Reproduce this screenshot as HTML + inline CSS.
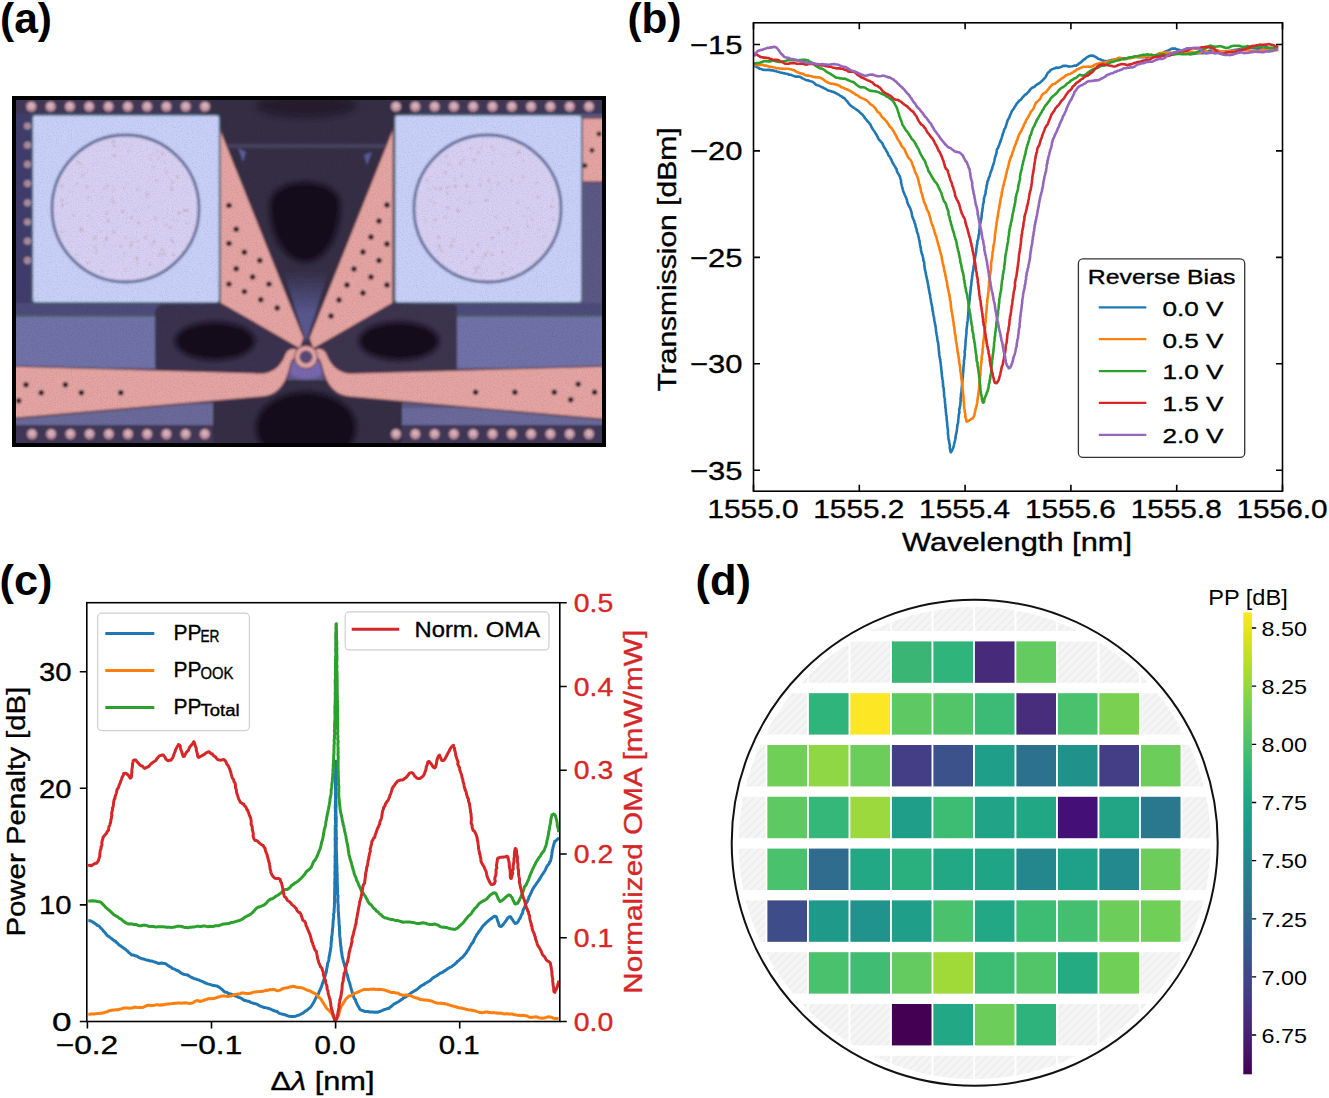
<!DOCTYPE html>
<html><head><meta charset="utf-8"><style>
html,body{margin:0;padding:0;background:#fff;width:1329px;height:1098px;overflow:hidden}
svg{display:block}
</style></head><body>
<svg width="1329" height="1098" viewBox="0 0 1329 1098">
<rect width="1329" height="1098" fill="#fff"/>
<text x="0.0" y="32.5" font-size="43" text-anchor="start" fill="#000" font-weight="bold" font-family='"Liberation Sans", sans-serif' textLength="52.0" lengthAdjust="spacingAndGlyphs">(a)</text>
<defs><clipPath id="aclip"><rect x="16" y="100" width="586" height="343"/></clipPath><filter id="blur2" x="-20%" y="-20%" width="140%" height="140%"><feGaussianBlur stdDeviation="2.5"/></filter><filter id="blur1" x="-20%" y="-20%" width="140%" height="140%"><feGaussianBlur stdDeviation="1"/></filter><filter id="gblur" x="0" y="0" width="100%" height="100%"><feGaussianBlur stdDeviation="0.9"/></filter></defs>
<g clip-path="url(#aclip)"><g filter="url(#gblur)">
<rect x="10" y="94" width="600" height="355" fill="#5b5884"/>
<rect x="10" y="94" width="600" height="20" fill="#3f3756"/>
<rect x="10" y="425" width="600" height="24" fill="#3f3756"/>
<rect x="10" y="114" width="22" height="190" fill="#403d6c"/>
<rect x="10" y="303" width="600" height="13" fill="#4e4c7a"/>
<rect x="10" y="316" width="600" height="52" fill="#7072a8"/>
<rect x="10" y="315.5" width="600" height="1.5" fill="#4a6a60"/>
<rect x="10" y="404" width="206" height="21" fill="#6b6999"/>
<rect x="400" y="408" width="210" height="17" fill="#6b6999"/>
<path d="M205,94 H410 V310 H205 Z" fill="#342e44"/>
<rect x="205" y="144" width="205" height="4" fill="#48435e"/>
<ellipse cx="306" cy="106" rx="50" ry="12" fill="#1c1424" opacity="0.6" filter="url(#blur2)"/>
<path d="M270,205 C270,175 340,175 340,205 C340,240 322,262 305,262 C288,262 270,240 270,205 Z" fill="#150d1a" filter="url(#blur2)"/>
<path d="M238,148 l8,4 -3,10z M372,152 l-8,3 3,10z" fill="#5a5c98"/>
<path d="M213,380 H402 V449 H213 Z" fill="#352f45"/>
<ellipse cx="306" cy="428" rx="50" ry="36" fill="#150d1a" filter="url(#blur2)"/>
<rect x="155" y="304" width="160" height="70" rx="9" fill="#3a3350"/>
<path d="M300,304 H452 Q457,304 457,310 V368 Q457,374 452,374 H300 Z" fill="#3c3450"/>
<ellipse cx="215" cy="341" rx="40" ry="19" fill="#150d1a" filter="url(#blur2)"/>
<ellipse cx="399" cy="341" rx="40" ry="19" fill="#150d1a" filter="url(#blur2)"/>
<ellipse cx="306" cy="368" rx="20" ry="11" fill="#7868ae" filter="url(#blur1)"/>
<defs><linearGradient id="vgrad" x1="0" y1="0" x2="0" y2="1"><stop offset="0" stop-color="#342e44"/><stop offset="0.6" stop-color="#58588e"/></linearGradient></defs>
<path d="M283,270 L329,270 L306,342 Z" fill="url(#vgrad)"/>
<path d="M219.5,127 L304,338 L300,349 L220,303 Z" fill="#e3a4a2" stroke="#5a3848" stroke-width="1.4"/>
<path d="M393.5,127 L309,338 L313,349 L393,303 Z" fill="#e3a4a2" stroke="#5a3848" stroke-width="1.4"/>
<path d="M8,366 L262,373 C276,372 282,362 285,354 C287,349 292,347 297,349 L300,356 C294,356 291,362 290,368 C286,385 278,396 262,397 L8,419 Z" fill="#e3a4a2" stroke="#5a3848" stroke-width="1.4"/>
<path d="M610,366 L350,373 C336,372 330,362 327,354 C325,349 320,347 315,349 L312,356 C318,356 321,362 322,368 C326,385 334,396 350,397 L610,420 Z" fill="#e3a4a2" stroke="#5a3848" stroke-width="1.4"/>
<circle cx="306" cy="357" r="9" fill="#5a4878" stroke="#e3a4a2" stroke-width="5"/>
<circle cx="306" cy="357" r="11.5" fill="none" stroke="#5a3848" stroke-width="1"/>
<rect x="582" y="118" width="28" height="64" fill="#e3a4a2" stroke="#5a3848" stroke-width="1.2"/>
<rect x="32.3" y="115" width="187.3" height="187.7" rx="3" fill="#c9d0f8" stroke="#4a6a78" stroke-width="1.6"/>
<circle cx="125.5" cy="208.5" r="73.5" fill="#d8d0f2" stroke="#5e6c9a" stroke-width="2.8"/>
<rect x="394.6" y="115" width="187.3" height="187.7" rx="3" fill="#c9d0f8" stroke="#4a6a78" stroke-width="1.6"/>
<circle cx="487.5" cy="208.5" r="73.5" fill="#d8d0f2" stroke="#5e6c9a" stroke-width="2.8"/>
<circle cx="80.0" cy="162.9" r="1.1" fill="#a89098" opacity="0.7"/>
<circle cx="131.3" cy="245.3" r="1.2" fill="#a89098" opacity="0.7"/>
<circle cx="187.1" cy="210.5" r="1.2" fill="#a89098" opacity="0.7"/>
<circle cx="88.8" cy="216.0" r="0.8" fill="#a89098" opacity="0.7"/>
<circle cx="124.1" cy="253.8" r="1.0" fill="#a89098" opacity="0.7"/>
<circle cx="61.5" cy="186.1" r="1.2" fill="#a89098" opacity="0.7"/>
<circle cx="76.8" cy="161.5" r="0.8" fill="#a89098" opacity="0.7"/>
<circle cx="154.0" cy="253.5" r="0.6" fill="#a89098" opacity="0.7"/>
<circle cx="173.1" cy="219.3" r="0.9" fill="#a89098" opacity="0.7"/>
<circle cx="172.3" cy="181.7" r="1.0" fill="#a89098" opacity="0.7"/>
<circle cx="91.7" cy="209.2" r="0.6" fill="#a89098" opacity="0.7"/>
<circle cx="145.5" cy="261.4" r="0.7" fill="#a89098" opacity="0.7"/>
<circle cx="122.7" cy="211.5" r="1.2" fill="#a89098" opacity="0.7"/>
<circle cx="145.4" cy="237.5" r="1.2" fill="#a89098" opacity="0.7"/>
<circle cx="63.0" cy="204.7" r="1.0" fill="#a89098" opacity="0.7"/>
<circle cx="124.4" cy="188.0" r="1.0" fill="#a89098" opacity="0.7"/>
<circle cx="62.1" cy="205.4" r="0.9" fill="#a89098" opacity="0.7"/>
<circle cx="112.0" cy="198.9" r="0.9" fill="#a89098" opacity="0.7"/>
<circle cx="113.8" cy="232.1" r="1.2" fill="#a89098" opacity="0.7"/>
<circle cx="76.6" cy="254.7" r="1.0" fill="#a89098" opacity="0.7"/>
<circle cx="82.6" cy="175.2" r="1.1" fill="#a89098" opacity="0.7"/>
<circle cx="151.8" cy="245.1" r="0.8" fill="#a89098" opacity="0.7"/>
<circle cx="108.2" cy="220.7" r="1.3" fill="#a89098" opacity="0.7"/>
<circle cx="137.7" cy="262.9" r="0.8" fill="#a89098" opacity="0.7"/>
<circle cx="164.4" cy="169.1" r="0.7" fill="#a89098" opacity="0.7"/>
<circle cx="162.7" cy="153.8" r="1.2" fill="#a89098" opacity="0.7"/>
<circle cx="102.0" cy="197.5" r="0.7" fill="#a89098" opacity="0.7"/>
<circle cx="170.9" cy="186.4" r="0.7" fill="#a89098" opacity="0.7"/>
<circle cx="166.1" cy="172.2" r="1.0" fill="#a89098" opacity="0.7"/>
<circle cx="94.4" cy="239.1" r="0.8" fill="#a89098" opacity="0.7"/>
<circle cx="187.3" cy="223.6" r="0.9" fill="#a89098" opacity="0.7"/>
<circle cx="88.6" cy="197.1" r="1.1" fill="#a89098" opacity="0.7"/>
<circle cx="166.5" cy="215.0" r="0.6" fill="#a89098" opacity="0.7"/>
<circle cx="173.4" cy="255.2" r="1.1" fill="#a89098" opacity="0.7"/>
<circle cx="81.2" cy="229.9" r="1.2" fill="#a89098" opacity="0.7"/>
<circle cx="96.3" cy="251.9" r="1.1" fill="#a89098" opacity="0.7"/>
<circle cx="95.4" cy="247.1" r="1.1" fill="#a89098" opacity="0.7"/>
<circle cx="147.7" cy="194.2" r="1.3" fill="#a89098" opacity="0.7"/>
<circle cx="184.5" cy="210.4" r="1.2" fill="#a89098" opacity="0.7"/>
<circle cx="154.2" cy="241.8" r="1.2" fill="#a89098" opacity="0.7"/>
<circle cx="179.2" cy="213.3" r="1.2" fill="#a89098" opacity="0.7"/>
<circle cx="67.8" cy="203.8" r="0.8" fill="#a89098" opacity="0.7"/>
<circle cx="138.5" cy="247.4" r="0.7" fill="#a89098" opacity="0.7"/>
<circle cx="87.9" cy="263.0" r="1.0" fill="#a89098" opacity="0.7"/>
<circle cx="106.5" cy="238.4" r="1.3" fill="#a89098" opacity="0.7"/>
<circle cx="62.2" cy="231.5" r="1.0" fill="#a89098" opacity="0.7"/>
<circle cx="61.7" cy="200.0" r="1.1" fill="#a89098" opacity="0.7"/>
<circle cx="86.7" cy="186.9" r="1.2" fill="#a89098" opacity="0.7"/>
<circle cx="70.0" cy="242.9" r="0.6" fill="#a89098" opacity="0.7"/>
<circle cx="81.2" cy="229.4" r="1.3" fill="#a89098" opacity="0.7"/>
<circle cx="125.1" cy="269.5" r="1.1" fill="#a89098" opacity="0.7"/>
<circle cx="114.4" cy="155.7" r="1.3" fill="#a89098" opacity="0.7"/>
<circle cx="104.2" cy="245.8" r="0.7" fill="#a89098" opacity="0.7"/>
<circle cx="155.3" cy="218.3" r="1.2" fill="#a89098" opacity="0.7"/>
<circle cx="137.7" cy="189.3" r="1.0" fill="#a89098" opacity="0.7"/>
<circle cx="73.5" cy="215.3" r="1.1" fill="#a89098" opacity="0.7"/>
<circle cx="102.3" cy="271.0" r="0.9" fill="#a89098" opacity="0.7"/>
<circle cx="87.9" cy="169.4" r="0.7" fill="#a89098" opacity="0.7"/>
<circle cx="165.9" cy="225.0" r="1.1" fill="#a89098" opacity="0.7"/>
<circle cx="148.6" cy="155.2" r="0.7" fill="#a89098" opacity="0.7"/>
<circle cx="177.6" cy="177.0" r="1.2" fill="#a89098" opacity="0.7"/>
<circle cx="61.1" cy="199.0" r="0.6" fill="#a89098" opacity="0.7"/>
<circle cx="135.0" cy="210.3" r="0.8" fill="#a89098" opacity="0.7"/>
<circle cx="125.8" cy="237.9" r="1.0" fill="#a89098" opacity="0.7"/>
<circle cx="176.2" cy="221.2" r="0.7" fill="#a89098" opacity="0.7"/>
<circle cx="121.2" cy="199.6" r="0.8" fill="#a89098" opacity="0.7"/>
<circle cx="171.7" cy="189.6" r="1.2" fill="#a89098" opacity="0.7"/>
<circle cx="96.5" cy="164.0" r="0.7" fill="#a89098" opacity="0.7"/>
<circle cx="113.4" cy="202.4" r="1.2" fill="#a89098" opacity="0.7"/>
<circle cx="186.4" cy="192.9" r="0.6" fill="#a89098" opacity="0.7"/>
<circle cx="105.2" cy="241.0" r="0.7" fill="#a89098" opacity="0.7"/>
<circle cx="83.0" cy="165.1" r="0.8" fill="#a89098" opacity="0.7"/>
<circle cx="165.0" cy="162.4" r="0.7" fill="#a89098" opacity="0.7"/>
<circle cx="132.3" cy="145.0" r="0.7" fill="#a89098" opacity="0.7"/>
<circle cx="76.9" cy="184.2" r="1.0" fill="#a89098" opacity="0.7"/>
<circle cx="171.0" cy="239.9" r="1.0" fill="#a89098" opacity="0.7"/>
<circle cx="152.8" cy="154.0" r="0.8" fill="#a89098" opacity="0.7"/>
<circle cx="114.4" cy="146.1" r="1.2" fill="#a89098" opacity="0.7"/>
<circle cx="131.4" cy="217.9" r="1.1" fill="#a89098" opacity="0.7"/>
<circle cx="136.7" cy="258.3" r="1.3" fill="#a89098" opacity="0.7"/>
<circle cx="100.7" cy="232.0" r="0.9" fill="#a89098" opacity="0.7"/>
<circle cx="113.6" cy="190.4" r="0.9" fill="#a89098" opacity="0.7"/>
<circle cx="162.4" cy="249.7" r="1.2" fill="#a89098" opacity="0.7"/>
<circle cx="95.8" cy="237.5" r="1.0" fill="#a89098" opacity="0.7"/>
<circle cx="132.9" cy="241.5" r="0.8" fill="#a89098" opacity="0.7"/>
<circle cx="106.8" cy="213.6" r="1.1" fill="#a89098" opacity="0.7"/>
<circle cx="92.8" cy="190.8" r="0.7" fill="#a89098" opacity="0.7"/>
<circle cx="127.5" cy="184.0" r="0.7" fill="#a89098" opacity="0.7"/>
<circle cx="138.7" cy="222.7" r="1.2" fill="#a89098" opacity="0.7"/>
<circle cx="121.0" cy="245.9" r="1.2" fill="#a89098" opacity="0.7"/>
<circle cx="104.0" cy="188.4" r="0.9" fill="#a89098" opacity="0.7"/>
<circle cx="156.6" cy="180.7" r="1.1" fill="#a89098" opacity="0.7"/>
<circle cx="173.1" cy="241.6" r="1.1" fill="#a89098" opacity="0.7"/>
<circle cx="151.1" cy="158.9" r="0.9" fill="#a89098" opacity="0.7"/>
<circle cx="170.5" cy="227.7" r="1.1" fill="#a89098" opacity="0.7"/>
<circle cx="138.2" cy="241.2" r="1.0" fill="#a89098" opacity="0.7"/>
<circle cx="124.8" cy="144.1" r="0.7" fill="#a89098" opacity="0.7"/>
<circle cx="149.9" cy="264.2" r="1.1" fill="#a89098" opacity="0.7"/>
<circle cx="113.2" cy="141.7" r="1.3" fill="#a89098" opacity="0.7"/>
<circle cx="158.6" cy="158.5" r="0.9" fill="#a89098" opacity="0.7"/>
<circle cx="107.1" cy="185.9" r="1.1" fill="#a89098" opacity="0.7"/>
<circle cx="128.3" cy="150.8" r="0.9" fill="#a89098" opacity="0.7"/>
<circle cx="93.7" cy="239.0" r="0.6" fill="#a89098" opacity="0.7"/>
<circle cx="153.5" cy="167.0" r="0.9" fill="#a89098" opacity="0.7"/>
<circle cx="70.3" cy="191.3" r="0.9" fill="#a89098" opacity="0.7"/>
<circle cx="157.1" cy="151.5" r="0.9" fill="#a89098" opacity="0.7"/>
<circle cx="163.9" cy="253.7" r="1.3" fill="#a89098" opacity="0.7"/>
<circle cx="159.8" cy="254.5" r="1.2" fill="#a89098" opacity="0.7"/>
<circle cx="146.5" cy="197.1" r="0.7" fill="#a89098" opacity="0.7"/>
<circle cx="148.7" cy="206.7" r="0.7" fill="#a89098" opacity="0.7"/>
<circle cx="447.0" cy="187.9" r="1.1" fill="#a89098" opacity="0.7"/>
<circle cx="511.2" cy="269.0" r="0.8" fill="#a89098" opacity="0.7"/>
<circle cx="489.6" cy="190.9" r="0.9" fill="#a89098" opacity="0.7"/>
<circle cx="524.8" cy="216.2" r="0.8" fill="#a89098" opacity="0.7"/>
<circle cx="478.8" cy="163.5" r="0.6" fill="#a89098" opacity="0.7"/>
<circle cx="551.6" cy="206.6" r="1.2" fill="#a89098" opacity="0.7"/>
<circle cx="488.4" cy="251.2" r="0.8" fill="#a89098" opacity="0.7"/>
<circle cx="496.2" cy="217.2" r="1.0" fill="#a89098" opacity="0.7"/>
<circle cx="507.9" cy="228.5" r="1.2" fill="#a89098" opacity="0.7"/>
<circle cx="458.5" cy="211.4" r="1.1" fill="#a89098" opacity="0.7"/>
<circle cx="482.6" cy="257.6" r="0.8" fill="#a89098" opacity="0.7"/>
<circle cx="433.9" cy="203.0" r="1.0" fill="#a89098" opacity="0.7"/>
<circle cx="439.6" cy="245.4" r="1.2" fill="#a89098" opacity="0.7"/>
<circle cx="498.3" cy="231.2" r="0.7" fill="#a89098" opacity="0.7"/>
<circle cx="552.9" cy="200.1" r="0.8" fill="#a89098" opacity="0.7"/>
<circle cx="517.9" cy="202.7" r="1.0" fill="#a89098" opacity="0.7"/>
<circle cx="422.5" cy="209.6" r="0.6" fill="#a89098" opacity="0.7"/>
<circle cx="466.5" cy="256.8" r="0.6" fill="#a89098" opacity="0.7"/>
<circle cx="491.4" cy="254.7" r="1.2" fill="#a89098" opacity="0.7"/>
<circle cx="491.8" cy="146.7" r="1.1" fill="#a89098" opacity="0.7"/>
<circle cx="471.0" cy="148.0" r="1.1" fill="#a89098" opacity="0.7"/>
<circle cx="484.1" cy="171.3" r="0.7" fill="#a89098" opacity="0.7"/>
<circle cx="488.6" cy="180.8" r="1.2" fill="#a89098" opacity="0.7"/>
<circle cx="455.4" cy="186.2" r="1.3" fill="#a89098" opacity="0.7"/>
<circle cx="514.9" cy="248.9" r="0.7" fill="#a89098" opacity="0.7"/>
<circle cx="537.9" cy="197.4" r="1.2" fill="#a89098" opacity="0.7"/>
<circle cx="475.4" cy="268.2" r="1.1" fill="#a89098" opacity="0.7"/>
<circle cx="446.4" cy="156.5" r="0.9" fill="#a89098" opacity="0.7"/>
<circle cx="438.8" cy="237.3" r="1.2" fill="#a89098" opacity="0.7"/>
<circle cx="459.2" cy="256.4" r="0.7" fill="#a89098" opacity="0.7"/>
<circle cx="431.0" cy="189.5" r="0.6" fill="#a89098" opacity="0.7"/>
<circle cx="486.3" cy="200.1" r="1.3" fill="#a89098" opacity="0.7"/>
<circle cx="444.8" cy="217.0" r="1.1" fill="#a89098" opacity="0.7"/>
<circle cx="430.0" cy="200.0" r="0.7" fill="#a89098" opacity="0.7"/>
<circle cx="440.6" cy="189.0" r="1.3" fill="#a89098" opacity="0.7"/>
<circle cx="531.8" cy="219.8" r="1.0" fill="#a89098" opacity="0.7"/>
<circle cx="469.9" cy="202.7" r="1.0" fill="#a89098" opacity="0.7"/>
<circle cx="492.7" cy="238.1" r="1.2" fill="#a89098" opacity="0.7"/>
<circle cx="502.3" cy="251.9" r="1.1" fill="#a89098" opacity="0.7"/>
<circle cx="474.1" cy="159.7" r="1.2" fill="#a89098" opacity="0.7"/>
<circle cx="435.2" cy="219.9" r="1.2" fill="#a89098" opacity="0.7"/>
<circle cx="463.7" cy="159.5" r="0.9" fill="#a89098" opacity="0.7"/>
<circle cx="447.5" cy="193.2" r="1.1" fill="#a89098" opacity="0.7"/>
<circle cx="453.6" cy="240.2" r="1.1" fill="#a89098" opacity="0.7"/>
<circle cx="448.0" cy="207.6" r="1.2" fill="#a89098" opacity="0.7"/>
<circle cx="441.7" cy="251.0" r="1.1" fill="#a89098" opacity="0.7"/>
<circle cx="433.2" cy="227.2" r="0.6" fill="#a89098" opacity="0.7"/>
<circle cx="439.0" cy="248.8" r="1.0" fill="#a89098" opacity="0.7"/>
<circle cx="435.7" cy="188.8" r="1.1" fill="#a89098" opacity="0.7"/>
<circle cx="449.3" cy="186.4" r="0.7" fill="#a89098" opacity="0.7"/>
<circle cx="477.8" cy="244.0" r="0.9" fill="#a89098" opacity="0.7"/>
<circle cx="527.9" cy="208.3" r="0.9" fill="#a89098" opacity="0.7"/>
<circle cx="451.6" cy="245.9" r="1.3" fill="#a89098" opacity="0.7"/>
<circle cx="519.5" cy="181.7" r="0.8" fill="#a89098" opacity="0.7"/>
<circle cx="523.2" cy="176.8" r="1.1" fill="#a89098" opacity="0.7"/>
<circle cx="544.2" cy="236.6" r="0.8" fill="#a89098" opacity="0.7"/>
<circle cx="457.3" cy="209.5" r="0.9" fill="#a89098" opacity="0.7"/>
<circle cx="516.6" cy="153.9" r="0.9" fill="#a89098" opacity="0.7"/>
<circle cx="492.7" cy="162.8" r="0.9" fill="#a89098" opacity="0.7"/>
<circle cx="458.2" cy="199.8" r="0.8" fill="#a89098" opacity="0.7"/>
<circle cx="471.4" cy="151.0" r="0.6" fill="#a89098" opacity="0.7"/>
<circle cx="480.9" cy="147.4" r="0.9" fill="#a89098" opacity="0.7"/>
<circle cx="539.4" cy="230.0" r="0.8" fill="#a89098" opacity="0.7"/>
<circle cx="461.6" cy="175.8" r="1.0" fill="#a89098" opacity="0.7"/>
<circle cx="485.1" cy="255.4" r="1.0" fill="#a89098" opacity="0.7"/>
<circle cx="466.7" cy="186.0" r="1.3" fill="#a89098" opacity="0.7"/>
<circle cx="478.3" cy="245.0" r="0.8" fill="#a89098" opacity="0.7"/>
<circle cx="527.8" cy="226.7" r="1.1" fill="#a89098" opacity="0.7"/>
<circle cx="479.9" cy="179.4" r="0.7" fill="#a89098" opacity="0.7"/>
<circle cx="461.6" cy="262.2" r="0.9" fill="#a89098" opacity="0.7"/>
<circle cx="536.3" cy="182.9" r="1.0" fill="#a89098" opacity="0.7"/>
<circle cx="494.0" cy="150.0" r="0.8" fill="#a89098" opacity="0.7"/>
<circle cx="485.5" cy="253.4" r="0.9" fill="#a89098" opacity="0.7"/>
<circle cx="515.9" cy="243.6" r="1.0" fill="#a89098" opacity="0.7"/>
<circle cx="504.1" cy="227.5" r="0.7" fill="#a89098" opacity="0.7"/>
<circle cx="473.6" cy="273.7" r="0.6" fill="#a89098" opacity="0.7"/>
<circle cx="498.7" cy="233.8" r="0.9" fill="#a89098" opacity="0.7"/>
<circle cx="533.3" cy="212.9" r="0.7" fill="#a89098" opacity="0.7"/>
<circle cx="480.0" cy="268.6" r="0.7" fill="#a89098" opacity="0.7"/>
<circle cx="455.4" cy="179.4" r="0.9" fill="#a89098" opacity="0.7"/>
<circle cx="498.6" cy="183.6" r="1.2" fill="#a89098" opacity="0.7"/>
<circle cx="531.1" cy="174.0" r="0.6" fill="#a89098" opacity="0.7"/>
<circle cx="460.2" cy="163.4" r="1.1" fill="#a89098" opacity="0.7"/>
<circle cx="502.5" cy="273.2" r="1.2" fill="#a89098" opacity="0.7"/>
<circle cx="516.2" cy="233.6" r="0.6" fill="#a89098" opacity="0.7"/>
<circle cx="519.2" cy="151.7" r="1.3" fill="#a89098" opacity="0.7"/>
<circle cx="445.2" cy="172.6" r="1.1" fill="#a89098" opacity="0.7"/>
<circle cx="427.5" cy="180.2" r="1.0" fill="#a89098" opacity="0.7"/>
<circle cx="462.5" cy="250.3" r="0.6" fill="#a89098" opacity="0.7"/>
<circle cx="478.3" cy="152.6" r="0.9" fill="#a89098" opacity="0.7"/>
<circle cx="522.7" cy="161.0" r="0.8" fill="#a89098" opacity="0.7"/>
<circle cx="509.4" cy="220.1" r="0.7" fill="#a89098" opacity="0.7"/>
<circle cx="472.4" cy="251.4" r="1.2" fill="#a89098" opacity="0.7"/>
<circle cx="476.1" cy="271.9" r="1.1" fill="#a89098" opacity="0.7"/>
<circle cx="513.6" cy="174.1" r="0.6" fill="#a89098" opacity="0.7"/>
<circle cx="495.3" cy="175.7" r="0.7" fill="#a89098" opacity="0.7"/>
<circle cx="504.7" cy="154.9" r="0.7" fill="#a89098" opacity="0.7"/>
<circle cx="480.2" cy="274.0" r="0.8" fill="#a89098" opacity="0.7"/>
<circle cx="480.3" cy="185.1" r="1.2" fill="#a89098" opacity="0.7"/>
<circle cx="523.6" cy="241.4" r="0.6" fill="#a89098" opacity="0.7"/>
<circle cx="428.0" cy="189.1" r="0.7" fill="#a89098" opacity="0.7"/>
<circle cx="478.5" cy="267.3" r="1.0" fill="#a89098" opacity="0.7"/>
<circle cx="466.8" cy="258.3" r="0.9" fill="#a89098" opacity="0.7"/>
<circle cx="511.4" cy="180.5" r="1.1" fill="#a89098" opacity="0.7"/>
<circle cx="449.0" cy="164.4" r="0.9" fill="#a89098" opacity="0.7"/>
<circle cx="478.6" cy="152.4" r="0.9" fill="#a89098" opacity="0.7"/>
<circle cx="553.3" cy="219.5" r="1.1" fill="#a89098" opacity="0.7"/>
<circle cx="503.8" cy="264.3" r="0.8" fill="#a89098" opacity="0.7"/>
<circle cx="425.6" cy="220.6" r="0.9" fill="#a89098" opacity="0.7"/>
<circle cx="478.6" cy="245.0" r="0.7" fill="#a89098" opacity="0.7"/>
<circle cx="229" cy="205.4" r="2.7" fill="#2a1828"/>
<circle cx="236.2" cy="229.3" r="2.7" fill="#2a1828"/>
<circle cx="229" cy="243.4" r="2.7" fill="#2a1828"/>
<circle cx="244.4" cy="252.3" r="2.7" fill="#2a1828"/>
<circle cx="259.8" cy="260.5" r="2.7" fill="#2a1828"/>
<circle cx="236.2" cy="268.7" r="2.7" fill="#2a1828"/>
<circle cx="252.6" cy="276.9" r="2.7" fill="#2a1828"/>
<circle cx="269" cy="284.1" r="2.7" fill="#2a1828"/>
<circle cx="229" cy="284.1" r="2.7" fill="#2a1828"/>
<circle cx="244.4" cy="291.6" r="2.7" fill="#2a1828"/>
<circle cx="260.8" cy="299.8" r="2.7" fill="#2a1828"/>
<circle cx="277.2" cy="308" r="2.7" fill="#2a1828"/>
<circle cx="387" cy="205" r="2.7" fill="#2a1828"/>
<circle cx="379" cy="221" r="2.7" fill="#2a1828"/>
<circle cx="371" cy="237" r="2.7" fill="#2a1828"/>
<circle cx="387" cy="244" r="2.7" fill="#2a1828"/>
<circle cx="363" cy="252" r="2.7" fill="#2a1828"/>
<circle cx="379" cy="260.5" r="2.7" fill="#2a1828"/>
<circle cx="354" cy="269" r="2.7" fill="#2a1828"/>
<circle cx="371" cy="277" r="2.7" fill="#2a1828"/>
<circle cx="387" cy="285" r="2.7" fill="#2a1828"/>
<circle cx="347" cy="285" r="2.7" fill="#2a1828"/>
<circle cx="363" cy="293" r="2.7" fill="#2a1828"/>
<circle cx="339" cy="300" r="2.7" fill="#2a1828"/>
<circle cx="331" cy="316" r="2.7" fill="#2a1828"/>
<circle cx="26" cy="384.8" r="2.7" fill="#2a1828"/>
<circle cx="41.3" cy="392.8" r="2.7" fill="#2a1828"/>
<circle cx="65.4" cy="384.8" r="2.7" fill="#2a1828"/>
<circle cx="81.4" cy="392.8" r="2.7" fill="#2a1828"/>
<circle cx="120.8" cy="392.8" r="2.7" fill="#2a1828"/>
<circle cx="18.7" cy="400.8" r="2.7" fill="#2a1828"/>
<circle cx="475.6" cy="392.3" r="2.7" fill="#2a1828"/>
<circle cx="514.9" cy="392.3" r="2.7" fill="#2a1828"/>
<circle cx="554.3" cy="392.3" r="2.7" fill="#2a1828"/>
<circle cx="578.2" cy="384.1" r="2.7" fill="#2a1828"/>
<circle cx="570.7" cy="399.8" r="2.7" fill="#2a1828"/>
<circle cx="594.6" cy="392.3" r="2.7" fill="#2a1828"/>
<circle cx="599" cy="134" r="2.4" fill="#2a1828"/>
<circle cx="592" cy="150.3" r="2.4" fill="#2a1828"/>
<circle cx="585" cy="165.7" r="2.4" fill="#2a1828"/>
<circle cx="31.3" cy="106.5" r="5.2" fill="#bc8c9c"/>
<circle cx="31.3" cy="105.7" r="3" fill="#d8b4bc"/>
<circle cx="50.6" cy="106.5" r="5.2" fill="#bc8c9c"/>
<circle cx="50.6" cy="105.7" r="3" fill="#d8b4bc"/>
<circle cx="69.9" cy="106.5" r="5.2" fill="#bc8c9c"/>
<circle cx="69.9" cy="105.7" r="3" fill="#d8b4bc"/>
<circle cx="89.2" cy="106.5" r="5.2" fill="#bc8c9c"/>
<circle cx="89.2" cy="105.7" r="3" fill="#d8b4bc"/>
<circle cx="108.5" cy="106.5" r="5.2" fill="#bc8c9c"/>
<circle cx="108.5" cy="105.7" r="3" fill="#d8b4bc"/>
<circle cx="127.8" cy="106.5" r="5.2" fill="#bc8c9c"/>
<circle cx="127.8" cy="105.7" r="3" fill="#d8b4bc"/>
<circle cx="147.1" cy="106.5" r="5.2" fill="#bc8c9c"/>
<circle cx="147.1" cy="105.7" r="3" fill="#d8b4bc"/>
<circle cx="166.4" cy="106.5" r="5.2" fill="#bc8c9c"/>
<circle cx="166.4" cy="105.7" r="3" fill="#d8b4bc"/>
<circle cx="185.7" cy="106.5" r="5.2" fill="#bc8c9c"/>
<circle cx="185.7" cy="105.7" r="3" fill="#d8b4bc"/>
<circle cx="205.0" cy="106.5" r="5.2" fill="#bc8c9c"/>
<circle cx="205.0" cy="105.7" r="3" fill="#d8b4bc"/>
<circle cx="396.0" cy="106.5" r="5.2" fill="#bc8c9c"/>
<circle cx="396.0" cy="105.7" r="3" fill="#d8b4bc"/>
<circle cx="415.3" cy="106.5" r="5.2" fill="#bc8c9c"/>
<circle cx="415.3" cy="105.7" r="3" fill="#d8b4bc"/>
<circle cx="434.6" cy="106.5" r="5.2" fill="#bc8c9c"/>
<circle cx="434.6" cy="105.7" r="3" fill="#d8b4bc"/>
<circle cx="453.9" cy="106.5" r="5.2" fill="#bc8c9c"/>
<circle cx="453.9" cy="105.7" r="3" fill="#d8b4bc"/>
<circle cx="473.2" cy="106.5" r="5.2" fill="#bc8c9c"/>
<circle cx="473.2" cy="105.7" r="3" fill="#d8b4bc"/>
<circle cx="492.5" cy="106.5" r="5.2" fill="#bc8c9c"/>
<circle cx="492.5" cy="105.7" r="3" fill="#d8b4bc"/>
<circle cx="511.8" cy="106.5" r="5.2" fill="#bc8c9c"/>
<circle cx="511.8" cy="105.7" r="3" fill="#d8b4bc"/>
<circle cx="531.1" cy="106.5" r="5.2" fill="#bc8c9c"/>
<circle cx="531.1" cy="105.7" r="3" fill="#d8b4bc"/>
<circle cx="550.4" cy="106.5" r="5.2" fill="#bc8c9c"/>
<circle cx="550.4" cy="105.7" r="3" fill="#d8b4bc"/>
<circle cx="569.7" cy="106.5" r="5.2" fill="#bc8c9c"/>
<circle cx="569.7" cy="105.7" r="3" fill="#d8b4bc"/>
<circle cx="589.0" cy="106.5" r="5.2" fill="#bc8c9c"/>
<circle cx="589.0" cy="105.7" r="3" fill="#d8b4bc"/>
<circle cx="32.0" cy="434" r="5.2" fill="#bc8c9c"/>
<circle cx="32.0" cy="433.2" r="3" fill="#d8b4bc"/>
<circle cx="51.2" cy="434" r="5.2" fill="#bc8c9c"/>
<circle cx="51.2" cy="433.2" r="3" fill="#d8b4bc"/>
<circle cx="70.4" cy="434" r="5.2" fill="#bc8c9c"/>
<circle cx="70.4" cy="433.2" r="3" fill="#d8b4bc"/>
<circle cx="89.6" cy="434" r="5.2" fill="#bc8c9c"/>
<circle cx="89.6" cy="433.2" r="3" fill="#d8b4bc"/>
<circle cx="108.8" cy="434" r="5.2" fill="#bc8c9c"/>
<circle cx="108.8" cy="433.2" r="3" fill="#d8b4bc"/>
<circle cx="128.0" cy="434" r="5.2" fill="#bc8c9c"/>
<circle cx="128.0" cy="433.2" r="3" fill="#d8b4bc"/>
<circle cx="147.2" cy="434" r="5.2" fill="#bc8c9c"/>
<circle cx="147.2" cy="433.2" r="3" fill="#d8b4bc"/>
<circle cx="166.4" cy="434" r="5.2" fill="#bc8c9c"/>
<circle cx="166.4" cy="433.2" r="3" fill="#d8b4bc"/>
<circle cx="185.6" cy="434" r="5.2" fill="#bc8c9c"/>
<circle cx="185.6" cy="433.2" r="3" fill="#d8b4bc"/>
<circle cx="204.8" cy="434" r="5.2" fill="#bc8c9c"/>
<circle cx="204.8" cy="433.2" r="3" fill="#d8b4bc"/>
<circle cx="396.0" cy="434" r="5.2" fill="#bc8c9c"/>
<circle cx="396.0" cy="433.2" r="3" fill="#d8b4bc"/>
<circle cx="415.3" cy="434" r="5.2" fill="#bc8c9c"/>
<circle cx="415.3" cy="433.2" r="3" fill="#d8b4bc"/>
<circle cx="434.6" cy="434" r="5.2" fill="#bc8c9c"/>
<circle cx="434.6" cy="433.2" r="3" fill="#d8b4bc"/>
<circle cx="453.9" cy="434" r="5.2" fill="#bc8c9c"/>
<circle cx="453.9" cy="433.2" r="3" fill="#d8b4bc"/>
<circle cx="473.2" cy="434" r="5.2" fill="#bc8c9c"/>
<circle cx="473.2" cy="433.2" r="3" fill="#d8b4bc"/>
<circle cx="492.5" cy="434" r="5.2" fill="#bc8c9c"/>
<circle cx="492.5" cy="433.2" r="3" fill="#d8b4bc"/>
<circle cx="511.8" cy="434" r="5.2" fill="#bc8c9c"/>
<circle cx="511.8" cy="433.2" r="3" fill="#d8b4bc"/>
<circle cx="531.1" cy="434" r="5.2" fill="#bc8c9c"/>
<circle cx="531.1" cy="433.2" r="3" fill="#d8b4bc"/>
<circle cx="550.4" cy="434" r="5.2" fill="#bc8c9c"/>
<circle cx="550.4" cy="433.2" r="3" fill="#d8b4bc"/>
<circle cx="569.7" cy="434" r="5.2" fill="#bc8c9c"/>
<circle cx="569.7" cy="433.2" r="3" fill="#d8b4bc"/>
<circle cx="589.0" cy="434" r="5.2" fill="#bc8c9c"/>
<circle cx="589.0" cy="433.2" r="3" fill="#d8b4bc"/>
<circle cx="27.5" cy="126.0" r="3.6" fill="#a88c9c"/>
<circle cx="27.5" cy="145.2" r="3.6" fill="#a88c9c"/>
<circle cx="27.5" cy="164.4" r="3.6" fill="#a88c9c"/>
<circle cx="27.5" cy="183.6" r="3.6" fill="#a88c9c"/>
<circle cx="27.5" cy="202.8" r="3.6" fill="#a88c9c"/>
<circle cx="27.5" cy="222.0" r="3.6" fill="#a88c9c"/>
<circle cx="27.5" cy="241.2" r="3.6" fill="#a88c9c"/>
<circle cx="27.5" cy="260.4" r="3.6" fill="#a88c9c"/>
</g>
<filter id="grain" x="0" y="0" width="100%" height="100%"><feTurbulence type="fractalNoise" baseFrequency="0.8" numOctaves="2" seed="5"/><feColorMatrix type="matrix" values="0 0 0 0 0  0 0 0 0 0  0 0 0 0 0  0 0 0 1.2 -0.55"/></filter>
<rect x="16" y="100" width="586" height="343" filter="url(#grain)" opacity="0.18"/>
</g>
<rect x="14" y="98" width="590" height="347" fill="none" stroke="#000" stroke-width="4"/>
<text x="627.5" y="33.0" font-size="43" text-anchor="start" fill="#000" font-weight="bold" font-family='"Liberation Sans", sans-serif' textLength="54.0" lengthAdjust="spacingAndGlyphs">(b)</text>
<g fill="none" stroke-width="2.6" stroke-linejoin="round" stroke-linecap="butt">
<path d="M754.2,65.7 L755.4,66.3 L756.7,67.1 L758.4,67.8 L759.9,68.8 L761.4,69.1 L762.9,69.8 L764.3,69.9 L765.8,70.0 L767.2,69.9 L768.7,69.9 L770.0,70.1 L771.5,70.4 L773.1,70.4 L774.5,71.0 L775.8,71.0 L777.2,71.7 L779.0,72.0 L780.3,72.5 L781.8,72.7 L783.2,73.1 L784.8,73.4 L786.2,73.7 L787.7,74.0 L789.2,74.7 L790.7,74.8 L792.3,75.4 L793.7,76.1 L795.3,76.6 L796.4,76.5 L798.0,76.6 L799.6,76.7 L800.9,77.2 L802.4,78.4 L803.8,78.9 L805.2,79.6 L806.6,80.2 L808.2,80.4 L809.5,81.0 L810.7,81.3 L812.1,81.5 L813.4,82.5 L814.7,83.5 L816.0,84.7 L817.4,85.2 L818.8,85.5 L819.9,86.2 L821.3,86.9 L822.7,87.5 L824.0,88.2 L825.5,88.7 L826.6,89.5 L827.9,90.4 L829.4,90.7 L830.6,91.0 L832.1,91.7 L833.3,91.9 L835.0,92.7 L836.5,93.4 L837.6,94.2 L838.9,94.6 L840.3,95.9 L841.6,96.2 L842.5,97.4 L843.8,97.8 L844.9,98.8 L846.0,100.1 L847.2,101.3 L848.2,102.8 L849.3,104.1 L850.3,105.3 L851.7,106.4 L852.7,107.0 L854.0,108.0 L855.0,108.6 L856.3,109.3 L857.4,110.4 L858.7,111.2 L859.8,112.5 L860.8,113.3 L862.4,114.6 L863.2,115.5 L864.1,116.7 L864.9,118.0 L866.0,119.3 L867.0,120.6 L867.8,121.6 L868.8,122.4 L869.4,123.4 L870.5,124.7 L871.3,126.7 L872.0,127.8 L872.8,129.2 L873.7,130.5 L874.6,131.5 L875.4,133.1 L876.2,134.3 L877.1,135.9 L878.0,137.9 L878.6,139.1 L879.3,140.0 L880.2,140.7 L881.0,141.9 L882.0,142.8 L882.7,144.2 L883.4,145.8 L884.0,147.1 L885.0,148.3 L885.6,149.3 L886.4,151.1 L887.2,152.1 L888.0,153.9 L888.5,155.3 L889.5,156.4 L890.1,157.4 L890.7,158.7 L891.5,160.0 L892.0,161.3 L892.9,163.3 L893.7,164.4 L894.2,165.6 L895.0,166.4 L895.5,167.7 L896.6,169.1 L896.8,170.9 L897.5,172.3 L898.1,173.5 L898.5,174.0 L899.1,175.3 L899.6,175.9 L900.1,177.3 L900.5,178.8 L901.0,180.4 L901.0,182.1 L901.4,183.7 L901.8,185.8 L902.4,187.7 L902.8,189.4 L903.2,190.9 L903.8,192.4 L904.3,193.6 L904.7,194.7 L905.3,196.1 L905.8,197.0 L906.3,198.5 L907.0,200.2 L907.2,202.2 L907.9,203.6 L908.4,205.0 L909.0,205.9 L909.5,207.0 L910.0,207.8 L910.5,209.2 L911.2,211.4 L911.7,213.1 L911.9,214.8 L912.3,216.6 L912.9,217.9 L913.2,219.0 L913.9,220.3 L914.3,221.1 L914.4,222.5 L915.1,223.9 L915.4,225.2 L915.7,226.9 L916.3,228.2 L916.8,230.0 L916.9,231.7 L917.3,232.5 L917.5,233.4 L918.1,234.4 L918.3,235.8 L918.8,237.6 L919.0,239.0 L919.4,240.6 L919.7,242.3 L919.9,244.5 L920.4,246.4 L920.9,248.3 L920.8,249.9 L921.4,251.7 L921.6,253.1 L921.8,253.7 L922.3,254.5 L922.6,255.9 L922.9,257.0 L923.3,258.7 L923.3,260.3 L924.0,261.6 L924.3,263.4 L924.3,265.6 L924.7,267.4 L924.8,269.2 L925.3,270.6 L925.6,272.6 L925.9,273.8 L926.1,275.4 L926.5,276.7 L926.7,277.8 L926.9,278.9 L927.3,280.4 L927.6,282.1 L927.9,283.8 L928.1,285.0 L928.5,286.3 L928.6,287.8 L929.0,289.3 L929.1,290.8 L929.4,292.2 L929.7,293.7 L930.1,294.8 L930.2,296.2 L930.4,298.0 L930.9,299.8 L931.0,301.5 L931.4,303.2 L931.6,304.7 L931.9,305.7 L932.3,307.4 L932.4,309.1 L932.6,310.8 L933.1,311.9 L933.1,313.7 L933.4,315.1 L933.7,316.3 L934.1,317.5 L934.1,318.9 L934.4,320.8 L934.8,322.4 L935.1,323.9 L935.2,325.1 L935.5,326.2 L935.7,327.5 L935.9,329.6 L936.0,331.4 L936.3,332.5 L936.5,333.7 L936.7,335.0 L937.0,336.4 L937.2,337.6 L937.3,339.4 L937.5,340.7 L937.9,342.1 L938.2,343.1 L938.2,344.4 L938.5,346.1 L938.7,348.2 L938.8,350.1 L939.1,352.2 L939.2,353.8 L939.3,355.4 L939.6,356.9 L939.9,358.0 L939.9,358.9 L940.3,359.8 L940.3,361.3 L940.7,363.2 L940.8,364.9 L941.1,366.9 L941.1,367.8 L941.3,369.1 L941.5,370.9 L941.6,372.5 L941.9,374.2 L941.9,375.9 L942.1,377.0 L942.3,378.2 L942.5,379.5 L942.9,380.9 L942.8,382.6 L943.2,384.3 L942.9,386.0 L943.4,387.1 L943.5,388.0 L943.9,389.3 L943.7,390.5 L944.0,392.1 L944.1,393.8 L944.0,395.4 L944.4,397.3 L944.9,399.3 L944.8,401.2 L945.0,402.4 L945.1,403.7 L945.4,404.9 L945.3,406.1 L945.5,408.1 L945.8,409.5 L945.8,411.4 L946.1,413.1 L946.1,414.6 L946.6,416.4 L946.6,418.1 L946.8,420.0 L947.0,421.9 L947.2,423.9 L947.3,425.4 L947.5,427.1 L947.8,429.1 L948.0,431.0 L947.9,433.5 L948.2,435.5 L948.4,437.7 L948.6,439.4 L949.0,440.7 L949.1,441.6 L949.2,442.8 L949.5,443.9 L949.9,445.5 L949.7,447.9 L950.2,449.6 L950.4,451.1 L950.6,451.9 L950.9,452.3 L950.9,452.0 L951.4,451.6 L951.8,450.9 L952.0,450.3 L952.3,449.8 L952.8,448.7 L953.4,447.2 L954.0,445.0 L954.2,443.4 L954.7,441.9 L955.2,439.8 L955.5,437.8 L955.8,435.3 L956.2,433.6 L956.7,431.7 L956.7,430.7 L956.9,429.5 L957.1,427.8 L957.4,426.1 L957.5,425.0 L957.9,423.6 L958.2,421.7 L958.2,420.0 L958.4,418.7 L958.6,417.0 L958.7,415.2 L958.9,414.0 L959.4,412.6 L959.3,411.0 L959.1,409.4 L959.8,407.9 L959.8,407.2 L960.0,406.0 L960.3,404.9 L960.4,403.2 L960.5,401.5 L960.7,400.4 L960.5,398.7 L960.9,396.7 L960.9,394.9 L961.1,393.5 L961.4,392.5 L961.5,391.0 L961.6,389.7 L961.7,387.9 L962.0,385.8 L962.0,384.8 L962.2,382.8 L962.3,381.7 L962.5,380.1 L962.5,378.9 L962.8,377.2 L962.9,375.5 L962.9,374.1 L963.2,372.3 L963.4,370.9 L963.2,370.0 L963.5,368.6 L963.5,367.1 L963.7,365.1 L964.0,363.2 L963.9,361.4 L964.0,360.2 L964.4,358.9 L964.4,357.5 L964.6,356.0 L964.9,354.8 L964.7,353.0 L964.6,351.2 L965.2,349.5 L965.1,348.1 L965.2,346.8 L965.4,345.6 L965.5,344.5 L965.5,343.1 L965.6,341.7 L965.7,339.9 L965.9,338.2 L966.1,336.2 L966.3,334.4 L966.5,332.7 L966.4,331.0 L966.6,329.3 L966.7,328.2 L966.9,326.6 L967.1,325.3 L967.2,323.9 L967.2,322.9 L967.5,321.9 L967.7,320.7 L967.8,319.2 L967.9,318.0 L968.0,316.2 L968.3,314.6 L968.3,312.7 L968.5,310.4 L968.5,308.9 L968.8,307.0 L969.0,305.8 L969.0,304.8 L969.2,303.7 L969.3,302.7 L969.4,300.8 L969.8,299.4 L969.8,297.7 L969.8,296.2 L970.2,294.9 L970.1,293.7 L970.5,292.5 L970.3,290.9 L970.8,289.3 L970.7,287.6 L971.0,286.4 L971.2,285.3 L971.4,283.8 L971.4,281.9 L971.8,280.1 L972.0,278.4 L972.1,276.5 L972.3,275.3 L972.6,273.8 L972.6,272.4 L973.0,271.4 L973.2,270.1 L973.4,269.0 L973.5,267.5 L973.7,266.0 L974.1,264.3 L974.4,262.6 L974.7,260.7 L974.8,259.0 L975.1,257.6 L975.3,256.3 L975.6,254.7 L975.8,253.5 L976.2,252.0 L976.2,250.1 L976.4,248.2 L976.7,246.7 L976.9,244.9 L977.4,243.6 L977.3,242.4 L977.5,241.0 L978.0,239.4 L978.3,238.7 L978.6,237.3 L978.5,235.9 L978.7,235.0 L979.3,233.1 L979.2,231.6 L979.3,230.1 L979.8,228.2 L979.6,226.9 L979.9,225.3 L980.3,223.5 L980.6,222.1 L980.8,221.2 L981.1,219.6 L981.4,217.8 L981.7,216.2 L981.7,214.5 L981.9,212.6 L982.3,211.3 L982.4,209.8 L982.6,208.2 L982.9,206.4 L983.0,204.6 L983.4,203.2 L983.7,202.3 L983.8,200.7 L984.0,199.0 L984.1,197.7 L984.4,196.8 L984.7,195.6 L985.2,194.6 L985.6,193.3 L985.6,191.6 L986.0,189.5 L986.5,187.8 L986.5,185.8 L987.2,184.1 L987.3,182.3 L987.6,181.0 L988.4,179.9 L988.5,178.7 L989.0,177.3 L989.5,176.7 L989.9,175.1 L990.2,173.7 L990.7,172.2 L991.3,170.9 L991.8,169.4 L992.2,168.5 L992.4,166.9 L993.1,165.3 L993.4,164.1 L994.0,162.3 L994.4,160.7 L994.7,159.0 L995.1,157.4 L995.5,155.8 L996.1,154.4 L996.6,152.1 L996.8,150.1 L997.4,148.6 L998.0,148.0 L998.4,147.2 L998.6,146.1 L999.4,144.5 L999.8,143.0 L1000.2,142.2 L1000.7,140.8 L1001.0,139.8 L1001.6,138.1 L1002.1,136.4 L1002.6,134.9 L1002.9,133.5 L1003.6,132.0 L1003.9,130.5 L1004.3,129.2 L1005.1,128.4 L1005.6,126.9 L1006.0,125.7 L1006.5,124.1 L1007.1,122.2 L1007.5,120.6 L1008.0,119.6 L1009.1,118.0 L1009.8,116.3 L1010.2,114.7 L1010.9,113.6 L1011.5,112.0 L1012.1,110.6 L1012.9,109.8 L1013.9,108.4 L1014.6,107.1 L1015.4,105.8 L1016.3,104.6 L1017.0,103.0 L1018.1,102.3 L1018.6,101.3 L1019.8,100.3 L1021.0,99.6 L1022.1,98.1 L1023.0,96.9 L1024.2,95.8 L1024.9,94.8 L1026.3,94.2 L1027.4,92.9 L1028.4,92.0 L1029.6,90.4 L1030.7,88.9 L1031.8,88.0 L1033.1,87.3 L1034.4,86.9 L1035.5,85.6 L1036.6,84.8 L1037.6,84.1 L1039.0,83.3 L1040.1,82.7 L1041.3,81.4 L1042.5,80.4 L1043.5,79.4 L1044.4,78.3 L1045.6,77.1 L1046.4,75.4 L1047.4,73.6 L1048.3,72.3 L1049.3,71.8 L1050.0,70.6 L1051.3,69.7 L1052.5,69.1 L1053.7,68.6 L1055.0,68.2 L1056.5,67.5 L1057.9,67.9 L1059.3,67.5 L1061.1,67.0 L1062.5,66.1 L1064.1,65.9 L1065.7,65.7 L1067.1,66.1 L1068.7,66.6 L1070.4,66.5 L1072.2,66.3 L1073.4,66.0 L1075.0,65.5 L1076.2,65.6 L1077.7,64.7 L1078.9,63.6 L1080.1,62.8 L1081.4,61.9 L1082.7,60.6 L1084.0,59.5 L1085.1,59.0 L1086.3,57.6 L1087.7,57.0 L1089.0,56.1 L1090.2,55.6 L1091.6,55.8 L1092.9,55.5 L1094.1,56.2 L1095.8,57.0 L1097.0,57.9 L1098.5,59.0 L1100.2,59.3 L1101.2,60.1 L1102.8,60.5 L1104.2,61.0 L1105.9,61.1 L1107.3,61.2 L1108.8,60.8 L1110.1,60.6 L1111.6,60.0 L1113.1,59.7 L1114.8,59.8 L1116.1,59.8 L1117.6,59.6 L1119.0,58.7 L1120.8,58.6 L1122.2,58.2 L1123.9,58.4 L1125.3,58.2 L1126.6,58.2 L1128.0,58.0 L1129.5,58.0 L1131.2,57.8 L1132.7,57.3 L1134.2,56.9 L1135.8,56.7 L1137.1,57.0 L1138.6,57.1 L1140.2,57.2 L1141.7,57.3 L1143.1,57.1 L1144.9,57.3 L1146.2,57.2 L1147.5,56.9 L1149.2,56.5 L1150.8,56.5 L1152.5,55.8 L1153.6,55.7 L1155.1,55.4 L1156.4,55.2 L1157.9,54.3 L1159.2,54.2 L1160.8,53.6 L1162.3,53.3 L1163.6,52.6 L1165.3,51.5 L1167.0,51.1 L1167.8,50.7 L1169.5,49.8 L1170.8,49.1 L1172.3,48.6 L1173.8,48.5 L1175.4,48.6 L1176.7,49.3 L1178.1,49.8 L1179.7,49.9 L1180.9,50.9 L1182.6,51.7 L1183.8,52.9 L1185.2,53.3 L1186.8,53.7 L1188.2,53.8 L1189.7,54.2 L1191.2,54.2 L1192.5,54.0 L1194.3,53.7 L1195.7,53.2 L1197.3,53.4 L1198.7,53.0 L1200.3,53.1 L1201.6,53.2 L1203.2,53.2 L1204.7,52.8 L1206.3,52.0 L1207.9,51.2 L1209.4,50.8 L1211.0,50.5 L1212.5,51.0 L1213.8,51.2 L1215.5,51.3 L1216.9,51.6 L1218.1,52.0 L1219.8,51.9 L1221.5,51.9 L1223.0,52.0 L1224.3,51.5 L1225.7,51.2 L1227.3,51.1 L1228.8,51.1 L1230.2,50.9 L1231.8,50.5 L1233.0,50.3 L1234.8,49.9 L1236.3,49.7 L1237.6,49.5 L1239.1,49.3 L1240.7,49.7 L1242.2,49.3 L1243.6,49.2 L1245.2,49.0 L1246.5,48.9 L1247.9,48.5 L1249.7,48.1 L1251.1,47.8 L1252.7,48.0 L1253.9,48.2 L1255.5,48.5 L1257.2,48.8 L1258.4,48.6 L1260.0,48.3 L1261.4,48.2 L1263.2,48.5 L1264.6,48.3 L1266.3,48.0 L1267.4,47.7 L1269.1,47.9 L1270.5,48.1 L1272.4,48.4 L1273.7,48.5 L1275.1,48.6 L1276.6,48.6 L1278.1,49.0" stroke="#1f77b4"/>
<path d="M754.1,64.7 L755.4,65.2 L757.0,64.9 L758.5,64.7 L760.0,64.9 L761.4,64.8 L762.8,65.0 L764.4,65.6 L765.8,65.6 L767.5,66.0 L769.0,66.5 L770.2,66.9 L771.9,67.0 L773.2,67.3 L774.8,67.5 L776.2,68.2 L777.5,68.2 L779.3,68.4 L780.7,68.9 L782.0,68.5 L783.4,68.8 L785.0,68.9 L786.4,68.8 L787.9,68.7 L789.5,69.1 L791.1,69.4 L792.3,69.9 L794.0,70.2 L795.4,71.1 L796.7,71.9 L798.0,72.3 L799.8,73.2 L801.2,73.4 L802.9,73.8 L804.2,74.4 L805.6,75.3 L807.2,75.6 L808.3,75.5 L809.9,75.9 L811.3,76.2 L812.9,76.7 L814.2,77.1 L815.2,77.1 L817.2,77.5 L818.4,77.2 L820.0,77.6 L821.3,78.2 L822.8,79.1 L824.3,80.3 L825.6,81.3 L826.9,82.0 L828.6,82.7 L829.9,83.2 L831.3,83.7 L832.7,83.8 L834.0,84.1 L835.7,84.4 L836.9,84.8 L838.3,85.3 L839.7,85.7 L840.9,87.0 L842.2,87.4 L843.8,88.0 L845.2,88.8 L846.7,89.2 L848.0,89.8 L849.2,90.5 L850.7,91.1 L852.1,92.1 L853.5,93.1 L854.8,93.6 L855.9,94.8 L857.5,95.3 L858.6,96.2 L860.0,97.3 L861.0,97.8 L862.5,98.4 L863.6,98.8 L865.0,99.5 L866.3,100.1 L867.4,101.0 L868.3,102.0 L869.5,103.1 L870.6,104.4 L871.9,105.1 L873.0,105.6 L874.0,107.1 L875.1,108.0 L876.2,109.6 L877.2,111.5 L878.4,112.5 L879.2,112.9 L880.2,113.9 L880.9,115.4 L882.0,117.1 L883.0,117.9 L883.9,118.7 L885.0,119.7 L886.0,121.0 L886.7,121.7 L887.6,123.1 L888.5,124.3 L889.5,126.1 L890.3,127.1 L891.3,127.9 L892.1,128.9 L893.0,130.5 L893.8,131.5 L894.6,133.3 L895.4,134.5 L896.4,136.2 L897.0,138.0 L897.8,139.3 L898.5,140.3 L899.2,141.2 L900.0,142.6 L900.7,144.1 L901.5,145.8 L902.2,146.6 L903.0,147.7 L903.9,148.4 L904.5,149.3 L905.3,151.0 L906.0,153.0 L906.8,154.4 L907.3,155.9 L908.2,157.4 L909.2,158.4 L909.7,159.3 L910.5,159.9 L911.1,161.0 L911.9,162.4 L912.3,164.1 L913.0,165.9 L913.8,168.0 L914.5,169.9 L914.9,171.5 L915.5,172.7 L916.0,173.7 L916.6,174.8 L916.9,175.3 L917.3,176.5 L917.9,177.9 L918.1,179.1 L918.5,180.8 L918.9,182.6 L919.2,184.2 L919.7,185.3 L920.0,186.7 L920.5,188.5 L920.8,190.2 L921.2,192.3 L921.8,193.5 L922.3,194.7 L922.6,196.7 L923.2,198.4 L923.6,200.5 L924.1,202.2 L924.8,203.1 L925.0,204.4 L925.6,205.1 L926.1,206.7 L926.5,208.1 L926.9,209.6 L927.6,210.6 L928.1,211.4 L928.6,212.5 L929.0,213.8 L929.5,215.6 L929.9,217.0 L930.5,219.0 L930.8,220.6 L931.4,222.3 L931.7,223.6 L932.3,225.2 L932.9,225.9 L933.2,227.3 L933.6,228.6 L934.2,230.2 L934.5,231.8 L934.9,233.2 L935.3,234.7 L936.0,235.6 L936.3,237.1 L936.7,238.2 L936.9,239.8 L937.5,241.1 L937.7,242.6 L938.3,244.2 L938.5,245.7 L939.3,247.1 L939.3,248.7 L940.0,250.6 L940.3,251.6 L940.4,252.7 L941.0,254.3 L941.5,255.9 L941.8,257.8 L941.9,259.5 L942.3,260.4 L942.6,262.5 L943.0,263.9 L943.3,265.5 L943.9,267.2 L944.0,269.2 L944.3,270.4 L944.6,271.7 L945.0,273.1 L945.3,274.2 L945.4,275.8 L946.0,277.0 L946.0,278.4 L946.3,279.8 L946.7,281.0 L947.1,283.0 L947.2,284.6 L947.5,286.7 L947.9,287.9 L948.1,289.4 L948.4,290.3 L948.6,291.6 L948.8,292.6 L949.1,293.5 L949.4,294.9 L949.5,296.4 L950.0,297.9 L949.8,298.9 L950.1,300.2 L950.7,302.2 L950.8,304.4 L950.9,306.7 L951.3,308.7 L951.6,310.4 L951.6,311.5 L952.0,312.4 L952.1,313.4 L952.4,315.1 L952.6,316.8 L953.0,318.2 L953.0,320.1 L953.3,321.2 L953.6,322.2 L953.6,323.8 L953.8,325.3 L954.3,327.2 L954.5,329.3 L954.7,331.2 L954.9,332.6 L955.0,334.3 L955.7,336.0 L955.5,337.3 L955.8,338.9 L955.9,340.4 L956.2,342.0 L956.6,343.6 L956.7,345.1 L957.0,346.3 L957.0,347.7 L957.5,349.1 L957.5,350.5 L957.6,352.1 L958.0,353.2 L958.1,354.3 L958.4,355.9 L958.6,357.0 L958.8,358.6 L959.0,359.8 L959.1,361.7 L959.2,363.0 L959.7,364.2 L959.8,365.3 L960.0,367.1 L960.2,368.1 L960.2,369.9 L960.5,372.0 L961.0,373.7 L961.0,375.4 L961.2,376.7 L961.3,378.5 L961.6,380.0 L961.9,381.8 L962.1,383.3 L962.3,384.6 L962.4,386.1 L962.6,388.0 L962.8,390.3 L963.0,392.4 L963.1,394.5 L963.5,395.9 L963.5,397.6 L963.6,399.8 L963.7,401.6 L964.0,403.4 L964.0,405.4 L964.1,407.1 L964.3,408.7 L964.7,410.3 L964.7,411.9 L965.2,413.4 L965.3,415.0 L965.3,417.0 L965.8,418.2 L966.3,419.9 L966.3,420.9 L966.5,421.4 L967.1,421.6 L967.5,421.5 L967.9,421.2 L968.2,421.0 L969.0,420.6 L970.2,419.8 L971.5,418.8 L972.8,418.5 L973.5,416.9 L974.4,415.4 L974.6,413.8 L975.0,412.2 L975.2,410.9 L975.6,408.8 L976.0,408.0 L976.2,407.0 L976.7,405.5 L976.8,404.4 L977.1,403.2 L977.3,402.2 L977.5,399.7 L977.8,397.5 L978.1,395.9 L978.6,394.8 L978.2,393.7 L978.6,393.0 L978.7,391.6 L978.8,390.1 L979.1,388.7 L979.1,386.9 L979.4,385.3 L979.7,383.5 L979.4,381.9 L979.8,380.3 L980.0,378.8 L980.0,377.2 L980.3,375.3 L980.4,373.0 L980.4,371.2 L980.7,369.2 L980.6,367.5 L980.9,366.1 L981.0,365.1 L981.0,364.3 L981.3,363.0 L981.4,361.5 L981.7,359.6 L981.6,357.7 L981.9,355.9 L982.0,354.5 L982.4,354.2 L982.3,353.3 L982.7,352.0 L982.5,349.7 L982.9,347.3 L983.0,345.4 L983.2,344.1 L983.3,343.0 L983.3,341.5 L983.5,340.4 L984.0,338.1 L984.0,336.6 L984.0,335.3 L984.4,334.0 L984.3,332.7 L984.4,331.4 L984.5,330.0 L985.0,328.4 L985.2,327.4 L985.0,325.3 L985.3,323.9 L985.5,322.2 L985.8,320.8 L985.4,319.7 L985.8,318.5 L986.0,316.5 L985.9,314.7 L986.3,313.1 L986.4,311.4 L986.6,310.2 L986.6,308.6 L986.8,306.9 L986.8,305.1 L987.1,303.7 L987.2,302.2 L987.3,300.6 L987.3,299.2 L987.8,297.6 L987.9,296.3 L988.0,295.0 L988.0,294.1 L988.2,292.8 L988.6,291.6 L988.6,289.9 L988.6,288.0 L988.8,286.4 L989.0,284.7 L989.1,282.9 L989.2,281.3 L989.6,279.9 L989.7,278.4 L989.8,277.0 L989.8,275.8 L990.1,274.4 L990.3,273.3 L990.6,272.0 L990.6,270.9 L991.0,269.5 L991.0,267.5 L991.1,265.4 L991.0,263.7 L991.4,262.2 L991.5,260.7 L991.9,259.0 L992.1,257.0 L992.4,255.1 L992.5,253.9 L992.5,252.2 L993.1,250.7 L993.1,249.3 L993.2,247.8 L993.4,246.6 L993.4,245.6 L993.9,244.7 L994.0,243.4 L994.4,241.4 L994.5,240.1 L994.7,238.3 L994.9,236.7 L994.9,235.0 L995.1,233.9 L995.4,232.5 L995.5,231.0 L995.8,229.2 L996.0,227.0 L996.3,225.7 L996.5,224.3 L996.5,222.7 L996.9,221.5 L997.3,220.2 L997.1,219.1 L997.5,218.0 L997.8,216.5 L997.9,214.8 L998.2,212.9 L998.5,211.5 L998.6,209.8 L999.0,209.0 L999.3,207.7 L999.3,206.5 L999.7,204.9 L1000.1,202.8 L1000.2,200.8 L1000.6,199.1 L1000.9,198.0 L1001.0,196.7 L1001.5,196.0 L1001.7,194.2 L1001.8,192.4 L1002.3,190.5 L1002.6,188.8 L1002.9,187.8 L1003.1,186.8 L1003.5,185.2 L1004.0,183.8 L1004.2,182.2 L1004.7,180.5 L1005.0,179.6 L1005.2,178.2 L1005.7,177.0 L1005.9,174.9 L1006.5,173.5 L1006.7,171.5 L1007.1,170.5 L1007.5,168.9 L1008.0,167.4 L1008.4,165.7 L1008.9,163.9 L1009.1,162.2 L1009.6,160.8 L1010.1,159.3 L1010.6,158.0 L1011.0,156.6 L1011.8,155.6 L1012.0,154.4 L1012.4,152.9 L1012.9,151.6 L1013.5,150.2 L1013.9,148.9 L1014.1,147.4 L1014.9,146.0 L1015.4,144.3 L1016.2,143.4 L1016.2,141.8 L1017.2,140.3 L1017.6,138.4 L1018.3,136.7 L1018.7,135.1 L1019.4,133.9 L1020.1,133.0 L1020.6,131.8 L1021.3,131.2 L1021.8,129.6 L1022.4,128.4 L1023.1,127.1 L1023.7,125.6 L1024.4,123.8 L1025.3,122.7 L1025.7,121.5 L1026.3,119.9 L1027.2,118.7 L1028.1,117.1 L1028.8,115.8 L1029.6,114.4 L1030.3,113.0 L1030.8,111.9 L1031.7,110.9 L1032.2,110.3 L1033.3,108.8 L1034.2,107.1 L1034.8,105.2 L1035.6,103.4 L1036.6,102.1 L1037.6,101.5 L1038.6,100.4 L1039.7,99.4 L1040.5,98.1 L1041.1,96.9 L1041.9,95.2 L1043.1,93.7 L1044.2,93.3 L1044.9,92.8 L1046.0,92.1 L1047.1,90.7 L1048.2,89.4 L1049.3,87.9 L1050.4,86.6 L1051.6,85.3 L1052.6,84.3 L1053.9,84.0 L1055.2,83.6 L1056.0,82.7 L1057.2,81.9 L1058.6,80.9 L1060.0,79.7 L1061.0,78.9 L1062.4,78.2 L1063.5,77.4 L1064.9,76.4 L1065.9,75.3 L1067.4,74.8 L1068.7,74.3 L1070.0,74.0 L1071.5,73.1 L1072.8,72.3 L1074.0,71.5 L1075.6,70.6 L1076.7,69.6 L1078.5,69.0 L1080.1,68.1 L1081.3,67.6 L1082.8,66.9 L1084.2,66.8 L1085.7,66.7 L1087.0,66.7 L1088.6,66.6 L1089.9,66.9 L1091.4,66.7 L1092.9,66.1 L1094.3,65.1 L1095.5,64.4 L1097.4,63.8 L1098.7,63.5 L1099.9,63.1 L1101.7,63.1 L1103.0,62.8 L1104.5,62.4 L1106.1,61.9 L1107.3,62.0 L1108.6,61.6 L1110.4,61.6 L1111.9,60.6 L1113.5,59.8 L1114.7,59.2 L1116.3,59.1 L1117.8,58.1 L1119.2,57.9 L1120.7,57.9 L1122.3,58.6 L1123.6,59.1 L1125.4,59.3 L1126.6,58.6 L1128.2,58.4 L1129.6,58.5 L1131.0,58.0 L1132.7,57.8 L1134.2,57.2 L1135.8,56.6 L1137.1,56.7 L1138.5,57.0 L1140.2,56.9 L1141.4,56.7 L1143.1,56.8 L1144.6,56.4 L1146.1,56.3 L1147.4,56.1 L1148.8,55.8 L1150.7,55.9 L1152.0,55.5 L1153.3,55.9 L1154.9,55.3 L1156.5,54.6 L1158.1,53.8 L1159.5,53.1 L1161.1,53.0 L1162.5,52.8 L1164.1,52.4 L1165.6,52.5 L1167.0,52.5 L1168.5,52.4 L1170.0,52.8 L1171.4,52.7 L1173.1,52.7 L1174.4,52.5 L1176.0,52.3 L1177.4,52.5 L1179.0,52.4 L1180.4,52.4 L1182.1,52.5 L1183.5,52.5 L1185.0,52.4 L1186.7,52.2 L1187.7,51.9 L1189.4,52.3 L1190.7,51.9 L1192.5,52.1 L1194.1,52.4 L1195.6,52.8 L1197.1,52.7 L1198.4,53.0 L1200.2,52.5 L1201.6,51.8 L1203.0,51.1 L1204.4,50.5 L1206.1,50.6 L1207.5,52.0 L1209.0,52.9 L1210.6,52.9 L1212.1,52.0 L1213.5,51.1 L1215.2,50.4 L1216.5,50.0 L1218.0,50.6 L1219.6,51.0 L1221.1,51.5 L1222.6,51.2 L1224.0,51.8 L1225.6,51.7 L1227.0,51.4 L1228.4,51.6 L1230.2,50.8 L1231.5,51.0 L1233.1,51.1 L1234.7,50.8 L1236.1,50.7 L1238.0,51.1 L1239.0,50.8 L1240.5,50.3 L1242.1,50.0 L1243.8,49.8 L1245.1,49.9 L1246.5,49.8 L1248.3,50.3 L1249.5,50.7 L1251.1,50.8 L1252.8,50.9 L1254.1,50.8 L1255.6,50.5 L1257.2,51.2 L1258.6,51.0 L1260.2,50.5 L1261.6,49.8 L1263.2,49.5 L1264.5,49.7 L1266.0,50.2 L1267.9,50.3 L1269.2,50.4 L1270.8,50.3 L1272.1,50.4 L1273.7,50.2 L1275.2,50.2 L1276.5,50.3 L1278.3,49.8" stroke="#ff7f0e"/>
<path d="M754.0,63.4 L755.6,63.5 L757.2,63.0 L758.9,63.0 L760.5,62.5 L762.2,61.9 L763.9,61.3 L765.3,61.1 L766.6,61.3 L768.6,61.4 L770.1,61.4 L771.5,61.0 L773.1,60.6 L774.9,61.0 L776.1,61.4 L777.6,61.6 L779.3,62.0 L780.4,62.0 L782.2,61.6 L783.9,61.4 L785.3,61.1 L786.8,60.5 L788.1,60.2 L789.6,60.3 L791.4,60.1 L792.6,60.3 L794.1,60.0 L795.3,60.3 L796.9,60.4 L798.3,60.5 L799.7,60.0 L800.8,60.0 L802.4,59.9 L804.0,59.9 L805.3,59.8 L806.5,60.1 L808.1,60.4 L809.1,61.5 L810.7,62.0 L812.0,63.0 L813.2,63.7 L814.4,64.6 L815.6,65.7 L817.0,66.5 L818.6,67.4 L819.7,68.3 L821.0,68.4 L822.4,68.8 L823.6,69.5 L825.1,70.5 L826.0,71.4 L827.7,72.4 L829.1,73.1 L830.5,73.9 L831.9,74.9 L833.3,75.7 L834.6,76.7 L836.1,77.7 L837.4,77.8 L838.9,78.0 L840.2,78.5 L841.6,78.4 L843.0,78.7 L844.2,78.6 L845.7,79.1 L846.9,79.5 L848.4,80.2 L849.8,80.9 L851.1,81.4 L852.5,81.7 L854.0,82.5 L855.4,83.7 L856.8,84.9 L857.9,85.9 L859.3,86.7 L860.8,87.4 L862.2,87.2 L863.3,87.3 L865.2,87.7 L866.6,88.8 L867.8,89.4 L869.6,90.6 L870.9,90.9 L872.4,90.9 L873.8,91.2 L875.4,91.2 L876.9,91.8 L878.4,92.0 L879.7,92.9 L881.2,93.5 L882.5,94.2 L883.9,94.6 L885.1,95.3 L886.3,96.4 L887.8,96.9 L888.5,97.3 L889.6,98.4 L890.8,99.1 L891.8,99.9 L892.7,100.7 L893.8,102.2 L894.5,103.4 L895.4,105.1 L896.3,106.6 L896.9,107.8 L897.4,109.5 L898.0,111.4 L898.5,112.7 L899.0,114.4 L899.3,116.0 L900.1,117.7 L900.5,119.2 L901.1,120.5 L901.5,121.5 L902.1,122.9 L902.2,124.4 L903.2,125.9 L904.2,127.4 L904.7,128.2 L905.4,129.5 L906.3,130.7 L907.1,131.5 L908.0,132.7 L908.7,133.7 L909.7,135.5 L910.7,137.0 L911.4,138.5 L912.3,139.4 L913.0,140.0 L914.0,141.3 L914.7,142.4 L915.4,143.6 L916.3,145.4 L917.0,146.6 L917.9,148.2 L918.6,149.2 L919.2,150.8 L919.8,152.3 L920.6,153.8 L921.1,154.9 L921.8,156.1 L922.5,157.4 L923.2,158.5 L923.8,159.6 L924.7,160.5 L925.2,161.8 L925.7,163.3 L926.2,164.9 L927.0,166.8 L927.8,168.3 L928.1,170.2 L929.3,172.0 L929.7,173.0 L930.4,174.2 L931.2,175.3 L931.6,176.3 L932.5,177.6 L933.2,179.1 L934.1,180.1 L934.7,181.5 L935.8,182.4 L936.7,183.5 L937.4,184.8 L938.1,186.3 L938.8,187.5 L939.4,189.1 L940.1,190.5 L940.9,192.0 L941.6,193.6 L942.1,195.6 L942.7,197.2 L943.0,198.6 L943.5,199.9 L943.9,201.0 L944.5,201.8 L945.0,202.5 L945.6,203.5 L946.2,204.7 L946.5,206.1 L947.0,208.1 L947.6,209.5 L948.1,210.6 L948.5,212.5 L948.6,215.0 L949.4,216.5 L949.6,218.1 L949.9,219.4 L950.4,221.3 L951.0,222.8 L951.0,224.2 L951.8,225.8 L952.1,227.4 L952.5,228.9 L952.7,229.9 L953.2,231.0 L953.5,232.3 L954.1,233.9 L954.3,235.3 L954.8,236.3 L955.0,237.3 L955.3,238.7 L956.0,240.3 L956.4,242.1 L956.7,243.5 L956.9,245.3 L957.3,247.2 L957.7,248.4 L958.0,250.2 L958.3,251.2 L958.9,252.5 L958.9,254.1 L959.4,255.7 L959.5,257.1 L960.1,258.9 L960.2,260.5 L960.4,262.4 L960.9,263.4 L961.2,264.8 L961.4,266.0 L961.7,267.7 L962.0,269.6 L962.4,270.9 L962.7,272.2 L963.2,273.3 L963.2,274.6 L963.7,275.8 L963.9,277.8 L963.9,279.7 L964.6,281.1 L964.4,282.5 L965.0,284.0 L965.0,285.9 L965.5,287.2 L965.7,288.9 L966.0,290.0 L966.0,291.4 L966.4,292.2 L966.9,293.6 L967.1,294.9 L967.3,296.4 L967.5,297.6 L967.7,299.2 L968.2,300.4 L968.3,301.9 L968.6,303.9 L968.6,305.9 L968.8,307.7 L969.4,309.3 L969.4,310.1 L969.7,311.6 L970.0,312.8 L970.3,314.8 L970.5,316.9 L970.7,318.6 L971.1,320.5 L971.2,322.1 L971.5,323.6 L971.6,324.7 L971.8,325.4 L972.3,326.7 L972.3,328.0 L972.2,329.9 L972.7,331.6 L973.0,333.2 L973.4,334.3 L973.4,335.8 L973.5,337.6 L973.9,339.2 L974.3,340.5 L974.2,341.7 L974.6,342.6 L974.8,343.8 L975.0,345.4 L975.0,347.0 L975.4,348.6 L975.5,350.6 L975.8,352.1 L975.9,353.5 L976.3,355.1 L976.4,357.0 L976.6,358.8 L976.6,360.5 L977.0,361.8 L977.6,363.1 L977.5,364.1 L977.5,365.6 L977.9,367.1 L978.1,368.6 L978.3,370.2 L978.6,371.8 L978.8,373.4 L979.1,375.2 L979.1,376.5 L979.5,378.4 L979.7,380.9 L979.7,383.5 L980.3,385.8 L980.3,388.0 L980.4,389.5 L980.6,390.8 L981.0,392.2 L980.9,393.5 L981.4,395.4 L981.8,397.5 L981.9,399.1 L982.2,400.1 L982.2,400.8 L982.7,401.6 L982.8,402.4 L983.1,402.5 L983.5,402.6 L984.1,401.6 L984.2,400.0 L984.5,398.4 L985.3,396.5 L985.9,395.4 L986.4,394.2 L986.8,392.5 L987.5,391.5 L987.9,389.9 L988.4,388.1 L988.7,385.8 L988.9,384.1 L989.6,382.6 L989.6,380.7 L990.1,378.9 L990.4,377.3 L990.3,376.0 L990.6,374.7 L990.9,373.8 L991.2,372.2 L991.2,370.8 L991.4,369.3 L991.5,367.6 L991.7,365.6 L992.0,363.7 L992.1,362.0 L992.0,360.3 L992.5,359.0 L992.5,357.4 L992.7,356.3 L992.7,355.2 L993.1,353.6 L993.2,352.8 L993.4,351.1 L993.5,349.6 L993.7,347.7 L994.0,345.9 L994.0,344.2 L994.1,343.0 L994.2,341.9 L994.5,340.4 L994.6,338.7 L994.7,337.0 L995.1,335.8 L995.1,334.5 L995.2,333.1 L995.4,331.7 L995.7,330.3 L995.8,328.5 L996.3,326.7 L996.4,324.7 L996.3,322.8 L996.8,321.2 L996.8,319.4 L997.1,318.4 L997.2,317.2 L997.5,316.5 L997.7,315.2 L997.9,313.8 L998.1,312.4 L997.9,311.4 L998.3,309.8 L998.6,308.2 L998.8,306.7 L998.8,304.7 L999.1,303.3 L999.3,301.4 L999.3,299.4 L999.7,297.8 L1000.1,295.7 L1000.1,294.8 L1000.3,293.5 L1000.6,292.4 L1000.8,291.4 L1001.1,289.8 L1001.3,287.9 L1001.4,286.1 L1001.6,284.4 L1001.8,282.9 L1002.0,281.2 L1002.2,279.8 L1002.5,279.0 L1002.7,277.6 L1002.7,276.8 L1002.8,275.0 L1003.3,273.3 L1003.4,272.2 L1003.5,270.9 L1004.0,269.3 L1004.3,268.2 L1004.1,266.5 L1004.4,265.8 L1004.6,264.1 L1004.8,262.3 L1005.1,260.2 L1005.2,257.7 L1005.5,255.8 L1005.7,254.4 L1006.1,252.8 L1006.2,251.4 L1006.5,250.4 L1006.8,249.1 L1006.9,247.4 L1007.2,246.2 L1007.2,245.5 L1007.5,243.7 L1008.0,242.1 L1008.2,240.5 L1008.2,239.1 L1008.4,237.4 L1008.7,236.0 L1009.1,234.2 L1008.9,232.5 L1009.5,230.7 L1009.5,229.2 L1010.1,227.8 L1010.0,226.5 L1010.6,225.5 L1010.7,224.1 L1011.0,222.7 L1011.5,221.2 L1011.6,219.7 L1012.0,218.7 L1012.2,217.0 L1012.3,215.6 L1012.8,213.5 L1013.2,212.2 L1013.4,210.9 L1013.7,209.5 L1013.9,207.7 L1014.5,206.5 L1014.6,204.6 L1015.2,202.8 L1015.3,201.0 L1015.6,199.2 L1015.7,197.3 L1016.2,195.9 L1016.4,194.4 L1016.8,193.2 L1017.2,191.9 L1017.4,191.0 L1017.7,190.1 L1018.1,188.7 L1018.1,187.1 L1018.5,185.4 L1018.7,184.0 L1019.2,182.6 L1019.2,181.5 L1019.8,180.3 L1020.1,178.2 L1019.9,176.7 L1020.4,174.9 L1020.5,173.4 L1021.1,171.6 L1021.2,170.3 L1021.7,169.4 L1021.9,167.7 L1022.1,166.6 L1022.4,165.2 L1023.0,163.5 L1023.1,161.7 L1023.6,160.5 L1024.1,158.8 L1024.2,157.8 L1024.6,156.7 L1024.8,155.4 L1025.4,154.2 L1025.6,152.3 L1025.9,150.7 L1026.4,148.7 L1026.8,147.5 L1027.0,146.1 L1027.6,144.8 L1028.1,143.2 L1028.5,141.6 L1029.2,139.6 L1029.5,138.2 L1029.8,137.1 L1030.0,135.9 L1030.8,134.9 L1031.4,133.3 L1031.7,131.3 L1032.4,130.0 L1032.7,128.7 L1033.4,127.4 L1034.0,126.3 L1034.7,125.1 L1035.1,123.6 L1036.0,122.2 L1036.4,121.3 L1036.9,119.8 L1037.9,118.4 L1038.8,116.9 L1039.3,115.9 L1040.3,114.2 L1040.9,113.0 L1041.9,111.9 L1042.2,110.6 L1043.6,109.2 L1044.0,107.7 L1045.1,106.2 L1045.8,104.9 L1046.9,104.0 L1047.7,102.8 L1048.6,101.6 L1049.7,100.4 L1050.6,98.5 L1051.4,97.6 L1052.6,96.5 L1053.1,96.0 L1054.2,95.2 L1055.1,94.4 L1056.4,93.4 L1057.5,92.0 L1058.5,90.6 L1059.6,89.5 L1060.7,88.5 L1062.1,87.5 L1063.3,87.0 L1064.4,86.2 L1065.7,85.0 L1066.9,83.8 L1068.2,82.8 L1069.6,82.1 L1070.5,80.9 L1072.0,80.0 L1073.5,79.2 L1074.5,78.3 L1076.1,77.9 L1077.4,76.7 L1078.4,75.7 L1079.7,74.8 L1081.3,75.4 L1082.2,75.5 L1083.6,75.5 L1084.9,74.9 L1086.4,74.0 L1087.8,72.7 L1089.2,71.9 L1090.5,70.8 L1091.7,70.1 L1093.4,69.2 L1094.6,68.8 L1096.0,68.2 L1097.6,67.9 L1098.8,67.2 L1100.2,66.3 L1101.7,65.7 L1103.3,65.6 L1104.4,65.6 L1106.0,65.1 L1107.0,64.1 L1108.6,63.4 L1110.4,62.5 L1111.9,61.9 L1113.1,61.9 L1114.4,61.3 L1115.8,60.8 L1117.3,60.4 L1118.9,60.1 L1120.2,59.9 L1121.9,59.2 L1123.3,59.3 L1124.7,58.8 L1126.1,58.7 L1127.6,58.0 L1129.2,57.4 L1130.7,57.2 L1132.3,57.1 L1133.5,56.7 L1135.2,56.4 L1136.7,56.3 L1138.2,56.1 L1139.8,55.6 L1141.1,55.3 L1142.8,54.9 L1144.4,54.9 L1145.6,54.7 L1147.3,54.3 L1148.7,54.6 L1150.1,54.7 L1151.6,54.6 L1153.1,55.2 L1154.9,55.3 L1156.1,55.4 L1157.6,55.4 L1159.1,54.6 L1160.8,54.3 L1162.1,54.4 L1163.8,54.4 L1165.3,54.8 L1166.8,54.7 L1168.5,55.1 L1169.7,55.2 L1171.3,54.8 L1172.8,54.6 L1174.4,54.4 L1175.7,54.3 L1177.3,53.9 L1179.1,53.8 L1180.4,53.9 L1182.0,54.2 L1183.4,53.9 L1184.8,54.2 L1186.5,54.3 L1188.0,54.0 L1189.4,53.9 L1190.7,53.9 L1192.2,53.4 L1193.7,53.6 L1195.2,53.0 L1196.6,52.3 L1198.2,51.8 L1199.4,51.1 L1201.1,50.6 L1202.2,49.7 L1203.6,49.1 L1205.3,48.1 L1206.6,47.8 L1207.9,46.6 L1209.2,45.9 L1210.7,45.6 L1212.1,46.1 L1213.6,46.4 L1215.1,46.8 L1216.4,46.5 L1217.9,46.5 L1219.4,46.3 L1220.7,46.3 L1222.4,46.7 L1223.9,47.3 L1225.2,47.9 L1226.4,47.8 L1228.0,47.8 L1229.7,47.1 L1230.8,46.5 L1232.3,46.0 L1234.0,45.8 L1235.6,45.8 L1237.1,45.7 L1238.6,45.9 L1239.7,45.9 L1241.4,46.5 L1242.8,46.9 L1244.3,46.9 L1246.0,46.6 L1247.5,46.1 L1248.8,46.5 L1250.5,46.9 L1252.0,47.1 L1253.6,47.0 L1254.9,46.9 L1256.6,46.8 L1257.9,46.9 L1259.6,46.4 L1261.1,46.2 L1262.7,46.1 L1264.2,45.8 L1265.9,46.4 L1267.2,47.1 L1268.7,48.0 L1270.3,48.1 L1272.0,47.9 L1273.6,47.5 L1275.1,47.5 L1276.5,47.6 L1278.2,47.9" stroke="#2ca02c"/>
<path d="M754.1,53.5 L755.2,53.9 L756.7,54.6 L758.0,55.4 L759.6,56.5 L761.3,57.3 L762.6,57.3 L763.9,57.8 L765.3,57.5 L767.0,58.0 L768.3,58.0 L769.6,58.7 L771.4,59.1 L772.5,59.5 L774.2,59.9 L775.7,59.8 L777.2,59.9 L778.8,60.2 L780.1,61.1 L781.4,61.8 L783.1,62.5 L784.5,63.4 L785.8,63.7 L787.3,63.8 L788.8,63.8 L790.1,63.3 L791.9,63.3 L793.4,62.9 L794.9,63.2 L796.2,63.6 L797.8,63.8 L799.5,63.8 L800.9,63.6 L802.3,63.7 L803.8,64.0 L805.3,64.5 L807.0,64.6 L808.4,64.0 L810.1,64.0 L811.7,64.0 L813.0,63.8 L814.2,64.0 L815.9,64.3 L817.6,64.7 L818.8,65.3 L820.3,65.3 L821.9,65.5 L823.7,65.5 L824.8,65.8 L826.1,66.3 L827.9,66.4 L829.4,66.7 L830.9,66.7 L832.3,67.4 L833.8,67.7 L835.1,68.0 L836.8,68.4 L838.1,68.4 L839.6,68.4 L841.0,68.6 L842.6,68.7 L843.9,69.3 L845.3,70.0 L846.8,70.3 L848.0,71.4 L849.5,71.6 L851.0,71.6 L852.4,71.6 L853.8,71.8 L855.1,72.7 L856.4,73.6 L857.8,75.1 L859.4,75.9 L860.5,76.8 L861.6,77.5 L863.2,78.0 L864.4,78.6 L865.8,79.4 L867.1,80.1 L868.3,80.6 L869.8,81.0 L871.0,81.9 L872.4,82.5 L873.5,83.6 L874.7,84.9 L876.0,85.5 L877.5,85.8 L878.3,86.8 L879.9,87.6 L881.0,89.1 L882.3,90.8 L883.4,91.8 L884.7,92.7 L885.9,93.4 L887.3,93.9 L888.2,94.7 L889.5,95.3 L890.6,95.9 L892.0,97.2 L893.1,98.4 L894.5,99.2 L895.9,99.7 L897.2,99.8 L898.4,100.1 L899.8,101.1 L901.3,101.9 L902.4,103.1 L903.8,104.2 L905.0,105.0 L906.1,105.8 L907.4,106.4 L908.5,108.0 L909.8,108.8 L910.4,109.6 L911.5,110.6 L912.6,111.4 L913.5,112.1 L914.2,113.4 L915.4,115.1 L916.3,115.9 L917.0,117.7 L917.9,119.3 L918.8,121.1 L919.8,122.6 L920.6,123.6 L921.4,124.6 L922.4,125.3 L923.4,126.1 L924.1,127.2 L925.3,128.3 L926.0,129.8 L927.0,131.7 L927.9,132.9 L928.8,134.0 L929.7,135.3 L930.3,136.2 L931.3,137.3 L932.4,138.5 L933.0,139.5 L934.0,141.1 L934.6,142.6 L935.5,144.3 L936.5,145.7 L937.0,146.9 L937.5,148.0 L938.2,149.9 L938.7,150.9 L939.6,151.9 L940.1,152.9 L940.8,154.3 L941.4,155.8 L941.9,157.1 L942.3,158.3 L942.9,159.7 L943.5,161.2 L944.1,163.5 L944.8,165.5 L945.0,167.1 L945.7,168.1 L946.0,169.0 L946.6,169.2 L947.3,169.9 L947.8,170.9 L948.1,172.6 L948.7,174.4 L949.4,176.5 L949.7,177.5 L950.2,179.4 L950.7,180.7 L951.6,182.6 L952.0,184.0 L952.3,185.7 L953.0,186.8 L953.3,188.0 L953.7,189.6 L954.3,191.2 L954.9,193.5 L955.1,195.6 L955.9,197.2 L956.4,198.5 L956.9,199.8 L957.3,200.3 L957.9,201.2 L958.1,201.9 L958.8,203.2 L959.4,205.2 L959.9,206.8 L960.3,208.6 L960.7,210.2 L961.3,211.5 L961.6,213.0 L962.3,214.2 L962.8,215.3 L963.2,216.2 L963.8,217.5 L964.2,218.1 L964.8,219.0 L965.1,220.3 L965.4,222.4 L965.9,224.2 L966.4,226.0 L967.0,227.4 L967.4,228.8 L967.7,230.0 L968.2,231.9 L968.5,233.3 L969.1,235.0 L969.2,236.3 L969.9,237.6 L970.2,239.0 L970.5,240.4 L970.7,242.0 L971.3,243.6 L971.5,245.3 L972.0,247.0 L972.4,248.7 L972.5,250.3 L972.9,251.5 L973.2,252.8 L973.4,254.4 L974.0,256.2 L974.0,258.5 L974.4,260.0 L974.6,261.2 L974.7,261.9 L975.2,262.9 L975.3,264.1 L975.5,265.7 L975.7,267.7 L975.8,269.3 L976.1,270.8 L976.6,272.5 L976.8,273.6 L976.8,275.4 L977.2,276.9 L977.4,278.1 L977.6,279.1 L977.9,280.5 L977.7,282.0 L978.1,283.2 L978.2,284.9 L978.6,286.7 L978.6,288.4 L978.9,289.9 L979.2,291.6 L979.1,293.2 L979.4,294.5 L979.6,296.0 L979.9,297.4 L979.9,298.6 L980.4,300.3 L980.7,301.7 L980.7,302.9 L981.0,303.9 L980.8,304.8 L981.2,306.3 L981.6,308.4 L981.8,310.4 L982.1,312.2 L982.4,313.5 L982.4,314.5 L982.6,316.0 L982.8,317.7 L983.1,319.9 L983.1,321.8 L983.7,323.1 L983.5,324.3 L983.8,325.3 L984.2,326.4 L984.6,328.1 L984.8,329.5 L985.1,330.9 L985.1,332.7 L985.3,333.9 L985.7,335.7 L985.7,337.1 L986.1,338.7 L986.4,340.0 L986.6,341.8 L986.6,342.9 L987.1,344.4 L987.1,346.1 L987.7,347.2 L987.8,349.0 L988.3,350.3 L988.6,351.5 L988.5,353.3 L989.1,354.3 L989.3,356.5 L989.8,357.8 L989.7,359.9 L990.0,361.9 L990.4,363.9 L990.6,365.7 L991.2,368.0 L991.4,369.9 L991.9,371.5 L992.3,372.5 L992.7,374.0 L992.8,375.6 L993.4,377.4 L993.8,379.0 L994.0,380.5 L994.4,381.6 L994.7,382.6 L995.5,382.6 L995.9,383.0 L996.1,382.8 L996.6,383.2 L997.2,382.5 L997.8,381.4 L998.2,380.7 L999.0,379.4 L999.3,377.4 L1000.1,375.1 L1000.5,373.0 L1001.0,370.7 L1001.4,368.9 L1001.7,367.1 L1002.3,365.6 L1002.7,364.4 L1002.9,363.7 L1003.1,362.1 L1003.6,360.2 L1003.9,358.4 L1004.0,357.0 L1004.4,355.8 L1004.7,354.7 L1005.0,352.9 L1005.3,351.0 L1005.6,349.3 L1005.6,347.6 L1005.8,345.7 L1005.9,344.4 L1006.4,343.6 L1006.6,342.6 L1006.9,341.1 L1006.8,339.7 L1007.2,337.9 L1007.2,336.5 L1007.4,334.6 L1007.6,333.2 L1007.9,332.2 L1008.2,331.3 L1008.4,330.1 L1008.6,328.6 L1008.7,327.2 L1009.2,325.6 L1009.3,323.8 L1009.5,321.5 L1009.6,319.8 L1010.0,318.7 L1009.9,317.5 L1010.1,316.5 L1010.6,315.0 L1010.7,313.6 L1011.1,311.8 L1011.1,310.3 L1011.4,308.9 L1011.5,307.3 L1011.8,305.8 L1012.1,304.7 L1012.3,302.9 L1012.4,301.4 L1012.6,299.8 L1013.0,298.7 L1013.1,296.9 L1013.3,295.0 L1013.7,293.1 L1013.8,291.5 L1014.3,290.0 L1014.6,289.2 L1014.7,287.4 L1015.1,285.6 L1014.9,283.6 L1015.0,282.0 L1015.5,280.6 L1015.5,279.5 L1015.9,278.4 L1016.2,277.0 L1016.4,275.8 L1016.7,274.6 L1016.8,273.2 L1017.0,272.0 L1017.3,270.3 L1017.4,268.4 L1017.8,266.9 L1017.8,265.6 L1018.1,264.5 L1018.2,262.6 L1018.6,261.0 L1018.7,258.9 L1018.9,257.1 L1019.0,255.7 L1019.1,254.2 L1019.4,253.0 L1019.4,252.1 L1019.9,250.8 L1019.9,248.9 L1020.4,247.7 L1020.4,246.0 L1020.6,244.9 L1020.8,243.7 L1020.9,242.5 L1021.1,240.4 L1021.1,238.8 L1021.6,236.7 L1021.6,234.9 L1022.2,233.1 L1022.1,231.8 L1022.4,230.4 L1022.7,229.1 L1022.9,227.9 L1023.3,226.7 L1023.4,225.1 L1023.5,223.4 L1023.8,221.6 L1024.3,220.3 L1024.4,218.3 L1024.4,216.7 L1024.9,215.4 L1025.1,214.2 L1025.5,213.1 L1025.9,211.9 L1026.1,210.7 L1026.5,209.3 L1026.9,207.8 L1026.8,206.5 L1027.4,205.6 L1027.7,204.1 L1028.1,202.7 L1028.3,201.0 L1028.8,199.0 L1029.0,197.2 L1029.3,195.5 L1029.4,194.1 L1029.9,192.8 L1030.0,191.5 L1030.5,190.4 L1030.9,189.1 L1031.0,187.5 L1031.3,186.0 L1031.6,184.3 L1031.9,182.4 L1032.0,180.6 L1032.3,178.9 L1032.3,177.4 L1032.6,176.3 L1032.7,174.5 L1033.3,173.0 L1033.1,171.6 L1033.6,170.7 L1033.7,169.3 L1034.0,168.2 L1034.1,166.5 L1034.4,164.3 L1034.7,162.7 L1035.0,160.9 L1035.2,159.2 L1035.5,157.8 L1035.6,156.2 L1036.2,154.5 L1036.3,153.3 L1037.1,152.1 L1037.0,150.4 L1037.3,148.9 L1037.8,147.6 L1038.2,146.6 L1038.7,146.2 L1039.2,145.4 L1039.5,144.3 L1039.9,142.8 L1040.4,141.0 L1041.1,139.0 L1041.7,137.4 L1042.2,135.8 L1042.7,134.3 L1043.3,132.9 L1044.0,131.1 L1044.7,129.1 L1045.2,127.8 L1045.9,126.9 L1046.4,125.7 L1047.1,125.1 L1047.9,123.9 L1048.3,122.5 L1048.9,121.0 L1049.6,119.3 L1050.4,117.6 L1051.0,115.7 L1051.8,113.9 L1052.8,112.9 L1053.3,111.9 L1054.3,110.7 L1055.0,109.2 L1055.6,108.2 L1056.6,107.2 L1057.4,106.0 L1058.3,105.4 L1059.1,104.3 L1060.0,103.2 L1060.7,101.8 L1061.6,100.7 L1062.6,99.8 L1063.6,98.9 L1064.4,97.7 L1065.6,95.7 L1066.3,94.3 L1067.4,93.2 L1068.2,91.8 L1069.5,90.9 L1070.4,90.0 L1071.5,89.0 L1072.2,87.4 L1073.6,85.9 L1074.6,85.1 L1075.5,83.9 L1076.7,82.8 L1077.8,82.3 L1079.1,81.1 L1080.4,80.1 L1081.5,79.1 L1082.8,78.6 L1083.9,77.4 L1085.0,76.6 L1086.5,75.7 L1087.9,75.4 L1089.1,74.4 L1090.1,73.6 L1091.6,72.6 L1092.7,71.8 L1093.8,70.4 L1094.9,69.2 L1096.2,67.9 L1097.2,66.8 L1098.4,65.9 L1099.8,65.1 L1100.8,64.7 L1102.3,64.4 L1103.8,64.4 L1105.0,64.7 L1106.6,64.9 L1108.1,65.2 L1109.4,65.5 L1111.1,65.7 L1112.6,66.3 L1114.1,66.5 L1115.6,66.2 L1117.3,65.5 L1118.5,64.9 L1120.1,64.4 L1121.6,64.0 L1123.2,64.2 L1124.3,64.3 L1125.9,64.6 L1127.4,65.2 L1128.9,64.6 L1130.5,64.4 L1131.9,64.0 L1133.4,63.4 L1135.0,62.7 L1136.3,62.6 L1137.8,62.1 L1139.5,61.7 L1140.8,61.5 L1142.1,61.0 L1143.6,60.6 L1145.3,60.2 L1146.5,59.6 L1148.0,59.7 L1149.7,59.6 L1151.2,58.7 L1152.7,57.8 L1153.9,57.3 L1155.5,57.1 L1156.5,56.8 L1158.3,56.9 L1160.2,56.9 L1161.6,55.9 L1162.9,55.6 L1164.2,55.4 L1165.6,55.7 L1167.4,56.1 L1168.7,55.8 L1170.1,55.3 L1171.8,54.2 L1173.3,53.3 L1174.6,52.4 L1176.1,51.9 L1177.9,51.9 L1179.0,51.5 L1180.7,51.4 L1181.9,51.1 L1183.4,51.4 L1184.8,50.9 L1186.4,50.8 L1187.9,50.0 L1189.5,49.5 L1190.8,48.7 L1192.4,48.3 L1193.7,48.2 L1195.2,48.4 L1196.8,48.4 L1198.2,48.3 L1199.5,47.9 L1201.1,47.4 L1202.3,47.2 L1203.9,47.2 L1205.7,46.9 L1207.1,46.9 L1208.4,47.2 L1209.9,47.6 L1211.4,47.6 L1212.9,48.2 L1214.4,49.0 L1215.5,50.1 L1217.0,51.1 L1218.5,52.2 L1219.7,53.5 L1221.3,54.0 L1222.9,53.8 L1224.3,53.4 L1225.7,53.0 L1227.1,52.5 L1228.6,52.3 L1230.2,52.3 L1231.6,52.0 L1233.2,52.1 L1234.7,52.1 L1235.9,51.4 L1237.7,51.1 L1239.0,50.5 L1240.6,50.1 L1241.9,49.8 L1243.6,49.6 L1244.9,49.3 L1246.6,48.6 L1247.9,48.1 L1249.4,47.1 L1250.7,46.5 L1252.2,46.0 L1253.9,45.9 L1255.2,45.9 L1256.6,45.3 L1258.3,45.3 L1259.7,44.6 L1261.2,44.7 L1262.4,44.8 L1263.8,44.7 L1265.4,44.5 L1267.0,44.6 L1268.3,44.1 L1269.8,44.3 L1271.2,44.7 L1272.6,45.1 L1274.0,45.5 L1275.4,46.0 L1276.8,46.5 L1278.2,46.8" stroke="#d62728"/>
<path d="M754.0,56.1 L755.5,54.2 L756.7,52.1 L758.2,50.8 L759.4,50.4 L760.9,49.9 L762.0,50.0 L763.3,49.4 L764.8,48.7 L766.2,48.4 L767.3,47.8 L768.4,48.0 L770.0,47.6 L771.2,47.4 L772.3,47.5 L773.8,46.7 L775.0,47.0 L775.9,47.3 L777.1,48.3 L778.3,49.8 L779.5,51.4 L780.7,53.2 L781.8,54.4 L783.1,55.4 L784.0,56.8 L785.2,57.2 L786.5,57.5 L787.8,57.9 L789.3,58.1 L790.6,59.0 L792.2,59.1 L793.7,59.3 L795.2,59.8 L796.4,59.8 L797.9,60.4 L799.5,60.8 L801.0,61.4 L802.5,61.8 L804.1,61.8 L805.7,62.5 L807.2,62.8 L808.6,63.3 L810.2,63.4 L811.5,63.0 L812.8,63.1 L814.6,63.5 L816.3,64.1 L817.6,64.1 L818.9,64.3 L820.6,64.2 L822.3,64.0 L823.7,64.2 L825.2,64.5 L826.5,64.5 L828.2,64.7 L829.6,64.8 L831.4,64.3 L832.7,64.2 L834.3,64.1 L835.5,64.3 L837.1,64.5 L838.7,64.9 L840.2,65.7 L841.6,66.3 L842.8,66.5 L844.6,66.9 L845.7,67.1 L847.1,67.9 L848.5,68.8 L849.8,69.6 L851.2,70.4 L852.6,70.8 L854.0,71.1 L855.4,71.7 L856.8,72.6 L858.3,73.1 L859.6,73.6 L860.9,74.3 L862.6,74.9 L863.9,75.5 L865.5,75.8 L866.8,75.5 L868.4,75.1 L869.9,74.7 L871.4,74.6 L873.1,74.6 L874.7,75.4 L876.3,75.8 L877.7,76.3 L879.5,76.2 L881.1,76.0 L882.5,75.7 L883.9,75.8 L885.3,76.3 L886.9,76.7 L888.1,77.4 L889.6,77.4 L890.5,78.0 L891.8,78.6 L893.2,79.3 L894.2,80.2 L895.6,81.3 L896.6,82.2 L897.7,83.5 L898.9,84.4 L900.1,85.8 L901.1,86.5 L902.1,87.5 L903.1,88.5 L904.2,89.4 L905.1,90.8 L906.1,91.8 L907.1,93.2 L908.6,94.4 L909.4,95.8 L910.2,97.0 L911.1,98.1 L912.2,99.7 L912.9,100.9 L914.0,102.5 L915.0,103.3 L915.9,105.0 L916.6,106.3 L917.7,107.5 L918.5,108.4 L919.6,109.2 L920.5,110.6 L921.3,111.6 L922.4,112.7 L923.0,113.9 L924.1,115.2 L924.9,116.6 L925.7,117.1 L926.6,118.1 L927.6,119.7 L928.6,120.9 L929.2,122.0 L930.3,122.9 L931.2,124.3 L931.9,125.6 L932.8,127.3 L933.9,128.9 L934.5,130.3 L935.4,131.4 L936.3,132.4 L937.2,133.7 L938.1,134.8 L938.9,136.1 L939.9,137.5 L940.7,138.9 L941.6,139.7 L942.4,140.8 L943.4,141.9 L944.3,143.2 L945.5,144.6 L946.4,145.3 L947.6,146.8 L948.5,147.3 L949.5,147.7 L951.0,148.4 L952.3,149.6 L953.7,150.5 L955.3,151.7 L956.7,151.9 L958.4,152.2 L959.6,152.6 L960.8,153.5 L961.7,154.5 L962.7,155.3 L963.4,157.0 L964.3,158.5 L965.0,159.8 L965.5,161.2 L966.4,161.7 L966.9,162.6 L967.5,164.3 L968.2,165.8 L968.5,167.2 L969.1,168.4 L969.6,169.4 L969.9,171.5 L970.3,173.4 L970.4,175.6 L970.8,177.1 L970.8,178.0 L971.2,179.1 L971.5,180.2 L972.0,181.6 L972.3,183.1 L972.1,185.0 L972.5,187.2 L972.7,188.8 L973.3,190.5 L973.5,192.3 L973.6,193.7 L974.1,194.7 L974.4,195.9 L974.5,197.8 L975.0,199.3 L975.2,201.3 L975.5,202.8 L975.6,203.8 L976.0,204.7 L976.1,205.7 L976.7,206.8 L976.9,208.3 L977.4,210.6 L977.7,212.2 L977.6,214.0 L978.3,216.0 L978.4,217.2 L978.8,219.0 L979.0,220.4 L979.2,222.0 L979.5,222.9 L979.8,224.9 L980.3,226.2 L980.4,227.6 L980.6,228.7 L981.1,229.7 L981.2,231.0 L981.6,232.7 L981.7,234.5 L982.1,236.0 L982.3,237.7 L982.6,238.9 L983.0,240.1 L983.3,241.4 L983.5,243.2 L983.8,245.2 L984.4,246.9 L984.3,248.4 L984.3,249.9 L984.9,251.8 L985.1,253.3 L985.2,254.6 L985.8,255.6 L986.0,256.9 L986.1,257.9 L986.4,259.3 L986.7,260.8 L987.1,262.3 L987.1,264.0 L987.6,266.0 L987.8,267.4 L988.0,269.0 L988.4,270.5 L988.5,272.1 L988.8,273.6 L989.0,274.8 L988.9,276.0 L989.5,277.6 L989.8,278.6 L990.0,280.8 L990.5,282.4 L990.5,284.3 L990.9,285.9 L991.2,287.4 L991.4,288.6 L991.5,289.8 L991.9,290.8 L992.2,292.1 L992.7,293.6 L992.7,294.9 L993.1,296.4 L993.3,297.5 L993.4,299.0 L993.7,300.5 L994.2,302.2 L994.5,303.6 L994.9,305.3 L995.0,306.5 L995.1,308.0 L995.5,310.0 L995.7,311.6 L996.3,313.6 L996.4,315.2 L996.7,316.7 L997.2,318.3 L997.3,319.7 L997.4,321.1 L997.9,322.0 L998.1,322.9 L998.3,324.5 L998.7,326.4 L998.9,328.2 L999.4,329.7 L999.6,331.0 L999.9,332.2 L1000.4,334.1 L1000.6,335.6 L1000.9,337.2 L1001.3,338.6 L1001.5,340.6 L1001.9,341.6 L1002.2,342.6 L1002.6,344.5 L1002.8,346.3 L1003.1,348.0 L1003.5,350.1 L1003.6,351.5 L1004.2,352.9 L1004.6,354.7 L1005.1,356.3 L1005.3,358.6 L1005.7,360.2 L1005.7,362.0 L1006.5,364.0 L1006.8,365.0 L1007.2,365.8 L1007.4,366.4 L1008.0,366.7 L1008.4,367.4 L1008.7,368.2 L1009.3,368.2 L1010.0,367.7 L1010.3,367.1 L1011.1,365.6 L1011.8,364.1 L1012.6,361.7 L1013.0,359.7 L1013.5,357.4 L1014.0,356.1 L1014.7,354.4 L1015.1,352.8 L1015.4,351.4 L1015.7,349.7 L1015.8,348.4 L1016.4,346.9 L1016.7,345.8 L1016.7,344.3 L1017.0,342.8 L1017.2,341.2 L1017.4,339.6 L1018.0,338.4 L1018.1,337.0 L1018.1,335.5 L1018.6,333.6 L1018.6,332.1 L1018.8,331.0 L1018.8,329.8 L1019.0,328.7 L1019.3,327.6 L1019.8,326.2 L1019.5,324.8 L1019.7,323.2 L1020.0,321.0 L1020.1,318.9 L1020.2,316.9 L1020.7,315.5 L1020.6,314.8 L1020.7,313.5 L1020.9,312.4 L1021.2,310.6 L1021.3,309.1 L1021.6,307.6 L1021.7,306.3 L1021.8,304.8 L1022.2,303.0 L1022.2,301.1 L1022.4,299.3 L1022.7,297.8 L1023.0,295.9 L1023.1,294.3 L1023.3,293.0 L1023.6,292.0 L1023.8,290.7 L1024.0,289.7 L1024.4,288.7 L1024.7,287.0 L1024.6,285.5 L1025.3,284.0 L1025.5,282.6 L1025.5,280.9 L1026.1,279.1 L1026.0,277.2 L1026.6,275.0 L1026.6,273.5 L1027.0,272.2 L1027.3,271.0 L1027.6,269.9 L1027.6,268.7 L1028.2,267.8 L1028.4,266.2 L1028.6,264.5 L1029.0,263.5 L1029.1,262.2 L1029.6,260.6 L1029.8,258.7 L1030.2,257.0 L1030.1,255.6 L1030.5,253.6 L1030.5,252.1 L1031.0,250.5 L1031.1,248.6 L1031.3,247.2 L1031.8,245.5 L1031.9,244.3 L1032.3,243.1 L1032.3,242.0 L1032.5,240.2 L1032.9,238.8 L1032.8,237.5 L1033.2,236.2 L1033.6,234.3 L1033.6,232.6 L1034.1,230.8 L1034.2,229.0 L1034.6,227.1 L1034.7,225.4 L1035.2,224.0 L1035.1,222.8 L1035.7,221.8 L1035.6,220.6 L1036.2,219.4 L1036.3,218.2 L1036.4,217.0 L1037.0,215.7 L1037.1,213.9 L1037.4,212.5 L1037.7,210.4 L1038.1,208.9 L1038.2,207.5 L1038.7,206.4 L1038.8,205.0 L1039.1,203.1 L1039.5,201.0 L1039.9,199.1 L1040.1,197.8 L1040.4,196.4 L1040.7,195.2 L1041.1,194.2 L1041.2,193.0 L1042.0,191.4 L1041.9,190.2 L1042.1,189.2 L1042.5,188.0 L1042.9,186.6 L1043.1,184.9 L1043.3,182.8 L1043.7,180.9 L1044.1,179.3 L1044.2,177.9 L1044.5,176.5 L1044.9,175.1 L1045.2,174.2 L1045.3,173.0 L1046.0,171.7 L1046.1,170.0 L1046.5,167.9 L1046.7,166.2 L1046.7,164.5 L1047.5,163.2 L1047.3,161.6 L1047.7,160.1 L1048.2,158.6 L1048.4,157.2 L1048.9,155.5 L1049.3,153.8 L1049.5,152.4 L1050.1,151.4 L1050.1,150.1 L1050.7,149.0 L1051.1,147.5 L1051.6,145.7 L1051.9,144.1 L1052.0,142.4 L1052.7,140.7 L1053.0,139.0 L1053.6,138.2 L1054.1,137.2 L1054.7,135.8 L1055.0,134.7 L1055.7,133.3 L1056.3,132.3 L1056.9,130.7 L1057.5,129.6 L1057.8,128.4 L1058.6,127.1 L1059.3,125.4 L1059.8,123.7 L1060.5,122.5 L1061.1,121.1 L1061.9,119.4 L1062.5,117.9 L1063.0,116.2 L1063.9,115.2 L1064.5,113.6 L1065.0,112.5 L1065.8,111.0 L1066.4,109.3 L1066.9,107.7 L1067.9,105.9 L1068.3,104.6 L1069.1,103.2 L1069.5,102.1 L1070.4,100.8 L1070.9,100.1 L1071.8,98.5 L1072.4,97.1 L1073.3,95.1 L1074.1,93.7 L1074.5,91.9 L1075.5,90.8 L1076.3,89.7 L1077.2,88.4 L1078.0,87.3 L1079.0,86.7 L1080.1,85.8 L1081.1,85.3 L1082.4,85.1 L1083.5,84.1 L1085.1,83.4 L1086.5,82.2 L1088.1,81.3 L1089.7,81.1 L1091.2,81.0 L1092.7,80.9 L1094.0,80.6 L1095.2,80.4 L1096.7,80.4 L1098.2,80.2 L1099.6,79.7 L1100.9,78.8 L1102.5,78.2 L1103.7,77.5 L1105.2,76.6 L1106.3,75.5 L1107.7,74.8 L1109.2,74.3 L1110.6,73.6 L1112.1,73.3 L1113.3,72.9 L1114.9,71.9 L1116.3,71.7 L1117.6,70.7 L1119.2,70.5 L1120.5,70.0 L1121.9,69.5 L1123.2,68.5 L1124.7,68.2 L1126.1,68.2 L1127.7,67.8 L1129.0,67.8 L1130.4,67.2 L1132.0,67.5 L1133.8,67.0 L1135.0,66.3 L1136.3,65.1 L1137.9,64.4 L1139.4,63.9 L1141.0,63.5 L1142.4,63.2 L1144.0,63.1 L1145.3,62.6 L1146.6,61.9 L1148.3,61.9 L1149.5,61.5 L1151.1,61.7 L1152.5,61.7 L1153.6,61.1 L1155.0,60.4 L1156.7,59.7 L1158.1,59.1 L1159.6,58.9 L1161.0,58.9 L1162.5,58.9 L1163.8,58.4 L1165.1,57.7 L1166.3,56.3 L1168.0,55.1 L1169.4,54.1 L1170.8,53.4 L1172.0,53.5 L1173.6,53.0 L1174.7,52.5 L1176.4,52.0 L1177.7,51.4 L1179.2,50.9 L1180.3,50.6 L1182.4,50.4 L1183.5,49.7 L1185.0,49.3 L1186.6,48.4 L1188.0,48.2 L1189.4,48.2 L1191.2,48.3 L1192.6,48.0 L1194.1,47.7 L1195.3,47.7 L1196.9,47.8 L1198.3,47.9 L1199.8,48.9 L1200.9,49.8 L1202.0,51.0 L1203.6,51.9 L1205.0,53.1 L1206.4,53.6 L1207.8,53.3 L1209.0,52.7 L1210.6,52.7 L1211.9,52.6 L1213.6,52.9 L1215.3,53.4 L1216.3,53.2 L1217.8,52.8 L1219.3,53.0 L1220.9,53.6 L1222.6,54.4 L1224.0,54.7 L1225.3,54.9 L1227.1,55.0 L1228.7,55.0 L1230.3,55.1 L1231.8,54.8 L1233.0,54.6 L1234.9,53.8 L1236.2,53.5 L1237.6,52.9 L1239.3,52.6 L1240.8,52.4 L1242.3,52.5 L1243.7,53.1 L1245.2,52.9 L1246.8,52.9 L1248.3,52.7 L1249.8,52.5 L1251.1,51.9 L1252.9,52.1 L1254.1,51.7 L1255.8,51.8 L1257.3,51.9 L1258.4,51.9 L1260.2,51.9 L1261.7,52.2 L1263.3,52.3 L1264.7,51.7 L1266.3,51.5 L1267.7,51.4 L1269.2,51.6 L1270.8,51.2 L1272.7,51.0 L1273.7,50.5 L1275.2,50.0 L1276.8,49.4 L1278.1,49.0" stroke="#9467bd"/>
</g>
<rect x="753.5" y="22.8" width="529.0" height="468.4" fill="none" stroke="#000" stroke-width="1.6"/>
<path d="M753.5,44.5h6.5M1282.5,44.5h-6.5M753.5,150.9h6.5M1282.5,150.9h-6.5M753.5,257.4h6.5M1282.5,257.4h-6.5M753.5,363.8h6.5M1282.5,363.8h-6.5M753.5,470.3h6.5M1282.5,470.3h-6.5M753.5,491.2v-6.5M753.5,22.8v6.5M859.3,491.2v-6.5M859.3,22.8v6.5M965.1,491.2v-6.5M965.1,22.8v6.5M1070.9,491.2v-6.5M1070.9,22.8v6.5M1176.7,491.2v-6.5M1176.7,22.8v6.5M1282.5,491.2v-6.5M1282.5,22.8v6.5" stroke="#000" stroke-width="1.6" fill="none"/>
<text x="742.5" y="53.7" font-size="26" text-anchor="end" fill="#000" font-weight="normal" font-family='"Liberation Sans", sans-serif' stroke="#000" stroke-width="0.35" textLength="52.5" lengthAdjust="spacingAndGlyphs">−15</text>
<text x="742.5" y="160.1" font-size="26" text-anchor="end" fill="#000" font-weight="normal" font-family='"Liberation Sans", sans-serif' stroke="#000" stroke-width="0.35" textLength="52.5" lengthAdjust="spacingAndGlyphs">−20</text>
<text x="742.5" y="266.6" font-size="26" text-anchor="end" fill="#000" font-weight="normal" font-family='"Liberation Sans", sans-serif' stroke="#000" stroke-width="0.35" textLength="52.5" lengthAdjust="spacingAndGlyphs">−25</text>
<text x="742.5" y="373.0" font-size="26" text-anchor="end" fill="#000" font-weight="normal" font-family='"Liberation Sans", sans-serif' stroke="#000" stroke-width="0.35" textLength="52.5" lengthAdjust="spacingAndGlyphs">−30</text>
<text x="742.5" y="479.5" font-size="26" text-anchor="end" fill="#000" font-weight="normal" font-family='"Liberation Sans", sans-serif' stroke="#000" stroke-width="0.35" textLength="52.5" lengthAdjust="spacingAndGlyphs">−35</text>
<text x="753.0" y="518.0" font-size="26" text-anchor="middle" fill="#000" font-weight="normal" font-family='"Liberation Sans", sans-serif' stroke="#000" stroke-width="0.35" textLength="91.0" lengthAdjust="spacingAndGlyphs">1555.0</text>
<text x="858.8" y="518.0" font-size="26" text-anchor="middle" fill="#000" font-weight="normal" font-family='"Liberation Sans", sans-serif' stroke="#000" stroke-width="0.35" textLength="91.0" lengthAdjust="spacingAndGlyphs">1555.2</text>
<text x="964.6" y="518.0" font-size="26" text-anchor="middle" fill="#000" font-weight="normal" font-family='"Liberation Sans", sans-serif' stroke="#000" stroke-width="0.35" textLength="91.0" lengthAdjust="spacingAndGlyphs">1555.4</text>
<text x="1070.4" y="518.0" font-size="26" text-anchor="middle" fill="#000" font-weight="normal" font-family='"Liberation Sans", sans-serif' stroke="#000" stroke-width="0.35" textLength="91.0" lengthAdjust="spacingAndGlyphs">1555.6</text>
<text x="1176.2" y="518.0" font-size="26" text-anchor="middle" fill="#000" font-weight="normal" font-family='"Liberation Sans", sans-serif' stroke="#000" stroke-width="0.35" textLength="91.0" lengthAdjust="spacingAndGlyphs">1555.8</text>
<text x="1282.0" y="518.0" font-size="26" text-anchor="middle" fill="#000" font-weight="normal" font-family='"Liberation Sans", sans-serif' stroke="#000" stroke-width="0.35" textLength="91.0" lengthAdjust="spacingAndGlyphs">1556.0</text>
<text x="1017.0" y="550.5" font-size="26" text-anchor="middle" fill="#000" font-weight="normal" font-family='"Liberation Sans", sans-serif' stroke="#000" stroke-width="0.35" textLength="230.0" lengthAdjust="spacingAndGlyphs">Wavelength [nm]</text>
<text x="676.0" y="259.5" font-size="26" text-anchor="middle" fill="#000" font-weight="normal" font-family='"Liberation Sans", sans-serif' stroke="#000" stroke-width="0.35" textLength="264.0" lengthAdjust="spacingAndGlyphs" transform="rotate(-90 676.0 259.5)">Transmission [dBm]</text>
<rect x="1078.4" y="258.9" width="166.3" height="198.5" rx="4.5" fill="#fff" fill-opacity="0.8" stroke="#333" stroke-width="1.3"/>
<text x="1161.6" y="284.2" font-size="20.5" text-anchor="middle" fill="#000" font-weight="normal" font-family='"Liberation Sans", sans-serif' stroke="#000" stroke-width="0.35" textLength="147.5" lengthAdjust="spacingAndGlyphs">Reverse Bias</text>
<path d="M1098.8,307.4H1146.3" stroke="#1f77b4" stroke-width="2.3"/>
<text x="1162.5" y="315.7" font-size="20.5" text-anchor="start" fill="#000" font-weight="normal" font-family='"Liberation Sans", sans-serif' stroke="#000" stroke-width="0.35" textLength="61.0" lengthAdjust="spacingAndGlyphs">0.0 V</text>
<path d="M1098.8,339.2H1146.3" stroke="#ff7f0e" stroke-width="2.3"/>
<text x="1162.5" y="347.6" font-size="20.5" text-anchor="start" fill="#000" font-weight="normal" font-family='"Liberation Sans", sans-serif' stroke="#000" stroke-width="0.35" textLength="61.0" lengthAdjust="spacingAndGlyphs">0.5 V</text>
<path d="M1098.8,371.1H1146.3" stroke="#2ca02c" stroke-width="2.3"/>
<text x="1162.5" y="379.4" font-size="20.5" text-anchor="start" fill="#000" font-weight="normal" font-family='"Liberation Sans", sans-serif' stroke="#000" stroke-width="0.35" textLength="61.0" lengthAdjust="spacingAndGlyphs">1.0 V</text>
<path d="M1098.8,402.9H1146.3" stroke="#d62728" stroke-width="2.3"/>
<text x="1162.5" y="411.2" font-size="20.5" text-anchor="start" fill="#000" font-weight="normal" font-family='"Liberation Sans", sans-serif' stroke="#000" stroke-width="0.35" textLength="61.0" lengthAdjust="spacingAndGlyphs">1.5 V</text>
<path d="M1098.8,434.8H1146.3" stroke="#9467bd" stroke-width="2.3"/>
<text x="1162.5" y="443.1" font-size="20.5" text-anchor="start" fill="#000" font-weight="normal" font-family='"Liberation Sans", sans-serif' stroke="#000" stroke-width="0.35" textLength="61.0" lengthAdjust="spacingAndGlyphs">2.0 V</text>
<text x="-0.5" y="594.5" font-size="43" text-anchor="start" fill="#000" font-weight="bold" font-family='"Liberation Sans", sans-serif' textLength="53.0" lengthAdjust="spacingAndGlyphs">(c)</text>
<g fill="none" stroke-width="3" stroke-linejoin="round">
<path d="M88.3,920.6 L89.7,920.7 L91.0,921.0 L92.3,921.7 L93.6,922.6 L94.9,923.4 L96.2,924.3 L97.3,925.3 L98.7,925.9 L99.7,926.7 L100.7,928.1 L101.8,928.9 L102.8,930.2 L103.7,931.3 L105.0,932.5 L105.9,933.9 L107.0,935.1 L107.9,936.2 L109.3,936.7 L109.9,937.4 L111.3,938.4 L112.1,939.0 L113.1,939.8 L114.6,941.0 L115.6,941.3 L116.7,942.7 L117.9,943.7 L119.0,944.9 L120.4,945.7 L121.5,946.5 L122.8,947.4 L124.0,948.4 L125.2,949.0 L126.3,950.1 L127.8,951.2 L129.0,952.8 L130.5,953.7 L131.6,954.9 L133.0,955.0 L134.2,955.3 L135.7,955.9 L137.0,956.1 L138.3,957.2 L139.7,957.9 L141.0,958.3 L142.2,958.8 L143.7,959.0 L145.4,959.6 L146.7,960.2 L148.3,960.2 L149.7,960.9 L151.2,960.9 L152.7,961.3 L154.3,962.0 L155.8,962.2 L157.0,962.9 L158.7,963.5 L160.0,963.2 L161.5,963.0 L162.7,963.2 L164.5,963.4 L165.9,963.9 L167.1,964.9 L168.5,965.8 L169.8,966.6 L171.5,967.5 L172.3,968.5 L174.0,968.9 L175.2,969.5 L176.4,970.2 L178.1,970.7 L179.4,971.7 L180.7,972.8 L182.1,973.6 L183.5,974.2 L184.7,974.5 L186.2,974.7 L187.8,975.0 L189.0,976.0 L190.3,976.7 L191.7,977.5 L193.2,978.1 L194.5,978.7 L196.0,979.0 L197.3,979.6 L198.6,979.9 L200.2,980.7 L201.4,981.1 L203.2,981.8 L204.4,982.4 L205.6,983.1 L207.1,983.6 L208.5,984.1 L209.8,984.4 L211.4,984.9 L212.7,985.4 L214.2,985.5 L215.4,985.8 L216.8,986.0 L218.0,986.5 L219.5,987.4 L221.0,988.6 L222.4,989.7 L223.5,991.0 L224.9,992.0 L226.7,992.2 L227.7,993.1 L229.3,993.8 L230.6,994.0 L232.1,994.5 L233.3,995.2 L234.6,995.7 L236.0,996.3 L237.4,996.5 L238.4,997.4 L240.2,997.8 L241.6,998.5 L242.9,999.5 L244.5,1000.4 L245.6,1000.6 L247.0,1001.0 L248.5,1001.2 L249.9,1001.8 L251.0,1002.6 L252.5,1002.9 L254.1,1003.6 L255.2,1003.7 L256.7,1004.2 L258.2,1004.9 L259.5,1005.8 L261.0,1006.4 L262.4,1006.8 L263.8,1007.5 L265.2,1007.6 L266.4,1007.9 L267.9,1008.3 L269.4,1008.7 L270.8,1009.2 L272.2,1010.0 L273.6,1010.5 L275.0,1011.0 L276.9,1011.5 L278.2,1012.5 L279.5,1013.4 L281.2,1013.8 L282.6,1014.3 L283.8,1014.3 L285.6,1015.0 L287.1,1015.7 L288.6,1016.2 L289.8,1016.3 L291.3,1016.6 L292.8,1016.5 L294.4,1016.5 L295.6,1016.3 L296.9,1015.6 L298.5,1015.3 L300.2,1014.5 L301.3,1013.9 L303.1,1013.1 L304.4,1011.7 L305.8,1010.9 L307.0,1010.2 L308.0,1009.2 L309.3,1008.3 L310.2,1007.6 L311.0,1006.6 L311.9,1005.4 L312.7,1003.9 L313.6,1002.7 L314.3,1001.2 L315.2,999.4 L315.8,998.1 L316.4,996.8 L317.0,995.6 L317.8,994.9 L318.5,993.8 L318.9,992.3 L319.4,991.1 L320.2,989.8 L320.7,988.4 L321.4,986.7 L322.0,985.1 L322.3,983.7 L323.0,982.0 L323.5,980.9 L324.0,979.5 L324.3,978.1 L324.8,976.6 L325.3,975.3 L325.5,974.2 L326.1,972.6 L326.4,971.4 L326.6,969.3 L327.0,967.5 L327.4,965.5 L327.5,964.3 L327.9,962.7 L328.3,961.7 L328.6,960.6 L328.9,959.2 L329.0,957.7 L329.3,956.0 L329.7,954.6 L329.8,953.2 L330.2,951.6 L330.4,950.1 L330.6,948.6 L330.9,947.0 L331.1,945.2 L331.1,943.0 L331.4,941.3 L331.7,939.6 L331.8,938.7 L331.5,937.6 L331.9,936.2 L332.0,934.8 L332.2,933.4 L332.3,932.1 L332.4,930.1 L332.6,928.3 L332.9,926.4 L332.9,924.7 L333.1,922.8 L333.1,921.3 L333.3,920.3 L333.4,918.9 L333.6,917.2 L333.7,915.8 L333.5,914.4 L333.8,913.4 L334.1,912.4 L334.1,910.7 L334.1,909.2 L334.3,908.1 L334.4,906.3 L334.4,905.1 L334.4,903.2 L334.6,901.8 L334.6,900.3 L334.6,898.8 L334.5,897.4 L334.6,895.9 L334.7,894.4 L334.6,892.7 L334.7,891.2 L334.7,890.0 L334.7,888.4 L334.8,886.9 L334.8,885.0 L334.7,883.2 L334.7,882.0 L334.9,880.4 L334.8,879.4 L334.9,878.1 L335.1,876.9 L335.0,875.5 L334.8,873.8 L334.9,872.2 L335.1,870.5 L335.1,869.1 L335.0,867.4 L335.0,866.1 L335.0,864.7 L335.1,863.1 L335.3,862.0 L335.0,860.5 L335.3,858.8 L334.9,857.0 L335.1,855.5 L335.3,854.1 L335.2,852.2 L335.3,850.3 L335.3,848.8 L335.3,847.5 L335.2,846.3 L335.1,845.0 L335.3,843.5 L335.3,841.6 L335.1,840.1 L335.1,838.6 L335.2,837.3 L335.3,835.8 L335.3,833.8 L335.1,832.3 L335.4,830.8 L335.1,829.0 L335.4,827.5 L335.2,826.2 L335.4,824.4 L335.5,822.9 L335.5,820.3 L335.3,818.3 L335.4,816.3 L335.3,814.8 L335.6,813.0 L335.3,811.3 L335.4,809.4 L335.2,807.7 L335.3,806.0 L335.4,804.0 L335.4,802.0 L335.6,800.1 L335.5,797.9 L335.6,796.1 L335.5,794.2 L335.6,792.0 L335.6,790.3 L335.5,788.1 L335.5,785.9 L335.4,784.1 L335.4,782.0 L335.6,780.3 L335.4,778.4 L335.4,776.6 L335.5,775.1 L335.6,773.6 L335.6,772.0 L335.6,770.3 L335.8,769.6 L335.6,768.6 L335.6,767.5 L335.9,767.0 L335.7,765.6 L335.6,764.6 L335.5,763.7 L335.7,763.6 L335.7,763.3 L335.6,762.9 L335.7,762.6 L335.8,762.2 L335.6,761.7 L335.7,761.3 L335.9,761.2 L335.8,761.4 L335.7,762.3 L335.7,762.6 L335.9,763.3 L335.8,764.3 L335.8,765.2 L335.8,766.4 L335.9,767.2 L336.0,768.2 L335.8,769.3 L335.9,770.8 L335.8,772.4 L335.8,774.1 L335.9,775.5 L335.6,776.9 L335.8,779.0 L335.9,780.7 L335.8,782.3 L335.9,784.1 L335.8,785.7 L335.9,788.0 L335.8,789.4 L335.8,791.5 L336.0,793.4 L335.9,795.4 L336.1,797.5 L335.8,799.2 L336.0,801.5 L335.9,802.9 L336.0,804.7 L336.1,806.4 L335.9,808.5 L335.9,810.5 L336.0,812.5 L335.9,815.1 L336.2,816.7 L336.2,818.8 L336.2,820.3 L336.2,822.1 L336.1,823.3 L336.2,824.8 L336.3,826.0 L335.9,828.1 L336.0,829.3 L336.3,831.7 L336.2,834.1 L336.3,836.4 L336.6,838.4 L336.2,840.6 L336.3,841.8 L336.4,843.0 L336.3,844.9 L336.1,845.8 L336.3,847.0 L336.3,848.2 L336.3,849.6 L336.3,851.3 L336.5,852.7 L336.5,854.3 L336.6,855.8 L336.6,857.4 L336.6,858.6 L336.8,859.6 L336.6,861.2 L336.7,862.5 L336.8,864.3 L336.8,865.8 L337.0,867.3 L337.0,868.7 L336.9,870.1 L337.0,871.5 L337.0,872.9 L337.2,874.2 L337.3,875.5 L337.0,876.8 L337.3,878.2 L337.2,880.5 L337.3,882.2 L337.3,884.8 L337.5,886.4 L337.4,887.4 L337.6,889.0 L337.4,889.9 L337.7,891.3 L337.3,893.2 L337.7,894.8 L338.0,895.9 L337.9,897.7 L337.8,899.3 L337.8,901.1 L337.9,902.5 L338.0,903.5 L338.2,904.6 L338.2,905.8 L338.2,907.3 L338.2,909.1 L338.2,911.0 L338.6,912.6 L338.5,913.9 L338.6,915.4 L338.7,916.9 L338.8,918.2 L338.9,919.6 L339.0,921.1 L339.0,922.2 L339.1,923.6 L339.2,925.3 L339.6,926.7 L339.4,928.5 L339.4,930.1 L339.7,932.2 L339.6,933.9 L339.7,935.4 L339.9,937.0 L340.1,938.3 L340.3,939.4 L340.2,941.0 L340.5,942.5 L340.6,943.9 L340.7,945.6 L341.0,947.0 L341.2,948.7 L341.2,950.4 L341.5,951.8 L341.8,952.8 L341.8,953.8 L342.1,955.4 L342.2,956.8 L342.8,958.5 L343.0,959.9 L343.4,961.3 L343.8,962.7 L344.2,963.9 L344.6,965.5 L345.1,967.0 L345.4,968.4 L345.9,969.8 L346.2,971.6 L346.6,973.3 L347.3,974.9 L347.7,976.9 L348.2,978.2 L348.3,979.7 L348.8,980.7 L349.1,981.5 L349.6,982.7 L350.0,984.4 L350.5,986.4 L350.9,987.6 L351.2,989.3 L351.8,990.8 L352.2,992.6 L352.9,994.1 L353.4,995.7 L353.8,997.1 L354.4,998.7 L355.5,999.8 L355.8,1001.4 L356.5,1002.9 L357.4,1004.8 L358.2,1006.4 L359.1,1007.7 L359.9,1009.3 L361.0,1010.0 L361.9,1010.5 L362.9,1010.6 L363.9,1011.0 L365.3,1011.5 L366.7,1011.5 L367.9,1011.5 L369.5,1012.0 L371.2,1012.1 L373.1,1012.1 L374.7,1012.3 L376.3,1012.1 L377.6,1012.3 L379.0,1011.7 L380.6,1011.2 L382.0,1010.7 L383.2,1010.0 L385.0,1009.4 L386.1,1009.1 L387.4,1008.5 L388.9,1008.4 L390.1,1007.2 L391.4,1006.4 L393.0,1004.9 L394.2,1003.9 L395.5,1003.3 L396.7,1002.7 L397.9,1002.0 L399.2,1001.2 L400.6,1000.1 L402.0,999.3 L402.9,998.5 L404.2,997.5 L405.5,997.0 L406.4,996.3 L407.8,995.7 L408.9,994.7 L410.2,993.8 L411.5,992.6 L412.8,992.0 L413.8,991.3 L415.2,990.5 L416.3,989.9 L417.6,988.9 L418.8,987.9 L420.0,986.8 L421.1,986.0 L422.6,985.1 L423.7,984.7 L425.1,983.5 L426.4,982.8 L427.7,982.0 L429.0,981.3 L430.3,980.4 L431.3,979.3 L432.7,978.1 L434.0,977.3 L435.3,976.5 L436.6,975.8 L437.8,974.9 L439.1,974.0 L440.3,973.1 L441.7,972.7 L443.2,971.9 L444.2,971.0 L445.6,970.4 L446.8,969.4 L448.0,968.6 L449.4,967.7 L450.6,967.2 L451.9,966.5 L452.9,965.5 L454.2,964.7 L455.1,963.7 L456.5,962.7 L457.4,961.4 L458.6,960.7 L459.8,959.5 L460.8,958.5 L461.8,957.8 L462.9,956.8 L464.0,955.6 L464.9,954.3 L466.0,953.2 L466.7,951.9 L467.6,950.5 L468.6,949.3 L469.3,947.7 L470.1,946.3 L470.8,945.2 L471.5,943.9 L472.4,943.0 L473.2,941.9 L473.8,940.4 L474.5,938.8 L475.2,937.4 L476.2,935.8 L476.7,934.6 L477.9,933.4 L478.6,931.8 L479.4,931.1 L480.4,929.6 L481.3,928.3 L482.4,926.7 L483.3,925.4 L484.6,924.5 L485.9,922.9 L487.1,921.9 L488.2,920.9 L489.5,919.8 L490.7,918.9 L492.0,918.1 L492.8,917.2 L493.8,916.6 L494.8,916.2 L495.7,916.5 L496.5,917.2 L497.2,919.4 L497.9,921.6 L498.7,923.8 L499.2,925.7 L500.1,926.3 L501.0,926.5 L502.0,925.8 L502.9,924.7 L504.0,923.4 L505.2,921.9 L506.3,920.3 L507.3,918.6 L508.6,917.3 L509.5,916.7 L510.7,916.7 L511.4,918.3 L512.4,919.5 L513.5,921.3 L514.4,922.5 L515.3,923.5 L515.8,923.5 L516.9,923.0 L517.7,922.1 L518.4,921.1 L518.9,919.7 L519.8,918.8 L520.4,917.5 L521.0,916.0 L521.7,914.4 L522.6,912.9 L523.0,910.5 L523.8,908.8 L524.6,907.3 L525.3,905.2 L525.7,903.8 L526.6,902.7 L527.4,901.5 L527.8,900.1 L528.7,898.6 L528.9,896.8 L530.0,895.3 L530.4,894.0 L531.2,892.7 L531.7,891.3 L532.2,890.3 L533.0,888.8 L533.6,887.6 L534.5,886.3 L535.5,885.1 L536.3,883.8 L537.2,882.5 L537.9,881.6 L538.7,880.3 L539.7,879.0 L540.6,877.5 L541.4,875.9 L542.3,874.4 L543.2,873.4 L543.8,872.3 L544.7,871.1 L545.5,869.6 L546.1,868.0 L546.9,866.5 L547.6,865.5 L548.5,864.4 L549.3,863.4 L549.5,862.1 L550.6,860.9 L550.8,859.4 L551.3,858.0 L551.4,856.6 L551.8,854.7 L551.9,852.8 L552.3,851.2 L552.3,850.0 L552.7,848.9 L553.0,847.6 L553.4,846.1 L553.9,844.1 L554.4,842.4 L554.9,841.2 L555.7,840.8 L556.3,840.4 L557.1,839.5 L558.1,838.8 L559.0,837.5" stroke="#1f77b4"/>
<path d="M88.3,1014.3 L89.6,1014.3 L91.1,1013.8 L92.6,1014.0 L94.2,1013.9 L95.7,1013.7 L97.2,1013.6 L98.9,1013.4 L100.3,1013.2 L101.6,1013.2 L103.0,1013.0 L104.7,1012.4 L106.0,1011.9 L107.5,1011.7 L109.0,1010.7 L110.6,1010.4 L112.0,1010.2 L113.5,1010.0 L114.7,1010.0 L116.5,1009.6 L118.0,1009.9 L119.6,1009.2 L121.0,1008.9 L122.4,1008.5 L124.2,1007.9 L125.6,1007.9 L127.0,1007.9 L128.5,1008.1 L130.0,1008.2 L131.3,1008.0 L132.8,1007.8 L134.4,1007.3 L135.7,1007.3 L137.5,1007.5 L138.9,1007.6 L140.5,1007.6 L141.9,1007.6 L143.3,1007.2 L144.8,1006.6 L146.3,1005.7 L148.0,1005.2 L149.5,1005.3 L150.9,1005.7 L152.4,1005.4 L153.8,1005.2 L155.5,1005.0 L156.9,1004.7 L158.3,1004.8 L159.7,1005.3 L161.4,1004.8 L163.1,1004.9 L164.4,1004.5 L165.8,1004.2 L167.3,1004.1 L168.8,1004.0 L170.1,1003.8 L172.0,1003.6 L173.3,1003.4 L174.7,1003.2 L176.1,1003.2 L177.9,1002.9 L179.4,1003.0 L181.0,1003.2 L182.5,1003.0 L183.8,1003.1 L185.2,1002.8 L186.9,1003.1 L188.3,1003.2 L189.9,1003.6 L191.2,1003.3 L192.8,1002.9 L194.3,1001.8 L195.7,1001.0 L197.1,1000.6 L198.5,1000.8 L200.3,1001.5 L201.9,1001.0 L203.2,1000.6 L204.4,999.9 L206.2,999.6 L207.5,998.9 L209.2,998.6 L210.8,998.7 L212.2,998.8 L213.3,998.5 L215.2,998.2 L216.6,997.6 L218.3,997.0 L219.6,996.8 L221.1,996.2 L222.3,996.1 L224.2,996.0 L225.3,996.1 L226.7,996.4 L228.5,996.4 L230.0,995.9 L231.6,995.9 L233.1,995.4 L234.5,994.6 L235.9,994.4 L237.5,994.1 L238.9,994.1 L240.4,993.8 L241.6,993.0 L243.3,992.9 L244.8,993.2 L246.4,993.4 L247.7,993.5 L249.4,993.5 L250.9,993.0 L252.2,992.7 L253.8,992.0 L255.4,992.0 L256.7,991.7 L258.0,991.7 L259.8,991.6 L261.3,991.5 L262.8,991.2 L264.4,990.9 L265.8,990.3 L267.4,990.4 L268.7,990.0 L270.4,989.5 L271.7,989.8 L273.3,989.5 L274.5,989.6 L276.2,990.4 L277.9,990.7 L279.3,990.4 L280.8,989.9 L282.2,988.8 L283.9,988.5 L285.2,987.9 L287.0,987.8 L288.4,987.5 L289.8,986.8 L291.2,986.9 L292.7,986.2 L294.3,986.5 L295.8,987.0 L297.1,987.2 L298.7,987.6 L300.1,987.5 L301.9,987.9 L303.0,988.2 L304.8,989.0 L306.1,989.7 L307.7,990.2 L309.3,990.8 L310.6,991.2 L311.8,992.0 L313.0,992.7 L314.6,993.1 L315.5,994.0 L316.8,995.1 L317.9,996.1 L318.6,997.3 L320.0,998.3 L320.7,998.7 L321.6,1000.1 L322.5,1001.8 L323.5,1003.2 L324.4,1004.7 L325.4,1006.3 L326.2,1007.6 L327.1,1008.9 L327.8,1009.4 L328.7,1010.2 L329.6,1011.1 L330.5,1012.0 L331.5,1013.2 L332.4,1014.9 L333.2,1016.3 L334.0,1017.7 L334.7,1018.5 L335.6,1018.9 L336.4,1018.7 L336.8,1018.2 L337.5,1017.4 L338.2,1016.3 L338.7,1014.7 L339.1,1012.7 L339.7,1010.9 L340.2,1008.7 L341.1,1006.7 L341.8,1005.5 L342.8,1004.1 L343.3,1003.1 L344.4,1001.4 L345.2,1000.1 L346.2,998.7 L347.4,997.8 L348.1,996.8 L349.3,996.0 L350.7,995.7 L351.8,994.9 L353.1,994.4 L354.1,993.6 L355.3,993.2 L356.8,992.5 L358.1,992.0 L359.6,991.3 L361.1,990.7 L362.5,990.0 L364.3,989.2 L365.7,989.5 L367.2,989.4 L368.8,989.4 L370.3,989.3 L371.8,989.2 L373.4,989.0 L374.9,989.2 L376.1,989.4 L377.9,989.5 L379.0,989.3 L380.6,989.5 L382.1,989.6 L383.7,989.9 L385.0,990.0 L386.8,990.8 L388.2,991.2 L389.7,991.9 L391.2,992.4 L392.6,992.6 L394.1,992.4 L395.4,993.0 L397.0,993.1 L398.5,993.3 L399.8,994.5 L401.4,994.7 L402.8,995.3 L404.4,995.2 L405.9,995.0 L407.2,995.1 L408.8,995.5 L410.4,995.5 L411.8,996.2 L413.1,996.9 L414.6,997.5 L415.9,997.9 L417.4,998.1 L419.0,998.9 L420.4,999.6 L421.7,999.8 L423.2,999.8 L424.6,1000.0 L426.1,1000.1 L427.6,1000.3 L429.1,1000.5 L430.5,1000.7 L432.0,1001.1 L433.4,1001.8 L435.0,1002.5 L436.6,1003.0 L437.9,1003.2 L439.3,1003.2 L441.2,1003.1 L442.4,1003.6 L444.0,1003.5 L445.2,1004.0 L446.8,1004.0 L448.4,1004.8 L449.8,1005.1 L451.3,1005.7 L452.8,1005.9 L454.2,1006.4 L455.6,1006.8 L457.2,1007.3 L458.6,1007.7 L460.1,1008.1 L461.7,1008.0 L463.1,1008.5 L464.5,1008.7 L466.2,1009.4 L467.5,1009.6 L469.0,1010.0 L470.6,1010.0 L472.0,1010.3 L473.3,1010.6 L475.0,1010.8 L476.2,1011.3 L477.8,1011.9 L479.4,1012.4 L480.9,1012.4 L482.2,1012.7 L483.8,1012.5 L485.4,1012.0 L487.0,1011.9 L488.5,1012.5 L489.9,1012.6 L491.4,1012.7 L492.7,1012.8 L494.2,1012.6 L495.9,1013.0 L497.4,1013.0 L498.6,1013.3 L500.4,1013.0 L501.7,1013.2 L503.3,1013.7 L504.6,1013.9 L506.2,1013.8 L507.9,1013.8 L509.1,1014.0 L510.7,1013.9 L512.3,1014.0 L513.8,1014.5 L515.5,1014.9 L516.8,1015.1 L518.4,1015.4 L519.6,1015.2 L521.2,1015.4 L522.5,1015.3 L524.4,1015.4 L525.7,1015.7 L527.3,1016.0 L528.7,1017.0 L530.2,1017.2 L531.7,1017.5 L533.2,1017.1 L534.7,1016.9 L536.1,1016.8 L537.8,1017.2 L539.3,1018.0 L540.6,1018.1 L542.1,1018.3 L543.7,1018.1 L545.2,1017.8 L547.0,1017.2 L548.4,1016.7 L549.6,1016.9 L551.6,1017.2 L552.9,1017.9 L554.1,1018.5 L555.6,1018.6 L557.3,1018.5 L558.6,1018.7" stroke="#ff7f0e"/>
<path d="M88.2,901.2 L89.9,900.9 L91.1,901.1 L92.8,900.8 L94.2,901.0 L95.8,901.1 L97.4,901.6 L98.5,901.8 L99.8,901.7 L101.1,902.4 L102.2,903.6 L103.5,904.9 L104.6,906.1 L105.6,907.3 L106.7,908.2 L107.8,909.3 L109.2,910.2 L110.1,911.2 L111.5,912.4 L112.5,913.4 L113.5,914.4 L114.9,915.3 L116.2,916.2 L117.4,916.7 L118.6,917.7 L120.1,918.6 L121.6,919.5 L123.0,920.9 L124.0,921.6 L125.5,922.7 L126.9,923.4 L128.4,924.0 L129.9,923.8 L131.2,924.0 L132.6,924.1 L133.9,924.5 L135.3,924.4 L136.9,924.8 L138.1,925.6 L139.7,925.8 L141.2,925.7 L142.7,925.3 L143.9,925.3 L145.6,925.2 L147.1,925.6 L148.6,926.3 L150.1,926.6 L151.6,926.5 L153.2,926.4 L154.5,926.8 L156.0,927.0 L157.6,926.7 L159.0,926.7 L160.6,926.7 L162.2,926.7 L163.7,926.8 L165.1,927.1 L166.6,927.2 L168.3,927.3 L169.8,927.3 L171.4,927.4 L172.9,927.3 L174.5,927.1 L176.0,926.6 L177.3,926.3 L178.6,926.3 L180.5,926.3 L182.0,926.5 L183.4,927.1 L185.0,927.5 L186.6,927.6 L188.0,927.8 L189.5,927.3 L191.1,927.2 L192.6,927.1 L194.0,927.0 L195.6,926.6 L197.1,926.3 L198.6,926.3 L200.1,926.6 L201.7,926.4 L203.0,926.0 L204.7,926.0 L206.4,926.4 L208.0,926.7 L209.5,926.3 L210.8,926.5 L212.1,926.6 L213.9,926.2 L215.5,925.8 L217.1,925.8 L218.5,925.8 L219.9,925.1 L221.5,924.8 L222.8,924.1 L224.3,924.1 L225.6,923.8 L227.2,923.8 L228.7,923.6 L229.9,923.2 L231.4,922.4 L232.6,922.4 L234.2,922.0 L235.5,921.6 L236.8,921.3 L238.3,920.7 L239.6,920.5 L240.8,919.8 L242.3,919.1 L243.5,918.4 L245.0,917.0 L246.2,916.6 L247.3,915.9 L248.6,915.4 L249.9,914.5 L251.2,913.7 L252.5,912.6 L254.0,911.0 L255.1,909.6 L256.2,908.5 L257.7,907.3 L259.0,907.1 L260.3,906.5 L261.4,906.1 L262.5,905.7 L263.9,905.1 L265.2,904.0 L266.2,903.2 L267.5,901.6 L268.6,900.4 L269.9,899.6 L271.1,898.9 L272.4,898.7 L273.5,897.9 L274.6,897.2 L275.9,896.2 L277.3,895.5 L278.8,894.6 L279.9,893.7 L281.2,892.8 L282.3,891.9 L283.6,890.6 L284.9,889.6 L286.4,889.6 L287.7,889.2 L288.9,888.3 L290.1,887.3 L291.2,885.8 L292.4,884.9 L293.7,884.1 L294.8,883.0 L296.0,882.6 L297.1,881.7 L298.3,881.0 L299.1,880.0 L300.6,878.9 L301.8,877.6 L302.8,876.5 L303.9,875.1 L304.9,874.1 L305.7,872.5 L306.6,871.5 L307.8,870.5 L308.8,869.8 L309.5,869.2 L310.4,868.2 L311.5,866.8 L312.3,864.8 L312.9,863.2 L313.6,861.6 L314.8,860.4 L315.5,859.4 L316.3,857.9 L316.9,856.6 L317.5,855.1 L318.2,853.5 L318.7,852.2 L319.2,851.0 L319.7,849.9 L320.1,848.8 L320.7,846.9 L321.0,845.2 L321.4,843.7 L321.6,842.1 L322.1,841.1 L322.5,839.7 L322.9,838.2 L323.1,836.5 L323.4,835.3 L323.6,833.2 L324.0,831.9 L324.1,830.6 L324.3,829.4 L324.7,828.4 L325.1,826.9 L325.5,825.1 L325.8,823.3 L325.8,822.1 L326.3,820.5 L326.5,818.9 L326.7,817.7 L327.1,815.9 L327.3,814.3 L327.8,812.8 L328.0,811.6 L328.2,809.9 L328.5,808.9 L328.8,807.6 L329.0,806.1 L329.3,804.5 L329.5,803.1 L329.9,801.2 L329.9,799.8 L330.1,798.5 L330.5,796.6 L330.8,795.1 L331.0,793.8 L331.2,792.1 L331.1,790.6 L331.3,789.0 L331.6,787.8 L331.8,786.2 L331.8,784.5 L332.0,783.0 L332.3,781.7 L332.4,780.2 L332.4,778.7 L332.6,777.1 L332.8,775.7 L332.7,774.2 L333.1,772.9 L332.9,771.0 L333.0,769.4 L333.2,767.7 L333.4,766.6 L333.1,765.6 L333.3,764.2 L333.6,762.4 L333.6,760.7 L333.6,759.5 L333.6,758.2 L333.7,756.8 L333.7,755.5 L334.0,752.9 L334.0,751.0 L333.9,749.2 L334.1,747.9 L334.0,746.2 L334.1,744.7 L334.4,743.2 L334.2,741.5 L334.0,740.3 L334.3,739.4 L334.5,738.4 L334.5,737.1 L334.4,735.8 L334.7,733.7 L334.5,731.8 L334.4,730.2 L334.8,728.5 L334.6,727.0 L334.6,726.0 L334.6,724.5 L334.7,722.6 L334.8,721.0 L335.0,718.6 L335.0,716.8 L335.0,715.2 L335.0,713.7 L334.8,712.2 L335.0,710.5 L334.9,708.7 L334.9,707.1 L335.0,705.6 L335.1,704.3 L335.2,703.2 L335.1,701.8 L335.2,699.9 L335.3,697.7 L335.3,695.8 L335.1,693.4 L335.4,691.7 L335.3,689.6 L335.3,687.4 L335.3,685.5 L335.3,683.8 L335.1,681.5 L335.3,679.3 L335.5,677.3 L335.4,675.4 L335.4,673.1 L335.4,671.3 L335.5,668.6 L335.4,666.8 L335.5,664.9 L335.5,663.2 L335.6,661.6 L335.5,659.7 L335.7,658.4 L335.6,656.7 L335.9,655.0 L335.8,653.0 L335.7,650.9 L335.6,649.1 L335.9,646.7 L335.7,645.5 L335.7,643.8 L335.7,642.4 L335.8,640.9 L335.8,640.1 L335.7,638.3 L335.7,636.8 L335.7,635.4 L335.7,634.2 L335.8,633.6 L335.8,632.8 L335.9,631.9 L336.1,631.3 L336.1,630.4 L336.0,629.1 L335.9,628.1 L336.0,626.8 L336.1,626.2 L336.0,625.8 L336.2,625.6 L336.2,625.6 L336.2,625.0 L336.1,624.6 L336.0,624.5 L336.2,623.9 L336.3,623.7 L336.1,624.0 L336.2,624.4 L336.2,625.0 L336.5,625.1 L336.4,625.9 L336.2,626.8 L336.4,628.2 L336.4,629.3 L336.5,630.1 L336.3,630.8 L336.6,631.8 L336.4,632.6 L336.7,634.2 L336.5,635.5 L336.6,637.4 L336.5,638.9 L336.5,640.1 L336.8,641.2 L336.7,641.9 L336.9,643.4 L336.7,644.9 L336.6,645.8 L336.7,647.0 L336.9,648.2 L336.9,649.6 L336.7,651.6 L336.8,653.8 L336.9,655.9 L336.9,658.1 L337.0,659.6 L336.8,661.5 L336.7,663.5 L336.9,665.7 L337.0,667.4 L336.7,669.4 L336.9,670.7 L337.1,672.4 L337.0,674.3 L337.1,676.4 L337.1,678.4 L337.1,680.9 L337.2,683.3 L337.2,685.7 L337.1,687.8 L337.3,689.8 L337.1,692.0 L337.3,693.5 L337.3,695.6 L337.4,697.7 L337.2,699.6 L337.6,701.6 L337.4,703.2 L337.4,704.8 L337.5,706.8 L337.5,709.0 L337.5,710.7 L337.6,712.4 L337.5,713.7 L337.6,714.6 L337.6,716.5 L337.7,718.1 L337.6,719.6 L337.5,721.4 L337.7,722.8 L337.6,724.0 L337.6,725.7 L337.6,727.4 L337.7,729.5 L337.8,731.2 L337.6,732.9 L337.7,734.2 L337.8,735.2 L337.9,736.4 L337.9,737.4 L337.7,738.8 L337.9,740.1 L338.2,741.9 L337.9,743.6 L337.9,745.2 L338.0,746.7 L338.2,748.0 L338.0,749.7 L338.1,751.2 L338.2,752.4 L337.9,754.3 L338.2,756.0 L338.2,757.6 L338.2,759.1 L338.0,761.0 L338.2,762.4 L338.0,763.8 L338.1,765.3 L338.1,767.2 L338.1,768.5 L338.1,770.0 L338.4,771.7 L338.2,773.6 L338.3,775.4 L338.3,776.9 L338.4,778.3 L338.4,779.2 L338.5,780.2 L338.7,781.1 L338.6,782.3 L338.4,783.7 L338.7,785.5 L338.9,787.7 L338.6,789.7 L338.9,791.4 L338.6,793.1 L338.8,794.7 L338.8,795.7 L338.9,796.9 L338.9,797.9 L339.2,799.1 L339.3,800.6 L339.3,802.2 L339.6,804.1 L339.8,805.9 L340.0,807.7 L340.1,809.6 L340.4,810.8 L340.5,812.1 L340.9,813.3 L341.2,814.4 L341.5,816.2 L341.9,817.7 L342.1,819.0 L342.4,820.7 L342.6,821.9 L343.1,823.3 L343.2,825.0 L343.8,826.1 L344.0,827.4 L344.2,828.5 L344.5,830.2 L344.8,831.9 L345.3,833.4 L345.5,834.6 L345.9,835.9 L346.1,837.2 L346.1,838.6 L346.6,840.1 L346.8,841.8 L347.0,842.9 L347.4,844.4 L347.8,846.3 L348.1,848.1 L348.2,850.2 L348.6,851.5 L348.8,853.4 L349.1,855.2 L349.6,856.7 L349.9,858.2 L350.1,859.2 L350.6,860.4 L350.9,861.7 L351.4,862.6 L351.7,864.1 L352.0,865.3 L352.4,867.0 L352.9,868.4 L353.1,869.9 L353.8,871.3 L354.1,873.2 L354.6,874.7 L355.2,876.2 L355.7,877.0 L356.2,878.4 L356.4,879.9 L357.2,881.3 L358.0,882.8 L358.5,884.2 L359.0,885.5 L359.8,887.1 L360.4,888.4 L361.1,890.1 L361.4,891.1 L362.3,892.4 L363.1,893.1 L363.8,894.3 L364.6,895.4 L365.6,896.7 L366.3,898.3 L367.3,899.9 L368.0,901.7 L369.1,903.2 L370.0,904.1 L371.2,904.8 L371.9,905.9 L372.9,907.2 L374.1,908.6 L375.3,909.3 L376.2,910.9 L377.5,911.6 L378.6,912.5 L379.4,913.7 L381.1,914.8 L382.0,915.8 L383.4,917.0 L384.7,917.7 L386.1,918.1 L387.3,918.3 L388.6,918.9 L390.1,919.2 L391.5,919.6 L393.0,919.5 L394.3,920.1 L396.1,920.6 L397.3,920.4 L398.9,920.9 L400.1,921.3 L401.8,921.7 L403.4,922.2 L405.0,922.1 L406.3,922.1 L407.8,921.9 L409.7,922.1 L411.0,922.3 L412.4,922.6 L413.9,922.6 L415.5,923.1 L417.1,923.5 L418.5,923.4 L420.1,923.4 L421.3,923.0 L423.1,922.7 L424.6,923.0 L425.9,923.2 L427.5,924.1 L428.8,924.2 L430.2,924.6 L431.9,924.5 L433.2,924.4 L435.0,924.0 L436.5,924.7 L438.1,925.0 L439.4,926.2 L440.9,926.9 L442.5,927.2 L444.1,927.1 L445.5,927.5 L447.0,927.6 L448.3,928.1 L449.7,928.5 L451.1,928.9 L452.5,928.9 L453.8,929.4 L455.2,929.3 L456.4,928.6 L457.8,927.9 L459.1,926.4 L460.3,925.6 L461.3,924.4 L462.6,923.3 L463.9,922.0 L465.0,920.3 L466.1,919.0 L467.3,917.6 L468.3,916.2 L469.2,915.6 L470.2,914.7 L471.4,913.5 L471.9,912.6 L472.8,911.1 L473.9,909.9 L474.5,908.7 L475.5,907.9 L476.6,906.9 L477.5,905.8 L478.3,904.5 L479.7,903.1 L480.7,902.5 L481.8,901.6 L483.2,901.0 L484.3,900.4 L485.9,899.5 L487.1,898.7 L488.4,897.0 L489.9,895.4 L491.3,894.3 L492.6,893.4 L493.6,892.9 L494.8,892.8 L495.8,893.4 L496.6,894.7 L497.4,896.7 L498.2,898.7 L499.0,900.1 L499.8,901.5 L500.9,901.2 L501.8,900.8 L503.0,899.6 L504.4,898.5 L505.6,897.2 L507.0,896.1 L508.3,895.1 L509.3,895.0 L510.4,895.4 L511.0,896.5 L512.0,897.4 L512.8,899.4 L513.4,900.8 L514.2,902.2 L514.8,903.5 L515.4,904.0 L516.0,903.8 L517.0,903.3 L517.7,903.2 L518.4,901.9 L519.2,900.6 L519.9,898.8 L520.8,897.3 L521.3,895.7 L522.1,894.1 L522.8,892.1 L523.5,890.3 L524.0,888.6 L524.4,886.9 L525.2,886.1 L526.1,884.8 L526.7,883.5 L527.3,882.3 L527.9,880.8 L528.6,879.6 L529.1,877.9 L529.5,876.3 L530.3,874.9 L530.6,873.5 L531.5,872.1 L532.0,870.6 L532.5,869.4 L533.1,868.3 L533.8,866.8 L534.3,865.5 L535.2,864.3 L535.7,862.8 L536.7,861.2 L537.6,859.9 L538.4,858.5 L539.4,857.0 L540.4,855.9 L541.0,854.5 L541.8,853.5 L542.7,852.2 L543.5,851.2 L544.3,850.2 L544.7,848.8 L545.3,847.2 L545.8,846.2 L546.3,844.4 L546.8,842.4 L547.0,840.2 L547.6,838.7 L547.9,836.8 L548.2,835.4 L548.6,833.5 L548.8,831.1 L549.4,829.3 L549.5,827.8 L549.8,825.9 L550.2,824.4 L550.5,822.8 L550.7,821.3 L550.9,819.4 L551.3,817.5 L551.7,816.1 L551.8,815.1 L552.3,815.1 L552.6,814.5 L553.1,814.3 L553.2,814.2 L553.7,814.0 L554.1,814.1 L554.7,814.7 L555.0,815.2 L555.5,816.1 L555.9,817.6 L556.4,819.3 L556.8,821.0 L557.2,823.2 L557.3,825.7 L558.0,828.0 L558.5,830.3 L558.6,832.3" stroke="#2ca02c"/>
<path d="M88.1,865.9 L89.8,865.2 L91.4,865.8 L92.7,864.8 L94.3,863.9 L95.7,863.2 L96.7,863.2 L97.3,862.1 L98.1,861.3 L98.5,860.4 L98.7,859.4 L99.2,858.0 L99.8,856.3 L99.8,854.2 L100.1,852.3 L100.1,850.9 L100.5,849.7 L101.0,848.9 L101.0,846.9 L101.4,846.3 L102.0,844.9 L101.8,843.1 L102.1,841.1 L102.8,839.1 L103.0,837.3 L103.9,836.4 L104.8,835.2 L105.6,834.2 L106.5,833.4 L107.2,831.6 L108.6,830.0 L108.7,828.3 L109.0,826.6 L109.8,825.1 L110.1,823.4 L110.4,823.3 L110.6,822.1 L110.8,821.1 L110.9,819.5 L111.5,818.1 L111.4,816.5 L112.0,815.3 L111.6,813.7 L112.0,811.6 L112.4,810.1 L112.6,808.7 L112.5,807.9 L113.3,806.3 L113.4,804.1 L113.6,802.6 L113.9,800.7 L114.3,799.2 L115.0,798.4 L114.9,797.3 L115.3,796.0 L116.0,794.2 L116.5,792.3 L117.0,789.7 L117.9,788.4 L118.7,787.0 L119.1,785.3 L119.5,784.2 L120.2,782.8 L120.8,781.0 L121.5,779.2 L121.9,777.8 L122.6,776.6 L123.4,775.1 L123.6,773.5 L124.9,773.3 L125.7,773.2 L127.1,774.1 L128.7,775.6 L129.5,776.9 L130.1,778.2 L130.9,777.9 L130.9,777.7 L131.4,776.8 L131.6,776.1 L131.6,774.0 L131.9,772.4 L131.8,770.3 L132.2,767.8 L132.5,765.8 L132.6,763.7 L133.0,762.0 L133.2,760.6 L133.8,760.3 L134.0,759.9 L134.9,760.0 L135.8,760.1 L136.8,761.5 L138.2,763.1 L139.3,764.4 L140.8,765.7 L142.3,766.0 L143.4,767.4 L144.6,768.4 L145.8,767.9 L147.1,767.1 L148.9,766.3 L150.2,764.6 L151.4,763.5 L152.7,762.6 L154.1,761.6 L155.9,760.4 L156.9,758.6 L157.9,757.6 L159.3,755.9 L160.9,755.5 L161.8,755.1 L163.4,755.1 L164.1,756.3 L165.2,757.4 L165.7,758.8 L166.6,759.6 L167.8,760.8 L168.6,760.7 L169.2,760.3 L170.1,760.3 L171.3,760.0 L171.7,758.9 L172.8,757.9 L173.5,755.8 L174.2,753.6 L175.2,751.4 L175.5,749.8 L176.2,748.7 L177.2,746.7 L177.7,745.9 L178.6,744.8 L178.5,744.4 L179.6,745.2 L180.3,746.2 L180.5,747.9 L180.8,749.7 L181.8,751.8 L182.3,753.8 L182.8,755.3 L183.3,756.4 L184.4,756.3 L184.6,755.1 L185.4,754.3 L186.3,752.5 L187.0,751.6 L188.4,750.3 L189.2,748.3 L189.8,746.9 L190.9,745.8 L191.9,744.4 L192.9,743.6 L193.2,742.3 L193.8,741.7 L194.4,742.7 L194.7,743.5 L195.3,746.0 L196.0,747.6 L196.3,748.6 L196.3,750.3 L197.3,753.5 L197.5,755.7 L198.1,757.0 L198.9,757.4 L199.2,757.0 L200.4,756.5 L201.7,755.9 L202.9,755.1 L204.6,754.2 L206.1,752.8 L208.1,752.0 L209.2,751.7 L209.9,752.6 L211.3,753.7 L212.5,754.0 L213.0,755.2 L214.0,755.9 L215.5,757.0 L216.8,758.7 L217.6,759.5 L219.5,760.1 L221.1,760.2 L222.5,759.7 L223.7,759.5 L224.6,760.0 L225.8,761.6 L226.9,764.1 L227.7,765.2 L228.4,766.2 L229.2,767.9 L229.8,769.4 L230.7,771.9 L231.1,773.7 L231.7,775.8 L232.1,777.5 L232.8,778.6 L233.5,779.6 L233.8,780.4 L234.0,781.8 L234.4,782.2 L235.1,783.1 L235.4,784.9 L235.5,787.7 L236.4,790.0 L236.5,792.0 L236.8,793.2 L236.9,793.7 L237.3,794.6 L237.8,796.1 L238.4,798.0 L238.9,799.4 L239.7,800.9 L240.4,802.3 L241.5,802.8 L242.6,803.9 L243.7,804.1 L244.7,806.0 L245.7,806.7 L246.4,808.1 L247.1,809.9 L247.8,810.2 L248.0,811.5 L248.6,812.5 L249.0,814.0 L249.7,816.0 L250.4,817.2 L250.6,818.2 L251.0,819.9 L251.2,821.8 L251.1,824.4 L251.9,826.0 L252.2,827.0 L252.3,827.5 L252.2,829.2 L252.8,831.3 L253.4,834.3 L253.0,835.9 L253.7,838.1 L253.9,838.8 L254.9,840.1 L255.1,840.5 L256.0,840.4 L257.1,840.8 L258.4,842.1 L259.8,843.4 L261.1,844.4 L262.2,845.1 L263.3,845.5 L264.0,847.2 L265.2,848.5 L265.3,850.2 L265.9,851.8 L266.5,853.4 L267.0,854.1 L267.2,855.2 L267.4,856.7 L267.9,857.6 L268.2,859.4 L268.8,860.6 L268.7,861.4 L269.3,862.8 L269.5,864.5 L270.0,866.6 L270.0,868.7 L270.7,870.9 L270.9,872.3 L271.4,873.5 L271.9,874.9 L273.0,876.4 L274.5,878.0 L275.8,878.4 L277.4,878.6 L278.7,878.4 L279.5,878.9 L280.3,879.4 L280.5,881.4 L281.5,882.8 L281.9,884.7 L282.1,885.7 L282.5,887.4 L282.9,888.9 L283.0,891.1 L283.6,892.9 L283.7,893.9 L284.1,895.4 L284.6,896.8 L285.8,897.6 L286.4,898.6 L287.5,900.4 L288.2,900.9 L289.5,901.8 L291.0,903.1 L291.8,904.6 L293.2,905.6 L294.3,906.4 L295.2,907.6 L296.2,908.4 L297.0,910.6 L298.1,911.6 L298.7,912.5 L299.7,912.5 L300.9,914.1 L301.5,916.4 L302.4,918.6 L302.7,920.2 L303.8,920.8 L304.3,921.1 L305.0,921.7 L305.6,923.2 L306.1,925.8 L306.9,926.9 L307.3,928.5 L307.9,929.7 L308.3,930.6 L308.7,931.7 L309.3,932.9 L309.9,934.4 L310.5,936.3 L310.8,937.2 L311.3,939.6 L311.8,941.8 L312.6,942.7 L312.9,944.6 L313.6,946.0 L314.0,947.2 L314.3,948.6 L314.7,949.2 L315.5,950.6 L316.4,951.4 L316.7,953.5 L317.1,955.4 L317.6,958.4 L318.3,960.4 L318.7,962.2 L319.1,963.3 L319.8,964.8 L320.2,965.6 L320.5,966.8 L320.8,967.1 L321.7,968.1 L322.0,968.3 L322.3,969.9 L323.2,972.0 L323.4,974.0 L323.7,975.8 L324.2,976.9 L324.7,977.8 L324.8,979.2 L325.6,980.5 L325.7,982.6 L326.0,983.7 L326.7,985.4 L327.1,987.1 L327.0,988.9 L327.9,990.7 L328.1,992.9 L328.5,994.6 L329.1,996.4 L329.6,998.6 L330.1,999.3 L330.2,1001.3 L330.7,1003.1 L330.9,1005.9 L331.4,1007.8 L331.6,1009.2 L331.9,1010.4 L332.5,1011.6 L332.8,1013.4 L333.4,1014.8 L333.6,1016.6 L334.1,1018.2 L334.4,1019.0 L334.4,1019.5 L335.1,1019.5 L335.3,1020.3 L335.9,1020.5 L335.8,1020.2 L336.1,1019.4 L336.6,1018.6 L336.9,1017.8 L337.1,1016.5 L337.2,1015.4 L337.8,1014.7 L337.9,1012.9 L338.0,1012.2 L338.5,1010.0 L339.0,1007.9 L339.1,1004.6 L339.5,1002.5 L339.7,1001.3 L339.9,999.6 L340.3,998.9 L340.7,997.4 L340.9,995.9 L341.3,994.5 L341.3,993.2 L341.9,990.3 L342.1,987.8 L342.2,985.4 L342.5,982.8 L343.2,981.4 L343.3,979.9 L343.3,978.6 L343.8,976.6 L344.2,975.1 L343.9,973.9 L345.2,971.8 L345.2,970.3 L345.5,968.6 L345.8,967.0 L346.3,965.4 L346.7,964.7 L346.5,963.8 L346.9,963.1 L347.7,961.7 L347.9,960.0 L348.1,959.2 L348.5,957.2 L348.8,955.7 L348.9,953.8 L349.2,952.8 L349.6,951.0 L349.9,950.0 L350.2,948.2 L350.8,946.7 L351.2,945.4 L351.3,944.6 L351.5,943.0 L352.1,941.8 L351.9,939.1 L352.6,936.8 L353.1,935.2 L353.4,933.7 L353.7,932.0 L354.0,931.2 L354.4,929.5 L354.8,928.4 L355.1,927.0 L355.2,926.1 L355.4,925.2 L356.0,924.0 L356.1,922.6 L356.3,920.4 L356.8,918.4 L357.1,916.4 L357.4,914.9 L357.7,913.1 L358.1,911.5 L358.2,910.1 L358.5,908.5 L358.9,906.6 L359.2,905.4 L359.5,903.4 L359.6,902.0 L360.0,901.2 L360.3,900.2 L360.5,899.0 L361.1,897.7 L361.2,895.9 L361.7,894.3 L362.0,893.0 L362.3,890.3 L362.6,888.5 L362.8,887.1 L363.2,885.5 L363.5,884.9 L363.6,884.6 L363.9,884.1 L364.7,882.9 L364.7,881.3 L364.9,880.4 L365.2,878.0 L365.5,876.0 L365.6,874.2 L365.8,872.5 L366.4,870.5 L366.6,868.5 L366.6,867.2 L367.3,866.1 L367.7,864.6 L367.7,863.3 L367.9,862.2 L368.1,860.4 L368.8,858.5 L368.7,857.4 L369.2,856.0 L369.3,854.6 L369.7,853.0 L370.4,851.2 L370.1,848.9 L370.7,847.6 L371.0,845.6 L371.6,844.2 L371.7,842.1 L372.4,840.4 L372.9,840.2 L373.2,838.9 L373.5,838.3 L373.8,837.8 L374.9,837.4 L375.0,835.3 L375.6,833.9 L376.4,831.9 L376.9,830.1 L377.6,828.4 L378.0,827.4 L378.6,826.8 L378.9,825.2 L379.3,824.9 L379.9,823.3 L379.7,822.5 L380.4,820.7 L381.0,819.5 L381.5,817.8 L381.9,815.4 L382.2,813.5 L382.6,810.9 L383.4,809.4 L383.6,807.6 L384.3,806.8 L385.1,805.6 L385.3,804.1 L386.2,803.1 L386.6,802.0 L387.3,801.3 L388.0,800.3 L388.7,798.8 L389.5,797.2 L389.9,795.2 L390.8,793.7 L391.4,791.4 L391.9,790.0 L392.2,788.4 L393.2,786.9 L393.5,786.5 L394.2,785.6 L395.0,784.3 L395.8,783.2 L396.6,782.5 L397.4,781.2 L398.8,780.6 L400.5,780.0 L402.0,780.1 L403.5,779.5 L404.6,778.3 L406.1,777.6 L406.9,776.4 L408.3,774.9 L409.2,773.3 L410.2,772.9 L411.4,772.6 L412.1,772.8 L413.1,773.5 L414.0,774.8 L414.7,776.2 L415.3,776.5 L416.4,777.6 L417.0,778.2 L418.3,778.4 L420.2,778.4 L421.3,777.5 L422.4,776.6 L423.8,775.2 L424.5,773.4 L425.1,771.7 L425.9,769.8 L426.3,766.8 L427.2,764.9 L427.5,763.7 L427.8,762.1 L428.4,761.5 L429.3,761.5 L430.4,763.1 L431.6,764.4 L432.5,766.0 L433.3,767.1 L434.8,768.0 L434.8,767.8 L435.6,766.8 L436.2,764.5 L436.6,762.6 L436.9,760.3 L437.6,758.2 L438.0,757.0 L439.1,755.5 L439.6,755.1 L439.9,756.5 L440.9,758.3 L441.9,760.6 L443.0,760.5 L443.8,760.3 L444.8,759.2 L445.7,757.5 L446.6,755.8 L447.4,754.3 L448.3,752.4 L449.2,751.2 L449.6,749.9 L450.8,748.0 L451.5,746.8 L452.4,746.0 L452.7,745.7 L453.5,745.4 L453.7,746.6 L454.6,748.4 L454.5,749.8 L455.3,752.1 L455.5,753.3 L455.8,755.5 L456.4,757.3 L456.7,758.3 L457.3,760.1 L458.2,762.1 L457.7,764.0 L458.3,765.2 L458.9,766.7 L459.7,767.9 L459.6,769.3 L460.1,770.7 L460.9,773.1 L461.3,774.3 L461.8,775.7 L461.9,776.7 L462.0,777.7 L462.6,778.9 L462.9,780.2 L463.1,782.0 L463.9,783.9 L464.1,785.7 L464.3,786.9 L464.6,788.4 L465.3,789.3 L465.2,790.4 L466.0,791.4 L466.3,792.8 L466.6,794.8 L467.3,796.1 L467.4,797.5 L468.4,798.9 L468.5,800.4 L468.9,802.3 L469.7,804.1 L469.5,805.1 L470.0,806.9 L470.1,808.6 L470.4,809.5 L470.4,811.0 L470.6,812.2 L471.1,814.1 L471.1,816.0 L471.4,817.8 L471.4,819.7 L471.2,821.7 L471.1,822.9 L471.7,824.3 L472.2,825.6 L472.1,826.7 L472.3,828.1 L472.8,829.3 L473.1,830.4 L474.3,831.1 L475.2,832.6 L476.0,834.4 L476.8,836.8 L477.0,837.8 L477.3,838.8 L477.3,839.9 L477.9,841.6 L478.0,843.2 L478.3,845.5 L478.6,847.0 L478.5,848.2 L478.9,850.0 L479.2,851.7 L479.7,852.9 L479.4,853.5 L479.7,854.4 L480.1,854.6 L480.3,856.6 L480.9,858.8 L480.9,860.7 L481.5,862.6 L482.4,864.2 L482.8,864.8 L483.8,866.3 L484.5,867.8 L485.1,869.4 L486.2,871.7 L486.7,874.6 L487.2,876.6 L488.4,879.4 L489.4,881.5 L490.2,883.2 L491.0,884.0 L491.4,884.5 L492.5,884.5 L493.0,884.2 L493.6,884.2 L493.7,883.8 L494.3,883.7 L494.5,883.1 L495.3,881.2 L494.7,878.9 L495.2,876.8 L495.9,874.9 L495.8,873.6 L496.1,872.2 L495.9,870.0 L496.9,867.9 L496.4,865.7 L496.9,863.0 L497.2,861.3 L497.4,859.4 L497.4,859.0 L498.0,857.9 L498.7,858.1 L499.1,857.7 L499.9,857.2 L501.9,857.2 L503.9,856.9 L505.5,856.7 L506.9,856.3 L507.5,856.4 L508.1,857.5 L508.1,858.5 L508.7,860.7 L509.0,861.8 L509.3,864.7 L509.4,866.9 L510.0,869.5 L510.2,871.3 L510.3,873.9 L510.2,875.7 L510.4,877.6 L510.9,878.4 L511.4,878.4 L511.0,878.5 L511.5,877.7 L511.8,877.0 L512.0,875.8 L512.2,874.7 L512.8,873.2 L512.1,871.8 L512.6,870.3 L513.2,869.0 L513.1,866.7 L513.3,864.9 L513.7,862.7 L514.0,860.9 L513.9,858.8 L514.3,857.7 L514.4,855.1 L514.4,853.7 L514.6,851.9 L514.8,850.7 L515.1,849.1 L515.3,848.5 L515.4,848.9 L515.7,848.7 L516.0,848.8 L516.1,849.1 L516.5,850.6 L516.5,851.6 L516.5,853.0 L516.7,853.8 L517.1,855.5 L517.4,856.7 L517.5,858.0 L517.3,860.3 L517.7,862.7 L518.0,864.5 L517.9,866.4 L518.0,868.5 L518.4,869.8 L518.6,871.2 L518.5,874.0 L518.9,876.3 L519.5,879.0 L519.5,880.7 L519.3,881.9 L519.8,883.9 L520.1,885.2 L520.4,886.5 L520.5,887.6 L521.0,888.9 L521.3,890.3 L521.7,892.2 L522.2,894.0 L522.8,895.9 L523.3,897.4 L523.8,898.8 L524.2,899.7 L524.9,901.8 L525.4,903.9 L525.5,905.1 L526.4,906.9 L526.4,908.0 L527.5,909.4 L527.5,910.5 L528.0,911.5 L528.5,911.7 L528.6,913.2 L528.9,914.5 L529.6,915.8 L529.7,917.7 L530.1,920.1 L530.4,921.1 L530.8,922.7 L531.4,924.0 L531.2,925.2 L532.1,926.8 L532.1,928.6 L532.7,930.5 L533.3,931.6 L533.7,932.9 L534.4,934.0 L534.6,935.6 L535.3,937.0 L535.5,938.7 L536.1,940.6 L536.9,942.4 L537.2,944.2 L537.9,945.4 L538.5,946.6 L539.0,947.0 L539.6,948.2 L540.4,949.6 L540.9,950.6 L541.9,952.8 L542.2,954.0 L543.0,955.4 L544.2,956.3 L545.3,958.0 L546.0,959.4 L547.4,960.9 L548.6,961.4 L549.4,962.1 L550.3,962.9 L550.7,965.0 L551.0,966.5 L551.3,968.2 L551.5,969.8 L551.9,971.8 L551.9,973.4 L552.1,975.8 L552.4,977.4 L552.8,979.2 L552.7,980.9 L552.7,981.6 L553.0,983.0 L553.1,985.1 L553.6,987.4 L553.7,989.0 L553.8,990.8 L554.1,991.8 L554.3,991.2 L554.7,992.2 L554.9,992.3 L555.0,991.5 L555.3,990.9 L555.8,989.9 L556.6,988.5 L556.9,987.7 L557.5,986.2 L557.7,985.0 L558.4,982.8 L558.9,980.7" stroke="#d62728"/>
</g>
<rect x="86.8" y="602.7" width="472.99999999999994" height="418.79999999999995" fill="none" stroke="#000" stroke-width="1.6"/>
<path d="M86.8,1021.5h-7M86.8,904.9h-7M86.8,788.3h-7M86.8,671.7h-7M87.4,1021.5v7M211.5,1021.5v7M335.6,1021.5v7M459.7,1021.5v7M559.8,1021.5h7M559.8,937.7h7M559.8,854.0h7M559.8,770.2h7M559.8,686.5h7M559.8,602.7h7" stroke="#000" stroke-width="1.6" fill="none"/>
<text x="71.5" y="1030.7" font-size="26" text-anchor="end" fill="#000" font-weight="normal" font-family='"Liberation Sans", sans-serif' stroke="#000" stroke-width="0.35" textLength="19.5" lengthAdjust="spacingAndGlyphs">0</text>
<text x="71.5" y="914.1" font-size="26" text-anchor="end" fill="#000" font-weight="normal" font-family='"Liberation Sans", sans-serif' stroke="#000" stroke-width="0.35" textLength="32.5" lengthAdjust="spacingAndGlyphs">10</text>
<text x="71.5" y="797.5" font-size="26" text-anchor="end" fill="#000" font-weight="normal" font-family='"Liberation Sans", sans-serif' stroke="#000" stroke-width="0.35" textLength="32.5" lengthAdjust="spacingAndGlyphs">20</text>
<text x="71.5" y="680.9" font-size="26" text-anchor="end" fill="#000" font-weight="normal" font-family='"Liberation Sans", sans-serif' stroke="#000" stroke-width="0.35" textLength="32.5" lengthAdjust="spacingAndGlyphs">30</text>
<text x="86.9" y="1053.5" font-size="26" text-anchor="middle" fill="#000" font-weight="normal" font-family='"Liberation Sans", sans-serif' stroke="#000" stroke-width="0.35" textLength="62.5" lengthAdjust="spacingAndGlyphs">−0.2</text>
<text x="211.0" y="1053.5" font-size="26" text-anchor="middle" fill="#000" font-weight="normal" font-family='"Liberation Sans", sans-serif' stroke="#000" stroke-width="0.35" textLength="62.5" lengthAdjust="spacingAndGlyphs">−0.1</text>
<text x="335.1" y="1053.5" font-size="26" text-anchor="middle" fill="#000" font-weight="normal" font-family='"Liberation Sans", sans-serif' stroke="#000" stroke-width="0.35" textLength="41.0" lengthAdjust="spacingAndGlyphs">0.0</text>
<text x="459.2" y="1053.5" font-size="26" text-anchor="middle" fill="#000" font-weight="normal" font-family='"Liberation Sans", sans-serif' stroke="#000" stroke-width="0.35" textLength="41.0" lengthAdjust="spacingAndGlyphs">0.1</text>
<text x="573.8" y="1030.7" font-size="26" text-anchor="start" fill="#d62728" font-weight="normal" font-family='"Liberation Sans", sans-serif' stroke="#d62728" stroke-width="0.35" textLength="39.5" lengthAdjust="spacingAndGlyphs">0.0</text>
<text x="573.8" y="946.9" font-size="26" text-anchor="start" fill="#d62728" font-weight="normal" font-family='"Liberation Sans", sans-serif' stroke="#d62728" stroke-width="0.35" textLength="39.5" lengthAdjust="spacingAndGlyphs">0.1</text>
<text x="573.8" y="863.2" font-size="26" text-anchor="start" fill="#d62728" font-weight="normal" font-family='"Liberation Sans", sans-serif' stroke="#d62728" stroke-width="0.35" textLength="39.5" lengthAdjust="spacingAndGlyphs">0.2</text>
<text x="573.8" y="779.4" font-size="26" text-anchor="start" fill="#d62728" font-weight="normal" font-family='"Liberation Sans", sans-serif' stroke="#d62728" stroke-width="0.35" textLength="39.5" lengthAdjust="spacingAndGlyphs">0.3</text>
<text x="573.8" y="695.7" font-size="26" text-anchor="start" fill="#d62728" font-weight="normal" font-family='"Liberation Sans", sans-serif' stroke="#d62728" stroke-width="0.35" textLength="39.5" lengthAdjust="spacingAndGlyphs">0.4</text>
<text x="573.8" y="611.9" font-size="26" text-anchor="start" fill="#d62728" font-weight="normal" font-family='"Liberation Sans", sans-serif' stroke="#d62728" stroke-width="0.35" textLength="39.5" lengthAdjust="spacingAndGlyphs">0.5</text>
<text x="322.5" y="1089.8" stroke="#000" stroke-width="0.35" font-size="26" text-anchor="middle" font-family='"Liberation Sans", sans-serif' textLength="104" lengthAdjust="spacingAndGlyphs">Δ<tspan font-style="italic">λ</tspan> [nm]</text>
<text x="25.5" y="811.6" font-size="26" text-anchor="middle" fill="#000" font-weight="normal" font-family='"Liberation Sans", sans-serif' stroke="#000" stroke-width="0.35" textLength="250.0" lengthAdjust="spacingAndGlyphs" transform="rotate(-90 25.5 811.6)">Power Penalty [dB]</text>
<text x="642.0" y="811.8" font-size="26" text-anchor="middle" fill="#d62728" font-weight="normal" font-family='"Liberation Sans", sans-serif' stroke="#d62728" stroke-width="0.35" textLength="364.0" lengthAdjust="spacingAndGlyphs" transform="rotate(-90 642.0 811.8)">Normalized OMA [mW/mW]</text>
<rect x="97.7" y="613.2" width="151.7" height="117.4" rx="4" fill="#fff" fill-opacity="0.8" stroke="#d0d0d0" stroke-width="1.2"/>
<path d="M105.3,633.4H154.3" stroke="#1f77b4" stroke-width="3"/>
<text x="173.4" y="639.8" font-size="22" text-anchor="start" fill="#000" font-weight="normal" font-family='"Liberation Sans", sans-serif' stroke="#000" stroke-width="0.35" textLength="28.0" lengthAdjust="spacingAndGlyphs">PP</text>
<text x="200.5" y="642.4" font-size="16" text-anchor="start" fill="#000" font-weight="normal" font-family='"Liberation Sans", sans-serif' stroke="#000" stroke-width="0.35" textLength="19.0" lengthAdjust="spacingAndGlyphs">ER</text>
<path d="M105.3,670.4H154.3" stroke="#ff7f0e" stroke-width="3"/>
<text x="173.4" y="676.8" font-size="22" text-anchor="start" fill="#000" font-weight="normal" font-family='"Liberation Sans", sans-serif' stroke="#000" stroke-width="0.35" textLength="28.0" lengthAdjust="spacingAndGlyphs">PP</text>
<text x="200.5" y="679.4" font-size="16" text-anchor="start" fill="#000" font-weight="normal" font-family='"Liberation Sans", sans-serif' stroke="#000" stroke-width="0.35" textLength="33.0" lengthAdjust="spacingAndGlyphs">OOK</text>
<path d="M105.3,707.4H154.3" stroke="#2ca02c" stroke-width="3"/>
<text x="173.4" y="713.8" font-size="22" text-anchor="start" fill="#000" font-weight="normal" font-family='"Liberation Sans", sans-serif' stroke="#000" stroke-width="0.35" textLength="28.0" lengthAdjust="spacingAndGlyphs">PP</text>
<text x="200.5" y="716.4" font-size="16" text-anchor="start" fill="#000" font-weight="normal" font-family='"Liberation Sans", sans-serif' stroke="#000" stroke-width="0.35" textLength="39.0" lengthAdjust="spacingAndGlyphs">Total</text>
<rect x="345.2" y="611.9" width="203.8" height="38" rx="4" fill="#fff" fill-opacity="0.8" stroke="#d0d0d0" stroke-width="1.2"/>
<path d="M351.7,629.3H399.2" stroke="#d62728" stroke-width="3"/>
<text x="414.5" y="637.1" font-size="22.5" text-anchor="start" fill="#000" font-weight="normal" font-family='"Liberation Sans", sans-serif' stroke="#000" stroke-width="0.35" textLength="125.5" lengthAdjust="spacingAndGlyphs">Norm. OMA</text>
<text x="695.5" y="594.5" font-size="43" text-anchor="start" fill="#000" font-weight="bold" font-family='"Liberation Sans", sans-serif' textLength="55.5" lengthAdjust="spacingAndGlyphs">(d)</text>
<defs>
<pattern id="hatch" patternUnits="userSpaceOnUse" width="5.7" height="5.7" patternTransform="rotate(-45)">
<rect width="5.7" height="5.7" fill="#f5f5f5"/><path d="M0,2.85H5.7" stroke="#e9e9e9" stroke-width="1.1"/></pattern>
<clipPath id="wclip"><circle cx="974.7" cy="843" r="236"/></clipPath>
</defs>
<g clip-path="url(#wclip)">
<rect x="725.9" y="589.6" width="39.6" height="41.4" fill="url(#hatch)"/>
<rect x="767.4" y="589.6" width="39.6" height="41.4" fill="url(#hatch)"/>
<rect x="808.9" y="589.6" width="39.6" height="41.4" fill="url(#hatch)"/>
<rect x="850.4" y="589.6" width="39.6" height="41.4" fill="url(#hatch)"/>
<rect x="891.9" y="589.6" width="39.6" height="41.4" fill="url(#hatch)"/>
<rect x="933.4" y="589.6" width="39.6" height="41.4" fill="url(#hatch)"/>
<rect x="974.9" y="589.6" width="39.6" height="41.4" fill="url(#hatch)"/>
<rect x="1016.4" y="589.6" width="39.6" height="41.4" fill="url(#hatch)"/>
<rect x="1057.9" y="589.6" width="39.6" height="41.4" fill="url(#hatch)"/>
<rect x="1099.4" y="589.6" width="39.6" height="41.4" fill="url(#hatch)"/>
<rect x="1140.9" y="589.6" width="39.6" height="41.4" fill="url(#hatch)"/>
<rect x="1182.4" y="589.6" width="39.6" height="41.4" fill="url(#hatch)"/>
<rect x="725.9" y="641.4" width="39.6" height="41.4" fill="url(#hatch)"/>
<rect x="767.4" y="641.4" width="39.6" height="41.4" fill="url(#hatch)"/>
<rect x="808.9" y="641.4" width="39.6" height="41.4" fill="url(#hatch)"/>
<rect x="850.4" y="641.4" width="39.6" height="41.4" fill="url(#hatch)"/>
<rect x="891.9" y="641.4" width="39.6" height="41.4" fill="url(#hatch)"/>
<rect x="933.4" y="641.4" width="39.6" height="41.4" fill="url(#hatch)"/>
<rect x="974.9" y="641.4" width="39.6" height="41.4" fill="url(#hatch)"/>
<rect x="1016.4" y="641.4" width="39.6" height="41.4" fill="url(#hatch)"/>
<rect x="1057.9" y="641.4" width="39.6" height="41.4" fill="url(#hatch)"/>
<rect x="1099.4" y="641.4" width="39.6" height="41.4" fill="url(#hatch)"/>
<rect x="1140.9" y="641.4" width="39.6" height="41.4" fill="url(#hatch)"/>
<rect x="1182.4" y="641.4" width="39.6" height="41.4" fill="url(#hatch)"/>
<rect x="725.9" y="693.2" width="39.6" height="41.4" fill="url(#hatch)"/>
<rect x="767.4" y="693.2" width="39.6" height="41.4" fill="url(#hatch)"/>
<rect x="808.9" y="693.2" width="39.6" height="41.4" fill="url(#hatch)"/>
<rect x="850.4" y="693.2" width="39.6" height="41.4" fill="url(#hatch)"/>
<rect x="891.9" y="693.2" width="39.6" height="41.4" fill="url(#hatch)"/>
<rect x="933.4" y="693.2" width="39.6" height="41.4" fill="url(#hatch)"/>
<rect x="974.9" y="693.2" width="39.6" height="41.4" fill="url(#hatch)"/>
<rect x="1016.4" y="693.2" width="39.6" height="41.4" fill="url(#hatch)"/>
<rect x="1057.9" y="693.2" width="39.6" height="41.4" fill="url(#hatch)"/>
<rect x="1099.4" y="693.2" width="39.6" height="41.4" fill="url(#hatch)"/>
<rect x="1140.9" y="693.2" width="39.6" height="41.4" fill="url(#hatch)"/>
<rect x="1182.4" y="693.2" width="39.6" height="41.4" fill="url(#hatch)"/>
<rect x="725.9" y="745.0" width="39.6" height="41.4" fill="url(#hatch)"/>
<rect x="767.4" y="745.0" width="39.6" height="41.4" fill="url(#hatch)"/>
<rect x="808.9" y="745.0" width="39.6" height="41.4" fill="url(#hatch)"/>
<rect x="850.4" y="745.0" width="39.6" height="41.4" fill="url(#hatch)"/>
<rect x="891.9" y="745.0" width="39.6" height="41.4" fill="url(#hatch)"/>
<rect x="933.4" y="745.0" width="39.6" height="41.4" fill="url(#hatch)"/>
<rect x="974.9" y="745.0" width="39.6" height="41.4" fill="url(#hatch)"/>
<rect x="1016.4" y="745.0" width="39.6" height="41.4" fill="url(#hatch)"/>
<rect x="1057.9" y="745.0" width="39.6" height="41.4" fill="url(#hatch)"/>
<rect x="1099.4" y="745.0" width="39.6" height="41.4" fill="url(#hatch)"/>
<rect x="1140.9" y="745.0" width="39.6" height="41.4" fill="url(#hatch)"/>
<rect x="1182.4" y="745.0" width="39.6" height="41.4" fill="url(#hatch)"/>
<rect x="725.9" y="796.8" width="39.6" height="41.4" fill="url(#hatch)"/>
<rect x="767.4" y="796.8" width="39.6" height="41.4" fill="url(#hatch)"/>
<rect x="808.9" y="796.8" width="39.6" height="41.4" fill="url(#hatch)"/>
<rect x="850.4" y="796.8" width="39.6" height="41.4" fill="url(#hatch)"/>
<rect x="891.9" y="796.8" width="39.6" height="41.4" fill="url(#hatch)"/>
<rect x="933.4" y="796.8" width="39.6" height="41.4" fill="url(#hatch)"/>
<rect x="974.9" y="796.8" width="39.6" height="41.4" fill="url(#hatch)"/>
<rect x="1016.4" y="796.8" width="39.6" height="41.4" fill="url(#hatch)"/>
<rect x="1057.9" y="796.8" width="39.6" height="41.4" fill="url(#hatch)"/>
<rect x="1099.4" y="796.8" width="39.6" height="41.4" fill="url(#hatch)"/>
<rect x="1140.9" y="796.8" width="39.6" height="41.4" fill="url(#hatch)"/>
<rect x="1182.4" y="796.8" width="39.6" height="41.4" fill="url(#hatch)"/>
<rect x="725.9" y="848.6" width="39.6" height="41.4" fill="url(#hatch)"/>
<rect x="767.4" y="848.6" width="39.6" height="41.4" fill="url(#hatch)"/>
<rect x="808.9" y="848.6" width="39.6" height="41.4" fill="url(#hatch)"/>
<rect x="850.4" y="848.6" width="39.6" height="41.4" fill="url(#hatch)"/>
<rect x="891.9" y="848.6" width="39.6" height="41.4" fill="url(#hatch)"/>
<rect x="933.4" y="848.6" width="39.6" height="41.4" fill="url(#hatch)"/>
<rect x="974.9" y="848.6" width="39.6" height="41.4" fill="url(#hatch)"/>
<rect x="1016.4" y="848.6" width="39.6" height="41.4" fill="url(#hatch)"/>
<rect x="1057.9" y="848.6" width="39.6" height="41.4" fill="url(#hatch)"/>
<rect x="1099.4" y="848.6" width="39.6" height="41.4" fill="url(#hatch)"/>
<rect x="1140.9" y="848.6" width="39.6" height="41.4" fill="url(#hatch)"/>
<rect x="1182.4" y="848.6" width="39.6" height="41.4" fill="url(#hatch)"/>
<rect x="725.9" y="900.4" width="39.6" height="41.4" fill="url(#hatch)"/>
<rect x="767.4" y="900.4" width="39.6" height="41.4" fill="url(#hatch)"/>
<rect x="808.9" y="900.4" width="39.6" height="41.4" fill="url(#hatch)"/>
<rect x="850.4" y="900.4" width="39.6" height="41.4" fill="url(#hatch)"/>
<rect x="891.9" y="900.4" width="39.6" height="41.4" fill="url(#hatch)"/>
<rect x="933.4" y="900.4" width="39.6" height="41.4" fill="url(#hatch)"/>
<rect x="974.9" y="900.4" width="39.6" height="41.4" fill="url(#hatch)"/>
<rect x="1016.4" y="900.4" width="39.6" height="41.4" fill="url(#hatch)"/>
<rect x="1057.9" y="900.4" width="39.6" height="41.4" fill="url(#hatch)"/>
<rect x="1099.4" y="900.4" width="39.6" height="41.4" fill="url(#hatch)"/>
<rect x="1140.9" y="900.4" width="39.6" height="41.4" fill="url(#hatch)"/>
<rect x="1182.4" y="900.4" width="39.6" height="41.4" fill="url(#hatch)"/>
<rect x="725.9" y="952.2" width="39.6" height="41.4" fill="url(#hatch)"/>
<rect x="767.4" y="952.2" width="39.6" height="41.4" fill="url(#hatch)"/>
<rect x="808.9" y="952.2" width="39.6" height="41.4" fill="url(#hatch)"/>
<rect x="850.4" y="952.2" width="39.6" height="41.4" fill="url(#hatch)"/>
<rect x="891.9" y="952.2" width="39.6" height="41.4" fill="url(#hatch)"/>
<rect x="933.4" y="952.2" width="39.6" height="41.4" fill="url(#hatch)"/>
<rect x="974.9" y="952.2" width="39.6" height="41.4" fill="url(#hatch)"/>
<rect x="1016.4" y="952.2" width="39.6" height="41.4" fill="url(#hatch)"/>
<rect x="1057.9" y="952.2" width="39.6" height="41.4" fill="url(#hatch)"/>
<rect x="1099.4" y="952.2" width="39.6" height="41.4" fill="url(#hatch)"/>
<rect x="1140.9" y="952.2" width="39.6" height="41.4" fill="url(#hatch)"/>
<rect x="1182.4" y="952.2" width="39.6" height="41.4" fill="url(#hatch)"/>
<rect x="725.9" y="1004.0" width="39.6" height="41.4" fill="url(#hatch)"/>
<rect x="767.4" y="1004.0" width="39.6" height="41.4" fill="url(#hatch)"/>
<rect x="808.9" y="1004.0" width="39.6" height="41.4" fill="url(#hatch)"/>
<rect x="850.4" y="1004.0" width="39.6" height="41.4" fill="url(#hatch)"/>
<rect x="891.9" y="1004.0" width="39.6" height="41.4" fill="url(#hatch)"/>
<rect x="933.4" y="1004.0" width="39.6" height="41.4" fill="url(#hatch)"/>
<rect x="974.9" y="1004.0" width="39.6" height="41.4" fill="url(#hatch)"/>
<rect x="1016.4" y="1004.0" width="39.6" height="41.4" fill="url(#hatch)"/>
<rect x="1057.9" y="1004.0" width="39.6" height="41.4" fill="url(#hatch)"/>
<rect x="1099.4" y="1004.0" width="39.6" height="41.4" fill="url(#hatch)"/>
<rect x="1140.9" y="1004.0" width="39.6" height="41.4" fill="url(#hatch)"/>
<rect x="1182.4" y="1004.0" width="39.6" height="41.4" fill="url(#hatch)"/>
<rect x="725.9" y="1055.8" width="39.6" height="41.4" fill="url(#hatch)"/>
<rect x="767.4" y="1055.8" width="39.6" height="41.4" fill="url(#hatch)"/>
<rect x="808.9" y="1055.8" width="39.6" height="41.4" fill="url(#hatch)"/>
<rect x="850.4" y="1055.8" width="39.6" height="41.4" fill="url(#hatch)"/>
<rect x="891.9" y="1055.8" width="39.6" height="41.4" fill="url(#hatch)"/>
<rect x="933.4" y="1055.8" width="39.6" height="41.4" fill="url(#hatch)"/>
<rect x="974.9" y="1055.8" width="39.6" height="41.4" fill="url(#hatch)"/>
<rect x="1016.4" y="1055.8" width="39.6" height="41.4" fill="url(#hatch)"/>
<rect x="1057.9" y="1055.8" width="39.6" height="41.4" fill="url(#hatch)"/>
<rect x="1099.4" y="1055.8" width="39.6" height="41.4" fill="url(#hatch)"/>
<rect x="1140.9" y="1055.8" width="39.6" height="41.4" fill="url(#hatch)"/>
<rect x="1182.4" y="1055.8" width="39.6" height="41.4" fill="url(#hatch)"/>
</g>
<rect x="891.9" y="641.4" width="39.6" height="41.4" fill="#3bb574"/>
<rect x="933.4" y="641.4" width="39.6" height="41.4" fill="#2fb47c"/>
<rect x="974.9" y="641.4" width="39.6" height="41.4" fill="#472a7a"/>
<rect x="1016.4" y="641.4" width="39.6" height="41.4" fill="#63cb5f"/>
<rect x="808.9" y="693.2" width="39.6" height="41.4" fill="#2fb47c"/>
<rect x="850.4" y="693.2" width="39.6" height="41.4" fill="#fde725"/>
<rect x="891.9" y="693.2" width="39.6" height="41.4" fill="#5ec962"/>
<rect x="933.4" y="693.2" width="39.6" height="41.4" fill="#52c569"/>
<rect x="974.9" y="693.2" width="39.6" height="41.4" fill="#3bbb75"/>
<rect x="1016.4" y="693.2" width="39.6" height="41.4" fill="#472d7b"/>
<rect x="1057.9" y="693.2" width="39.6" height="41.4" fill="#4ac16d"/>
<rect x="1099.4" y="693.2" width="39.6" height="41.4" fill="#7ad151"/>
<rect x="767.4" y="745.0" width="39.6" height="41.4" fill="#70cf57"/>
<rect x="808.9" y="745.0" width="39.6" height="41.4" fill="#8fd744"/>
<rect x="850.4" y="745.0" width="39.6" height="41.4" fill="#6ccd5a"/>
<rect x="891.9" y="745.0" width="39.6" height="41.4" fill="#433e85"/>
<rect x="933.4" y="745.0" width="39.6" height="41.4" fill="#3b528b"/>
<rect x="974.9" y="745.0" width="39.6" height="41.4" fill="#1f9e89"/>
<rect x="1016.4" y="745.0" width="39.6" height="41.4" fill="#2c728e"/>
<rect x="1057.9" y="745.0" width="39.6" height="41.4" fill="#21918c"/>
<rect x="1099.4" y="745.0" width="39.6" height="41.4" fill="#433e85"/>
<rect x="1140.9" y="745.0" width="39.6" height="41.4" fill="#6ccd5a"/>
<rect x="767.4" y="796.8" width="39.6" height="41.4" fill="#5ec962"/>
<rect x="808.9" y="796.8" width="39.6" height="41.4" fill="#35b779"/>
<rect x="850.4" y="796.8" width="39.6" height="41.4" fill="#9bd93c"/>
<rect x="891.9" y="796.8" width="39.6" height="41.4" fill="#1f9e89"/>
<rect x="933.4" y="796.8" width="39.6" height="41.4" fill="#3dbc74"/>
<rect x="974.9" y="796.8" width="39.6" height="41.4" fill="#20a386"/>
<rect x="1016.4" y="796.8" width="39.6" height="41.4" fill="#22a785"/>
<rect x="1057.9" y="796.8" width="39.6" height="41.4" fill="#440f76"/>
<rect x="1099.4" y="796.8" width="39.6" height="41.4" fill="#21a585"/>
<rect x="1140.9" y="796.8" width="39.6" height="41.4" fill="#2a788e"/>
<rect x="767.4" y="848.6" width="39.6" height="41.4" fill="#4ac16d"/>
<rect x="808.9" y="848.6" width="39.6" height="41.4" fill="#2f6c8e"/>
<rect x="850.4" y="848.6" width="39.6" height="41.4" fill="#22a884"/>
<rect x="891.9" y="848.6" width="39.6" height="41.4" fill="#2ab07f"/>
<rect x="933.4" y="848.6" width="39.6" height="41.4" fill="#22a884"/>
<rect x="974.9" y="848.6" width="39.6" height="41.4" fill="#20a486"/>
<rect x="1016.4" y="848.6" width="39.6" height="41.4" fill="#24878e"/>
<rect x="1057.9" y="848.6" width="39.6" height="41.4" fill="#1fa088"/>
<rect x="1099.4" y="848.6" width="39.6" height="41.4" fill="#23898e"/>
<rect x="1140.9" y="848.6" width="39.6" height="41.4" fill="#6ccd5a"/>
<rect x="767.4" y="900.4" width="39.6" height="41.4" fill="#3e4c8a"/>
<rect x="808.9" y="900.4" width="39.6" height="41.4" fill="#1f9a8a"/>
<rect x="850.4" y="900.4" width="39.6" height="41.4" fill="#20938c"/>
<rect x="891.9" y="900.4" width="39.6" height="41.4" fill="#1f9e89"/>
<rect x="933.4" y="900.4" width="39.6" height="41.4" fill="#4ac16d"/>
<rect x="974.9" y="900.4" width="39.6" height="41.4" fill="#22a884"/>
<rect x="1016.4" y="900.4" width="39.6" height="41.4" fill="#3dbc74"/>
<rect x="1057.9" y="900.4" width="39.6" height="41.4" fill="#44bf70"/>
<rect x="1099.4" y="900.4" width="39.6" height="41.4" fill="#6ccd5a"/>
<rect x="1140.9" y="900.4" width="39.6" height="41.4" fill="#70cf57"/>
<rect x="808.9" y="952.2" width="39.6" height="41.4" fill="#4ac16d"/>
<rect x="850.4" y="952.2" width="39.6" height="41.4" fill="#40bd72"/>
<rect x="891.9" y="952.2" width="39.6" height="41.4" fill="#63cb5f"/>
<rect x="933.4" y="952.2" width="39.6" height="41.4" fill="#a0da39"/>
<rect x="974.9" y="952.2" width="39.6" height="41.4" fill="#3dbc74"/>
<rect x="1016.4" y="952.2" width="39.6" height="41.4" fill="#52c569"/>
<rect x="1057.9" y="952.2" width="39.6" height="41.4" fill="#25ab82"/>
<rect x="1099.4" y="952.2" width="39.6" height="41.4" fill="#70cf57"/>
<rect x="891.9" y="1004.0" width="39.6" height="41.4" fill="#440154"/>
<rect x="933.4" y="1004.0" width="39.6" height="41.4" fill="#22a884"/>
<rect x="974.9" y="1004.0" width="39.6" height="41.4" fill="#6ccd5a"/>
<rect x="1016.4" y="1004.0" width="39.6" height="41.4" fill="#2eb37c"/>
<circle cx="974.7" cy="842.8" r="243" fill="none" stroke="#111" stroke-width="2"/>
<defs><linearGradient id="cbar" x1="0" y1="0" x2="0" y2="1"><stop offset="0.00" stop-color="#fde725"/><stop offset="0.05" stop-color="#dfe318"/><stop offset="0.10" stop-color="#bddf26"/><stop offset="0.15" stop-color="#9bd93c"/><stop offset="0.20" stop-color="#7ad151"/><stop offset="0.25" stop-color="#5cc863"/><stop offset="0.30" stop-color="#44bf70"/><stop offset="0.35" stop-color="#2fb47c"/><stop offset="0.40" stop-color="#22a884"/><stop offset="0.45" stop-color="#1e9c89"/><stop offset="0.50" stop-color="#21908d"/><stop offset="0.55" stop-color="#25848e"/><stop offset="0.60" stop-color="#2a788e"/><stop offset="0.65" stop-color="#2f6c8e"/><stop offset="0.70" stop-color="#355f8d"/><stop offset="0.75" stop-color="#3b528b"/><stop offset="0.80" stop-color="#414487"/><stop offset="0.85" stop-color="#463480"/><stop offset="0.90" stop-color="#482475"/><stop offset="0.95" stop-color="#471365"/><stop offset="1.00" stop-color="#440154"/></linearGradient></defs>
<rect x="1243.3" y="612.3" width="8.6" height="462" fill="url(#cbar)"/>
<text x="1261.5" y="635.8" font-size="21" text-anchor="start" fill="#000" font-weight="normal" font-family='"Liberation Sans", sans-serif' textLength="45.5" lengthAdjust="spacingAndGlyphs">8.50</text>
<text x="1261.5" y="693.9" font-size="21" text-anchor="start" fill="#000" font-weight="normal" font-family='"Liberation Sans", sans-serif' textLength="45.5" lengthAdjust="spacingAndGlyphs">8.25</text>
<text x="1261.5" y="752.1" font-size="21" text-anchor="start" fill="#000" font-weight="normal" font-family='"Liberation Sans", sans-serif' textLength="45.5" lengthAdjust="spacingAndGlyphs">8.00</text>
<text x="1261.5" y="810.2" font-size="21" text-anchor="start" fill="#000" font-weight="normal" font-family='"Liberation Sans", sans-serif' textLength="45.5" lengthAdjust="spacingAndGlyphs">7.75</text>
<text x="1261.5" y="868.4" font-size="21" text-anchor="start" fill="#000" font-weight="normal" font-family='"Liberation Sans", sans-serif' textLength="45.5" lengthAdjust="spacingAndGlyphs">7.50</text>
<text x="1261.5" y="926.5" font-size="21" text-anchor="start" fill="#000" font-weight="normal" font-family='"Liberation Sans", sans-serif' textLength="45.5" lengthAdjust="spacingAndGlyphs">7.25</text>
<text x="1261.5" y="984.7" font-size="21" text-anchor="start" fill="#000" font-weight="normal" font-family='"Liberation Sans", sans-serif' textLength="45.5" lengthAdjust="spacingAndGlyphs">7.00</text>
<text x="1261.5" y="1042.8" font-size="21" text-anchor="start" fill="#000" font-weight="normal" font-family='"Liberation Sans", sans-serif' textLength="45.5" lengthAdjust="spacingAndGlyphs">6.75</text>
<path d="M1251.9,628.0h4.3M1251.9,686.1h4.3M1251.9,744.3h4.3M1251.9,802.5h4.3M1251.9,860.6h4.3M1251.9,918.8h4.3M1251.9,976.9h4.3M1251.9,1035.0h4.3" stroke="#000" stroke-width="1.3"/>
<text x="1208.2" y="604.6" font-size="21.5" text-anchor="start" fill="#000" font-weight="normal" font-family='"Liberation Sans", sans-serif' textLength="79.5" lengthAdjust="spacingAndGlyphs">PP [dB]</text>
</svg></body></html>
